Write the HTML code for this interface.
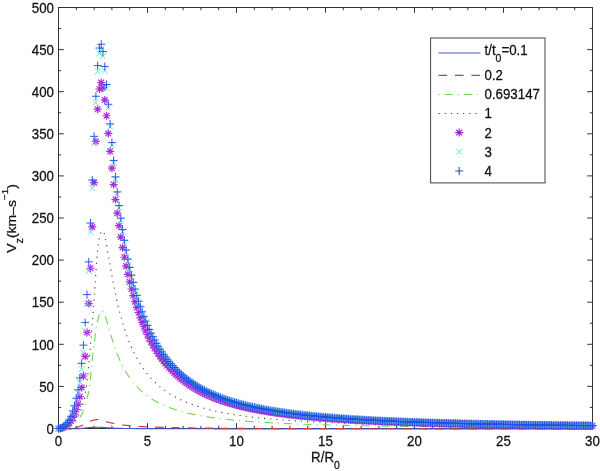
<!DOCTYPE html>
<html><head><meta charset="utf-8"><style>
html,body{margin:0;padding:0;background:#fff;width:600px;height:471px;overflow:hidden}
svg{display:block;will-change:transform;font-family:"Liberation Sans",sans-serif;font-size:13.3px;fill:#111}
text{stroke:#111;stroke-width:0.25px}
</style></head><body>
<svg width="600" height="471" viewBox="0 0 600 471">
<rect width="600" height="471" fill="#fff"/>
<rect x="58.50" y="7.50" width="534.00" height="421.00" fill="none" stroke="#333" stroke-width="1"/>
<path d="M58.50 428.50v-5.3M58.50 7.50v5.3M76.30 428.50v-2.7M76.30 7.50v2.7M94.10 428.50v-2.7M94.10 7.50v2.7M111.90 428.50v-2.7M111.90 7.50v2.7M129.70 428.50v-2.7M129.70 7.50v2.7M147.50 428.50v-5.3M147.50 7.50v5.3M165.30 428.50v-2.7M165.30 7.50v2.7M183.10 428.50v-2.7M183.10 7.50v2.7M200.90 428.50v-2.7M200.90 7.50v2.7M218.70 428.50v-2.7M218.70 7.50v2.7M236.50 428.50v-5.3M236.50 7.50v5.3M254.30 428.50v-2.7M254.30 7.50v2.7M272.10 428.50v-2.7M272.10 7.50v2.7M289.90 428.50v-2.7M289.90 7.50v2.7M307.70 428.50v-2.7M307.70 7.50v2.7M325.50 428.50v-5.3M325.50 7.50v5.3M343.30 428.50v-2.7M343.30 7.50v2.7M361.10 428.50v-2.7M361.10 7.50v2.7M378.90 428.50v-2.7M378.90 7.50v2.7M396.70 428.50v-2.7M396.70 7.50v2.7M414.50 428.50v-5.3M414.50 7.50v5.3M432.30 428.50v-2.7M432.30 7.50v2.7M450.10 428.50v-2.7M450.10 7.50v2.7M467.90 428.50v-2.7M467.90 7.50v2.7M485.70 428.50v-2.7M485.70 7.50v2.7M503.50 428.50v-5.3M503.50 7.50v5.3M521.30 428.50v-2.7M521.30 7.50v2.7M539.10 428.50v-2.7M539.10 7.50v2.7M556.90 428.50v-2.7M556.90 7.50v2.7M574.70 428.50v-2.7M574.70 7.50v2.7M592.50 428.50v-5.3M592.50 7.50v5.3M58.50 428.50h5.3M592.50 428.50h-5.3M58.50 407.45h2.7M592.50 407.45h-2.7M58.50 386.40h5.3M592.50 386.40h-5.3M58.50 365.35h2.7M592.50 365.35h-2.7M58.50 344.30h5.3M592.50 344.30h-5.3M58.50 323.25h2.7M592.50 323.25h-2.7M58.50 302.20h5.3M592.50 302.20h-5.3M58.50 281.15h2.7M592.50 281.15h-2.7M58.50 260.10h5.3M592.50 260.10h-5.3M58.50 239.05h2.7M592.50 239.05h-2.7M58.50 218.00h5.3M592.50 218.00h-5.3M58.50 196.95h2.7M592.50 196.95h-2.7M58.50 175.90h5.3M592.50 175.90h-5.3M58.50 154.85h2.7M592.50 154.85h-2.7M58.50 133.80h5.3M592.50 133.80h-5.3M58.50 112.75h2.7M592.50 112.75h-2.7M58.50 91.70h5.3M592.50 91.70h-5.3M58.50 70.65h2.7M592.50 70.65h-2.7M58.50 49.60h5.3M592.50 49.60h-5.3M58.50 28.55h2.7M592.50 28.55h-2.7M58.50 7.50h5.3M592.50 7.50h-5.3" stroke="#333" stroke-width="1" fill="none"/>
<path d="M58.50,428.90 L58.68,428.90 L58.86,428.90 L59.03,428.90 L59.21,428.90 L59.39,428.90 L59.57,428.90 L59.75,428.90 L59.92,428.90 L60.10,428.90 L60.28,428.90 L60.46,428.90 L60.64,428.90 L60.81,428.90 L60.99,428.90 L61.17,428.90 L61.35,428.90 L61.53,428.90 L61.70,428.90 L61.88,428.89 L62.06,428.89 L62.24,428.89 L62.42,428.89 L62.59,428.89 L62.77,428.89 L62.95,428.89 L63.13,428.89 L63.31,428.89 L63.48,428.89 L63.66,428.89 L63.84,428.89 L64.02,428.89 L64.20,428.89 L64.37,428.88 L64.55,428.88 L64.73,428.88 L64.91,428.88 L65.09,428.88 L65.26,428.88 L65.44,428.88 L65.62,428.88 L65.80,428.88 L65.98,428.88 L66.15,428.87 L66.33,428.87 L66.51,428.87 L66.69,428.87 L66.87,428.87 L67.04,428.87 L67.22,428.87 L67.40,428.87 L67.58,428.86 L67.76,428.86 L67.93,428.86 L68.11,428.86 L68.29,428.86 L68.47,428.86 L68.65,428.86 L68.82,428.85 L69.00,428.85 L69.18,428.85 L69.36,428.85 L69.54,428.85 L69.71,428.85 L69.89,428.84 L70.07,428.84 L70.25,428.84 L70.43,428.84 L70.60,428.84 L70.78,428.84 L70.96,428.83 L71.14,428.83 L71.32,428.83 L71.49,428.83 L71.67,428.83 L71.85,428.83 L72.03,428.82 L72.21,428.82 L72.38,428.82 L72.56,428.82 L72.74,428.82 L72.92,428.81 L73.10,428.81 L73.27,428.81 L73.45,428.81 L73.63,428.80 L73.81,428.80 L73.99,428.80 L74.16,428.79 L74.34,428.79 L74.52,428.78 L74.70,428.78 L74.88,428.77 L75.05,428.77 L75.23,428.76 L75.41,428.76 L75.59,428.75 L75.77,428.75 L75.94,428.74 L76.12,428.73 L76.30,428.73 L76.48,428.72 L76.66,428.71 L76.83,428.71 L77.01,428.70 L77.19,428.69 L77.37,428.68 L77.55,428.68 L77.72,428.67 L77.90,428.66 L78.08,428.65 L78.26,428.64 L78.44,428.64 L78.61,428.63 L78.79,428.62 L78.97,428.61 L79.15,428.60 L79.33,428.59 L79.50,428.58 L79.68,428.57 L79.86,428.56 L80.04,428.55 L80.22,428.54 L80.39,428.53 L80.57,428.52 L80.75,428.50 L80.93,428.49 L81.11,428.47 L81.28,428.46 L81.46,428.44 L81.64,428.42 L81.82,428.40 L82.00,428.38 L82.17,428.36 L82.35,428.34 L82.53,428.32 L82.71,428.30 L82.89,428.28 L83.06,428.26 L83.24,428.23 L83.42,428.21 L83.60,428.19 L83.78,428.17 L83.95,428.15 L84.13,428.12 L84.31,428.10 L84.49,428.08 L84.67,428.06 L84.84,428.03 L85.02,428.01 L85.20,427.99 L85.38,427.97 L85.56,427.95 L85.73,427.93 L85.91,427.91 L86.09,427.89 L86.27,427.87 L86.45,427.85 L86.62,427.84 L86.80,427.82 L86.98,427.81 L87.16,427.79 L87.34,427.77 L87.51,427.76 L87.69,427.74 L87.87,427.73 L88.05,427.71 L88.23,427.69 L88.40,427.68 L88.58,427.66 L88.76,427.64 L88.94,427.62 L89.12,427.61 L89.29,427.59 L89.47,427.57 L89.65,427.56 L89.83,427.54 L90.01,427.52 L90.18,427.51 L90.36,427.49 L90.54,427.48 L90.72,427.46 L90.90,427.45 L91.07,427.43 L91.25,427.42 L91.43,427.41 L91.61,427.39 L91.79,427.38 L91.96,427.37 L92.14,427.36 L92.32,427.35 L92.50,427.34 L92.68,427.33 L92.85,427.33 L93.03,427.32 L93.21,427.31 L93.39,427.31 L93.57,427.31 L93.74,427.30 L93.92,427.30 L94.10,427.30 L94.28,427.30 L94.46,427.30 L94.63,427.30 L94.81,427.30 L94.99,427.30 L95.17,427.30 L95.35,427.30 L95.52,427.30 L95.70,427.30 L95.88,427.30 L96.06,427.30 L96.24,427.30 L96.41,427.30 L96.59,427.30 L96.77,427.30 L96.95,427.30 L97.13,427.30 L97.30,427.30 L97.48,427.30 L97.66,427.30 L97.84,427.30 L98.02,427.30 L98.19,427.30 L98.37,427.30 L98.55,427.30 L98.73,427.30 L98.91,427.30 L99.08,427.30 L99.26,427.30 L99.44,427.30 L99.62,427.30 L99.80,427.30 L99.97,427.30 L100.15,427.31 L100.33,427.31 L100.51,427.32 L100.69,427.32 L100.86,427.33 L101.04,427.34 L101.22,427.35 L101.40,427.36 L101.58,427.37 L101.75,427.38 L101.93,427.39 L102.11,427.40 L102.29,427.41 L102.47,427.42 L102.64,427.43 L102.82,427.45 L103.00,427.46 L103.18,427.47 L103.36,427.49 L103.53,427.50 L103.71,427.51 L103.89,427.53 L104.07,427.54 L104.25,427.56 L104.42,427.57 L104.60,427.58 L104.78,427.60 L104.96,427.61 L105.14,427.62 L105.31,427.64 L105.49,427.65 L105.67,427.66 L105.85,427.68 L106.03,427.69 L106.20,427.70 L106.38,427.71 L106.56,427.72 L106.74,427.73 L106.92,427.74 L107.09,427.75 L107.27,427.76 L107.45,427.77 L107.63,427.79 L107.81,427.80 L107.98,427.81 L108.16,427.82 L108.34,427.83 L108.52,427.84 L108.70,427.85 L108.87,427.87 L109.05,427.88 L109.23,427.89 L109.41,427.90 L109.59,427.91 L109.76,427.92 L109.94,427.93 L110.12,427.95 L110.30,427.96 L110.48,427.97 L110.65,427.98 L110.83,427.99 L111.01,428.00 L111.19,428.01 L111.37,428.03 L111.54,428.04 L111.72,428.05 L111.90,428.06 L112.08,428.07 L112.26,428.08 L112.43,428.09 L112.61,428.10 L112.79,428.11 L112.97,428.12 L113.15,428.13 L113.32,428.14 L113.50,428.15 L113.68,428.15 L113.86,428.16 L114.04,428.17 L114.21,428.18 L114.39,428.19 L114.57,428.19 L114.75,428.20 L114.93,428.21 L115.10,428.21 L115.28,428.22 L115.46,428.23 L115.64,428.23 L115.82,428.24 L115.99,428.24 L116.17,428.25 L116.35,428.25 L116.53,428.26 L116.71,428.26 L116.88,428.27 L117.06,428.27 L117.24,428.28 L117.42,428.29 L117.60,428.29 L117.77,428.30 L117.95,428.30 L118.13,428.30 L118.31,428.31 L118.49,428.31 L118.66,428.32 L118.84,428.32 L119.02,428.33 L119.20,428.33 L119.38,428.34 L119.55,428.34 L119.73,428.35 L119.91,428.35 L120.09,428.36 L120.27,428.36 L120.44,428.36 L120.62,428.37 L120.80,428.37 L120.98,428.38 L121.16,428.38 L121.33,428.39 L121.51,428.39 L121.69,428.39 L121.87,428.40 L122.05,428.40 L122.22,428.40 L122.40,428.41 L122.58,428.41 L122.76,428.42 L122.94,428.42 L123.11,428.42 L123.29,428.43 L123.47,428.43 L123.65,428.43 L123.83,428.44 L124.00,428.44 L124.18,428.44 L124.36,428.45 L124.54,428.45 L124.72,428.45 L124.89,428.46 L125.07,428.46 L125.25,428.46 L125.43,428.46 L125.61,428.47 L125.78,428.47 L125.96,428.47 L126.14,428.48 L126.32,428.48 L126.50,428.48 L126.67,428.48 L126.85,428.49 L127.03,428.49 L127.21,428.49 L127.39,428.49 L127.56,428.50 L127.74,428.50 L127.92,428.50 L128.10,428.50 L128.28,428.51 L128.45,428.51 L128.63,428.51 L128.81,428.51 L128.99,428.51 L129.17,428.52 L129.34,428.52 L129.52,428.52 L129.70,428.52 L129.88,428.52 L130.06,428.52 L130.23,428.53 L130.41,428.53 L130.59,428.53 L130.77,428.53 L130.95,428.53 L131.12,428.54 L131.30,428.54 L131.48,428.54 L131.66,428.54 L131.84,428.54 L132.01,428.54 L132.19,428.55 L132.37,428.55 L132.55,428.55 L132.73,428.55 L132.90,428.55 L133.08,428.55 L133.26,428.55 L133.44,428.56 L133.62,428.56 L133.79,428.56 L133.97,428.56 L134.15,428.56 L134.33,428.56 L134.51,428.57 L134.68,428.57 L134.86,428.57 L135.04,428.57 L135.22,428.57 L135.40,428.57 L135.57,428.58 L135.75,428.58 L135.93,428.58 L136.11,428.58 L136.29,428.58 L136.46,428.58 L136.64,428.58 L136.82,428.59 L137.00,428.59 L137.18,428.59 L137.35,428.59 L137.53,428.59 L137.71,428.59 L137.89,428.59 L138.07,428.60 L138.24,428.60 L138.42,428.60 L138.60,428.60 L138.78,428.60 L138.96,428.60 L139.13,428.60 L139.31,428.61 L139.49,428.61 L139.67,428.61 L139.85,428.61 L140.02,428.61 L140.20,428.61 L140.38,428.61 L140.56,428.61 L140.74,428.62 L140.91,428.62 L141.09,428.62 L141.27,428.62 L141.45,428.62 L141.63,428.62 L141.80,428.62 L141.98,428.62 L142.16,428.63 L142.34,428.63 L142.52,428.63 L142.69,428.63 L142.87,428.63 L143.05,428.63 L143.23,428.63 L143.41,428.63 L143.58,428.64 L143.76,428.64 L143.94,428.64 L144.12,428.64 L144.30,428.64 L144.47,428.64 L144.65,428.64 L144.83,428.64 L145.01,428.64 L145.19,428.65 L145.36,428.65 L145.54,428.65 L145.72,428.65 L145.90,428.65 L146.08,428.65 L146.25,428.65 L146.43,428.65 L146.61,428.65 L146.79,428.66 L146.97,428.66 L147.14,428.66 L147.32,428.66 L147.50,428.66 L147.86,428.66 L148.21,428.66 L148.57,428.67 L148.92,428.67 L149.28,428.67 L149.64,428.67 L149.99,428.67 L150.35,428.67 L150.70,428.68 L151.06,428.68 L151.42,428.68 L151.77,428.68 L152.13,428.68 L152.48,428.69 L152.84,428.69 L153.20,428.69 L153.55,428.69 L153.91,428.69 L154.26,428.69 L154.62,428.69 L154.98,428.70 L155.33,428.70 L155.69,428.70 L156.04,428.70 L156.40,428.70 L156.76,428.70 L157.11,428.71 L157.47,428.71 L157.82,428.71 L158.18,428.71 L158.54,428.71 L158.89,428.71 L159.25,428.71 L159.60,428.71 L159.96,428.72 L160.32,428.72 L160.67,428.72 L161.03,428.72 L161.38,428.72 L161.74,428.72 L162.10,428.72 L162.45,428.72 L162.81,428.72 L163.16,428.73 L163.52,428.73 L163.88,428.73 L164.23,428.73 L164.59,428.73 L164.94,428.73 L165.30,428.73 L165.66,428.73 L166.01,428.73 L166.37,428.73 L166.72,428.74 L167.08,428.74 L167.44,428.74 L167.79,428.74 L168.15,428.74 L168.50,428.74 L168.86,428.74 L169.22,428.74 L169.57,428.74 L169.93,428.74 L170.28,428.74 L170.64,428.75 L171.00,428.75 L171.35,428.75 L171.71,428.75 L172.06,428.75 L172.42,428.75 L172.78,428.75 L173.13,428.75 L173.49,428.75 L173.84,428.75 L174.20,428.75 L174.56,428.75 L174.91,428.76 L175.27,428.76 L175.62,428.76 L175.98,428.76 L176.34,428.76 L176.69,428.76 L177.05,428.76 L177.40,428.76 L177.76,428.76 L178.12,428.76 L178.47,428.76 L178.83,428.76 L179.18,428.77 L179.54,428.77 L179.90,428.77 L180.25,428.77 L180.61,428.77 L180.96,428.77 L181.32,428.77 L181.68,428.77 L182.03,428.77 L182.39,428.77 L182.74,428.77 L183.10,428.77 L183.46,428.77 L183.81,428.78 L184.17,428.78 L184.52,428.78 L184.88,428.78 L185.24,428.78 L185.59,428.78 L185.95,428.78 L186.30,428.78 L186.66,428.78 L187.02,428.78 L187.37,428.78 L187.73,428.78 L188.08,428.78 L188.44,428.78 L188.80,428.79 L189.15,428.79 L189.51,428.79 L189.86,428.79 L190.22,428.79 L190.58,428.79 L190.93,428.79 L191.29,428.79 L191.64,428.79 L192.00,428.79 L192.36,428.79 L192.71,428.79 L193.07,428.79 L193.42,428.79 L193.78,428.79 L194.14,428.80 L194.49,428.80 L194.85,428.80 L195.20,428.80 L195.56,428.80 L195.92,428.80 L196.27,428.80 L196.63,428.80 L196.98,428.80 L197.34,428.80 L197.70,428.80 L198.05,428.80 L198.41,428.80 L198.76,428.80 L199.12,428.80 L199.48,428.80 L199.83,428.81 L200.19,428.81 L200.54,428.81 L200.90,428.81 L201.26,428.81 L201.61,428.81 L201.97,428.81 L202.32,428.81 L202.68,428.81 L203.04,428.81 L203.39,428.81 L203.75,428.81 L204.10,428.81 L204.46,428.81 L204.82,428.81 L205.17,428.81 L205.53,428.81 L205.88,428.81 L206.24,428.81 L206.60,428.82 L206.95,428.82 L207.31,428.82 L207.66,428.82 L208.02,428.82 L208.38,428.82 L208.73,428.82 L209.09,428.82 L209.44,428.82 L209.80,428.82 L210.16,428.82 L210.51,428.82 L210.87,428.82 L211.22,428.82 L211.58,428.82 L211.94,428.82 L212.29,428.82 L212.65,428.82 L213.00,428.82 L213.36,428.82 L213.72,428.82 L214.07,428.82 L214.43,428.83 L214.78,428.83 L215.14,428.83 L215.50,428.83 L215.85,428.83 L216.21,428.83 L216.56,428.83 L216.92,428.83 L217.28,428.83 L217.63,428.83 L217.99,428.83 L218.34,428.83 L218.70,428.83 L219.06,428.83 L219.41,428.83 L219.77,428.83 L220.12,428.83 L220.48,428.83 L220.84,428.83 L221.19,428.83 L221.55,428.83 L221.90,428.83 L222.26,428.83 L222.62,428.83 L222.97,428.83 L223.33,428.83 L223.68,428.83 L224.04,428.83 L224.40,428.83 L224.75,428.83 L225.11,428.83 L225.46,428.84 L225.82,428.84 L226.18,428.84 L226.53,428.84 L226.89,428.84 L227.24,428.84 L227.60,428.84 L227.96,428.84 L228.31,428.84 L228.67,428.84 L229.02,428.84 L229.38,428.84 L229.74,428.84 L230.09,428.84 L230.45,428.84 L230.80,428.84 L231.16,428.84 L231.52,428.84 L231.87,428.84 L232.23,428.84 L232.58,428.84 L232.94,428.84 L233.30,428.84 L233.65,428.84 L234.01,428.84 L234.36,428.84 L234.72,428.84 L235.08,428.84 L235.43,428.84 L235.79,428.84 L236.14,428.84 L236.50,428.84 L236.86,428.84 L237.21,428.84 L237.57,428.84 L237.92,428.84 L238.28,428.84 L238.64,428.84 L238.99,428.84 L239.35,428.84 L239.70,428.84 L240.06,428.84 L240.42,428.84 L240.77,428.84 L241.13,428.84 L241.48,428.84 L241.84,428.84 L242.20,428.84 L242.55,428.84 L242.91,428.84 L243.26,428.84 L243.62,428.84 L243.98,428.84 L244.33,428.84 L244.69,428.84 L245.04,428.84 L245.40,428.84 L245.76,428.84 L246.11,428.84 L246.47,428.84 L246.82,428.84 L247.18,428.84 L247.54,428.84 L247.89,428.84 L248.25,428.84 L248.60,428.84 L248.96,428.84 L249.32,428.85 L249.67,428.85 L250.03,428.85 L250.38,428.85 L250.74,428.85 L251.10,428.85 L251.45,428.85 L251.81,428.85 L252.16,428.85 L252.52,428.85 L252.88,428.85 L253.23,428.85 L253.59,428.85 L253.94,428.85 L254.30,428.85 L254.66,428.85 L255.01,428.85 L255.37,428.85 L255.72,428.85 L256.08,428.85 L256.44,428.85 L256.79,428.85 L257.15,428.85 L257.50,428.85 L257.86,428.85 L258.22,428.85 L258.57,428.85 L258.93,428.85 L259.28,428.85 L259.64,428.85 L260.00,428.85 L260.35,428.85 L260.71,428.85 L261.06,428.85 L261.42,428.85 L261.78,428.85 L262.13,428.85 L262.49,428.85 L262.84,428.85 L263.20,428.85 L263.56,428.85 L263.91,428.85 L264.27,428.85 L264.62,428.85 L264.98,428.85 L265.34,428.85 L265.69,428.85 L266.05,428.85 L266.40,428.85 L266.76,428.85 L267.12,428.85 L267.47,428.85 L267.83,428.85 L268.18,428.85 L268.54,428.85 L268.90,428.85 L269.25,428.85 L269.61,428.85 L269.96,428.85 L270.32,428.85 L270.68,428.85 L271.03,428.85 L271.39,428.85 L271.74,428.85 L272.10,428.85 L272.46,428.85 L272.81,428.85 L273.17,428.85 L273.52,428.85 L273.88,428.85 L274.24,428.85 L274.59,428.85 L274.95,428.85 L275.30,428.85 L275.66,428.85 L276.02,428.85 L276.37,428.85 L276.73,428.85 L277.08,428.85 L277.44,428.85 L277.80,428.85 L278.15,428.85 L278.51,428.85 L278.86,428.85 L279.22,428.85 L279.58,428.85 L279.93,428.85 L280.29,428.85 L280.64,428.85 L281.00,428.85 L281.36,428.85 L281.71,428.85 L282.07,428.85 L282.42,428.85 L282.78,428.85 L283.14,428.85 L283.49,428.85 L283.85,428.85 L284.20,428.85 L284.56,428.86 L284.92,428.86 L285.27,428.86 L285.63,428.86 L285.98,428.86 L286.34,428.86 L286.70,428.86 L287.05,428.86 L287.41,428.86 L287.76,428.86 L288.12,428.86 L288.48,428.86 L288.83,428.86 L289.19,428.86 L289.54,428.86 L289.90,428.86 L290.26,428.86 L290.61,428.86 L290.97,428.86 L291.32,428.86 L291.68,428.86 L292.04,428.86 L292.39,428.86 L292.75,428.86 L293.10,428.86 L293.46,428.86 L293.82,428.86 L294.17,428.86 L294.53,428.86 L294.88,428.86 L295.24,428.86 L295.60,428.86 L295.95,428.86 L296.31,428.86 L296.66,428.86 L297.02,428.86 L297.38,428.86 L297.73,428.86 L298.09,428.86 L298.44,428.86 L298.80,428.86 L299.16,428.86 L299.51,428.86 L299.87,428.86 L300.22,428.86 L300.58,428.86 L300.94,428.86 L301.29,428.86 L301.65,428.86 L302.00,428.86 L302.36,428.86 L302.72,428.86 L303.07,428.86 L303.43,428.86 L303.78,428.86 L304.14,428.86 L304.50,428.86 L304.85,428.86 L305.21,428.86 L305.56,428.86 L305.92,428.86 L306.28,428.86 L306.63,428.86 L306.99,428.86 L307.34,428.86 L307.70,428.86 L308.06,428.86 L308.41,428.86 L308.77,428.86 L309.12,428.86 L309.48,428.86 L309.84,428.86 L310.19,428.86 L310.55,428.86 L310.90,428.86 L311.26,428.86 L311.62,428.86 L311.97,428.86 L312.33,428.86 L312.68,428.86 L313.04,428.86 L313.40,428.86 L313.75,428.86 L314.11,428.86 L314.46,428.86 L314.82,428.86 L315.18,428.86 L315.53,428.86 L315.89,428.86 L316.24,428.86 L316.60,428.86 L316.96,428.86 L317.31,428.86 L317.67,428.86 L318.02,428.86 L318.38,428.86 L318.74,428.86 L319.09,428.86 L319.45,428.86 L319.80,428.86 L320.16,428.86 L320.52,428.86 L320.87,428.86 L321.23,428.86 L321.58,428.86 L321.94,428.86 L322.30,428.86 L322.65,428.86 L323.01,428.86 L323.36,428.86 L323.72,428.86 L324.08,428.86 L324.43,428.86 L324.79,428.86 L325.14,428.86 L325.50,428.86 L325.86,428.86 L326.21,428.87 L326.57,428.87 L326.92,428.87 L327.28,428.87 L327.64,428.87 L327.99,428.87 L328.35,428.87 L328.70,428.87 L329.06,428.87 L329.42,428.87 L329.77,428.87 L330.13,428.87 L330.48,428.87 L330.84,428.87 L331.20,428.87 L331.55,428.87 L331.91,428.87 L332.26,428.87 L332.62,428.87 L332.98,428.87 L333.33,428.87 L333.69,428.87 L334.04,428.87 L334.40,428.87 L334.76,428.87 L335.11,428.87 L335.47,428.87 L335.82,428.87 L336.18,428.87 L336.54,428.87 L336.89,428.87 L337.25,428.87 L337.60,428.87 L337.96,428.87 L338.32,428.87 L338.67,428.87 L339.03,428.87 L339.38,428.87 L339.74,428.87 L340.10,428.87 L340.45,428.87 L340.81,428.87 L341.16,428.87 L341.52,428.87 L341.88,428.87 L342.23,428.87 L342.59,428.87 L342.94,428.87 L343.30,428.87 L343.66,428.87 L344.01,428.87 L344.37,428.87 L344.72,428.87 L345.08,428.87 L345.44,428.87 L345.79,428.87 L346.15,428.87 L346.50,428.87 L346.86,428.87 L347.22,428.87 L347.57,428.87 L347.93,428.87 L348.28,428.87 L348.64,428.87 L349.00,428.87 L349.35,428.87 L349.71,428.87 L350.06,428.87 L350.42,428.87 L350.78,428.87 L351.13,428.87 L351.49,428.87 L351.84,428.87 L352.20,428.87 L352.56,428.87 L352.91,428.87 L353.27,428.87 L353.62,428.87 L353.98,428.87 L354.34,428.87 L354.69,428.87 L355.05,428.87 L355.40,428.87 L355.76,428.87 L356.12,428.87 L356.47,428.87 L356.83,428.87 L357.18,428.87 L357.54,428.87 L357.90,428.87 L358.25,428.87 L358.61,428.87 L358.96,428.87 L359.32,428.87 L359.68,428.87 L360.03,428.87 L360.39,428.87 L360.74,428.87 L361.10,428.87 L361.46,428.87 L361.81,428.87 L362.17,428.87 L362.52,428.87 L362.88,428.87 L363.24,428.87 L363.59,428.87 L363.95,428.87 L364.30,428.87 L364.66,428.87 L365.02,428.87 L365.37,428.87 L365.73,428.87 L366.08,428.87 L366.44,428.87 L366.80,428.87 L367.15,428.87 L367.51,428.87 L367.86,428.87 L368.22,428.87 L368.58,428.87 L368.93,428.87 L369.29,428.87 L369.64,428.87 L370.00,428.87 L370.36,428.87 L370.71,428.87 L371.07,428.87 L371.42,428.87 L371.78,428.87 L372.14,428.87 L372.49,428.87 L372.85,428.87 L373.20,428.87 L373.56,428.87 L373.92,428.87 L374.27,428.87 L374.63,428.87 L374.98,428.87 L375.34,428.87 L375.70,428.87 L376.05,428.87 L376.41,428.87 L376.76,428.87 L377.12,428.87 L377.48,428.87 L377.83,428.88 L378.19,428.88 L378.54,428.88 L378.90,428.88 L379.26,428.88 L379.61,428.88 L379.97,428.88 L380.32,428.88 L380.68,428.88 L381.04,428.88 L381.39,428.88 L381.75,428.88 L382.10,428.88 L382.46,428.88 L382.82,428.88 L383.17,428.88 L383.53,428.88 L383.88,428.88 L384.24,428.88 L384.60,428.88 L384.95,428.88 L385.31,428.88 L385.66,428.88 L386.02,428.88 L386.38,428.88 L386.73,428.88 L387.09,428.88 L387.44,428.88 L387.80,428.88 L388.16,428.88 L388.51,428.88 L388.87,428.88 L389.22,428.88 L389.58,428.88 L389.94,428.88 L390.29,428.88 L390.65,428.88 L391.00,428.88 L391.36,428.88 L391.72,428.88 L392.07,428.88 L392.43,428.88 L392.78,428.88 L393.14,428.88 L393.50,428.88 L393.85,428.88 L394.21,428.88 L394.56,428.88 L394.92,428.88 L395.28,428.88 L395.63,428.88 L395.99,428.88 L396.34,428.88 L396.70,428.88 L397.06,428.88 L397.41,428.88 L397.77,428.88 L398.12,428.88 L398.48,428.88 L398.84,428.88 L399.19,428.88 L399.55,428.88 L399.90,428.88 L400.26,428.88 L400.62,428.88 L400.97,428.88 L401.33,428.88 L401.68,428.88 L402.04,428.88 L402.40,428.88 L402.75,428.88 L403.11,428.88 L403.46,428.88 L403.82,428.88 L404.18,428.88 L404.53,428.88 L404.89,428.88 L405.24,428.88 L405.60,428.88 L405.96,428.88 L406.31,428.88 L406.67,428.88 L407.02,428.88 L407.38,428.88 L407.74,428.88 L408.09,428.88 L408.45,428.88 L408.80,428.88 L409.16,428.88 L409.52,428.88 L409.87,428.88 L410.23,428.88 L410.58,428.88 L410.94,428.88 L411.30,428.88 L411.65,428.88 L412.01,428.88 L412.36,428.88 L412.72,428.88 L413.08,428.88 L413.43,428.88 L413.79,428.88 L414.14,428.88 L414.50,428.88 L414.86,428.88 L415.21,428.88 L415.57,428.88 L415.92,428.88 L416.28,428.88 L416.64,428.88 L416.99,428.88 L417.35,428.88 L417.70,428.88 L418.06,428.88 L418.42,428.88 L418.77,428.88 L419.13,428.88 L419.48,428.88 L419.84,428.88 L420.20,428.88 L420.55,428.88 L420.91,428.88 L421.26,428.88 L421.62,428.88 L421.98,428.88 L422.33,428.88 L422.69,428.88 L423.04,428.88 L423.40,428.88 L423.76,428.88 L424.11,428.88 L424.47,428.88 L424.82,428.88 L425.18,428.88 L425.54,428.88 L425.89,428.88 L426.25,428.88 L426.60,428.88 L426.96,428.88 L427.32,428.88 L427.67,428.88 L428.03,428.88 L428.38,428.88 L428.74,428.88 L429.10,428.88 L429.45,428.88 L429.81,428.88 L430.16,428.88 L430.52,428.88 L430.88,428.88 L431.23,428.88 L431.59,428.88 L431.94,428.88 L432.30,428.88 L432.66,428.88 L433.01,428.88 L433.37,428.88 L433.72,428.88 L434.08,428.88 L434.44,428.88 L434.79,428.88 L435.15,428.88 L435.50,428.88 L435.86,428.88 L436.22,428.88 L436.57,428.88 L436.93,428.88 L437.28,428.88 L437.64,428.88 L438.00,428.88 L438.35,428.88 L438.71,428.88 L439.06,428.88 L439.42,428.88 L439.78,428.88 L440.13,428.88 L440.49,428.88 L440.84,428.88 L441.20,428.88 L441.56,428.88 L441.91,428.88 L442.27,428.88 L442.62,428.88 L442.98,428.88 L443.34,428.88 L443.69,428.88 L444.05,428.88 L444.40,428.88 L444.76,428.88 L445.12,428.88 L445.47,428.88 L445.83,428.88 L446.18,428.88 L446.54,428.88 L446.90,428.88 L447.25,428.88 L447.61,428.88 L447.96,428.88 L448.32,428.88 L448.68,428.88 L449.03,428.88 L449.39,428.88 L449.74,428.88 L450.10,428.88 L450.46,428.88 L450.81,428.88 L451.17,428.88 L451.52,428.88 L451.88,428.88 L452.24,428.88 L452.59,428.88 L452.95,428.88 L453.30,428.89 L453.66,428.89 L454.02,428.89 L454.37,428.89 L454.73,428.89 L455.08,428.89 L455.44,428.89 L455.80,428.89 L456.15,428.89 L456.51,428.89 L456.86,428.89 L457.22,428.89 L457.58,428.89 L457.93,428.89 L458.29,428.89 L458.64,428.89 L459.00,428.89 L459.36,428.89 L459.71,428.89 L460.07,428.89 L460.42,428.89 L460.78,428.89 L461.14,428.89 L461.49,428.89 L461.85,428.89 L462.20,428.89 L462.56,428.89 L462.92,428.89 L463.27,428.89 L463.63,428.89 L463.98,428.89 L464.34,428.89 L464.70,428.89 L465.05,428.89 L465.41,428.89 L465.76,428.89 L466.12,428.89 L466.48,428.89 L466.83,428.89 L467.19,428.89 L467.54,428.89 L467.90,428.89 L468.26,428.89 L468.61,428.89 L468.97,428.89 L469.32,428.89 L469.68,428.89 L470.04,428.89 L470.39,428.89 L470.75,428.89 L471.10,428.89 L471.46,428.89 L471.82,428.89 L472.17,428.89 L472.53,428.89 L472.88,428.89 L473.24,428.89 L473.60,428.89 L473.95,428.89 L474.31,428.89 L474.66,428.89 L475.02,428.89 L475.38,428.89 L475.73,428.89 L476.09,428.89 L476.44,428.89 L476.80,428.89 L477.16,428.89 L477.51,428.89 L477.87,428.89 L478.22,428.89 L478.58,428.89 L478.94,428.89 L479.29,428.89 L479.65,428.89 L480.00,428.89 L480.36,428.89 L480.72,428.89 L481.07,428.89 L481.43,428.89 L481.78,428.89 L482.14,428.89 L482.50,428.89 L482.85,428.89 L483.21,428.89 L483.56,428.89 L483.92,428.89 L484.28,428.89 L484.63,428.89 L484.99,428.89 L485.34,428.89 L485.70,428.89 L486.06,428.89 L486.41,428.89 L486.77,428.89 L487.12,428.89 L487.48,428.89 L487.84,428.89 L488.19,428.89 L488.55,428.89 L488.90,428.89 L489.26,428.89 L489.62,428.89 L489.97,428.89 L490.33,428.89 L490.68,428.89 L491.04,428.89 L491.40,428.89 L491.75,428.89 L492.11,428.89 L492.46,428.89 L492.82,428.89 L493.18,428.89 L493.53,428.89 L493.89,428.89 L494.24,428.89 L494.60,428.89 L494.96,428.89 L495.31,428.89 L495.67,428.89 L496.02,428.89 L496.38,428.89 L496.74,428.89 L497.09,428.89 L497.45,428.89 L497.80,428.89 L498.16,428.89 L498.52,428.89 L498.87,428.89 L499.23,428.89 L499.58,428.89 L499.94,428.89 L500.30,428.89 L500.65,428.89 L501.01,428.89 L501.36,428.89 L501.72,428.89 L502.08,428.89 L502.43,428.89 L502.79,428.89 L503.14,428.89 L503.50,428.89 L503.86,428.89 L504.21,428.89 L504.57,428.89 L504.92,428.89 L505.28,428.89 L505.64,428.89 L505.99,428.89 L506.35,428.89 L506.70,428.89 L507.06,428.89 L507.42,428.89 L507.77,428.89 L508.13,428.89 L508.48,428.89 L508.84,428.89 L509.20,428.89 L509.55,428.89 L509.91,428.89 L510.26,428.89 L510.62,428.89 L510.98,428.89 L511.33,428.89 L511.69,428.89 L512.04,428.89 L512.40,428.89 L512.76,428.89 L513.11,428.89 L513.47,428.89 L513.82,428.89 L514.18,428.89 L514.54,428.89 L514.89,428.89 L515.25,428.89 L515.60,428.89 L515.96,428.89 L516.32,428.89 L516.67,428.89 L517.03,428.89 L517.38,428.89 L517.74,428.89 L518.10,428.89 L518.45,428.89 L518.81,428.89 L519.16,428.89 L519.52,428.89 L519.88,428.89 L520.23,428.89 L520.59,428.89 L520.94,428.89 L521.30,428.89 L521.66,428.89 L522.01,428.89 L522.37,428.89 L522.72,428.89 L523.08,428.89 L523.44,428.89 L523.79,428.89 L524.15,428.89 L524.50,428.89 L524.86,428.89 L525.22,428.89 L525.57,428.89 L525.93,428.89 L526.28,428.89 L526.64,428.89 L527.00,428.89 L527.35,428.89 L527.71,428.89 L528.06,428.89 L528.42,428.89 L528.78,428.89 L529.13,428.89 L529.49,428.89 L529.84,428.89 L530.20,428.89 L530.56,428.89 L530.91,428.89 L531.27,428.89 L531.62,428.89 L531.98,428.89 L532.34,428.89 L532.69,428.89 L533.05,428.89 L533.40,428.89 L533.76,428.89 L534.12,428.89 L534.47,428.89 L534.83,428.89 L535.18,428.89 L535.54,428.89 L535.90,428.89 L536.25,428.89 L536.61,428.89 L536.96,428.89 L537.32,428.89 L537.68,428.89 L538.03,428.89 L538.39,428.89 L538.74,428.89 L539.10,428.89 L539.46,428.89 L539.81,428.89 L540.17,428.89 L540.52,428.89 L540.88,428.89 L541.24,428.89 L541.59,428.89 L541.95,428.89 L542.30,428.89 L542.66,428.89 L543.02,428.89 L543.37,428.89 L543.73,428.89 L544.08,428.89 L544.44,428.89 L544.80,428.89 L545.15,428.89 L545.51,428.89 L545.86,428.89 L546.22,428.89 L546.58,428.89 L546.93,428.89 L547.29,428.89 L547.64,428.89 L548.00,428.89 L548.36,428.89 L548.71,428.89 L549.07,428.89 L549.42,428.89 L549.78,428.89 L550.14,428.89 L550.49,428.89 L550.85,428.89 L551.20,428.89 L551.56,428.89 L551.92,428.89 L552.27,428.89 L552.63,428.89 L552.98,428.89 L553.34,428.89 L553.70,428.89 L554.05,428.89 L554.41,428.89 L554.76,428.89 L555.12,428.89 L555.48,428.89 L555.83,428.89 L556.19,428.89 L556.54,428.89 L556.90,428.89 L557.26,428.89 L557.61,428.89 L557.97,428.89 L558.32,428.89 L558.68,428.89 L559.04,428.89 L559.39,428.89 L559.75,428.89 L560.10,428.89 L560.46,428.89 L560.82,428.89 L561.17,428.89 L561.53,428.89 L561.88,428.89 L562.24,428.89 L562.60,428.89 L562.95,428.89 L563.31,428.89 L563.66,428.89 L564.02,428.89 L564.38,428.89 L564.73,428.89 L565.09,428.89 L565.44,428.89 L565.80,428.89 L566.16,428.89 L566.51,428.89 L566.87,428.89 L567.22,428.89 L567.58,428.89 L567.94,428.89 L568.29,428.89 L568.65,428.89 L569.00,428.89 L569.36,428.89 L569.72,428.89 L570.07,428.89 L570.43,428.89 L570.78,428.89 L571.14,428.89 L571.50,428.89 L571.85,428.89 L572.21,428.89 L572.56,428.89 L572.92,428.89 L573.28,428.89 L573.63,428.89 L573.99,428.89 L574.34,428.89 L574.70,428.89 L575.06,428.89 L575.41,428.89 L575.77,428.89 L576.12,428.89 L576.48,428.89 L576.84,428.89 L577.19,428.89 L577.55,428.89 L577.90,428.89 L578.26,428.89 L578.62,428.89 L578.97,428.89 L579.33,428.89 L579.68,428.89 L580.04,428.89 L580.40,428.89 L580.75,428.89 L581.11,428.89 L581.46,428.89 L581.82,428.89 L582.18,428.89 L582.53,428.89 L582.89,428.89 L583.24,428.89 L583.60,428.89 L583.96,428.89 L584.31,428.89 L584.67,428.89 L585.02,428.89 L585.38,428.89 L585.74,428.89 L586.09,428.89 L586.45,428.89 L586.80,428.89 L587.16,428.89 L587.52,428.89 L587.87,428.89 L588.23,428.89 L588.58,428.89 L588.94,428.89 L589.30,428.89 L589.65,428.89 L590.01,428.89 L590.36,428.89 L590.72,428.89 L591.08,428.89 L591.43,428.89 L591.79,428.89 L592.14,428.89 L592.50,428.89" fill="none" stroke="#4058d8" stroke-width="1.1"/>
<path d="M58.50,428.90 L58.68,428.90 L58.86,428.90 L59.03,428.90 L59.21,428.90 L59.39,428.90 L59.57,428.89 L59.75,428.89 L59.92,428.89 L60.10,428.89 L60.28,428.88 L60.46,428.88 L60.64,428.88 L60.81,428.87 L60.99,428.87 L61.17,428.87 L61.35,428.86 L61.53,428.86 L61.70,428.85 L61.88,428.85 L62.06,428.84 L62.24,428.84 L62.42,428.83 L62.59,428.82 L62.77,428.82 L62.95,428.81 L63.13,428.81 L63.31,428.80 L63.48,428.79 L63.66,428.78 L63.84,428.78 L64.02,428.77 L64.20,428.76 L64.37,428.75 L64.55,428.75 L64.73,428.74 L64.91,428.73 L65.09,428.72 L65.26,428.71 L65.44,428.71 L65.62,428.70 L65.80,428.69 L65.98,428.68 L66.15,428.67 L66.33,428.66 L66.51,428.65 L66.69,428.64 L66.87,428.63 L67.04,428.62 L67.22,428.61 L67.40,428.61 L67.58,428.60 L67.76,428.58 L67.93,428.57 L68.11,428.56 L68.29,428.55 L68.47,428.54 L68.65,428.52 L68.82,428.51 L69.00,428.49 L69.18,428.47 L69.36,428.46 L69.54,428.44 L69.71,428.42 L69.89,428.40 L70.07,428.38 L70.25,428.36 L70.43,428.34 L70.60,428.32 L70.78,428.30 L70.96,428.28 L71.14,428.25 L71.32,428.23 L71.49,428.21 L71.67,428.18 L71.85,428.16 L72.03,428.13 L72.21,428.11 L72.38,428.08 L72.56,428.05 L72.74,428.02 L72.92,428.00 L73.10,427.97 L73.27,427.94 L73.45,427.91 L73.63,427.88 L73.81,427.85 L73.99,427.82 L74.16,427.79 L74.34,427.76 L74.52,427.72 L74.70,427.69 L74.88,427.66 L75.05,427.63 L75.23,427.59 L75.41,427.56 L75.59,427.52 L75.77,427.49 L75.94,427.45 L76.12,427.42 L76.30,427.38 L76.48,427.35 L76.66,427.31 L76.83,427.27 L77.01,427.23 L77.19,427.18 L77.37,427.14 L77.55,427.09 L77.72,427.04 L77.90,426.99 L78.08,426.94 L78.26,426.89 L78.44,426.83 L78.61,426.78 L78.79,426.72 L78.97,426.66 L79.15,426.60 L79.33,426.54 L79.50,426.48 L79.68,426.42 L79.86,426.35 L80.04,426.29 L80.22,426.22 L80.39,426.15 L80.57,426.09 L80.75,426.02 L80.93,425.95 L81.11,425.88 L81.28,425.81 L81.46,425.74 L81.64,425.66 L81.82,425.59 L82.00,425.52 L82.17,425.45 L82.35,425.37 L82.53,425.30 L82.71,425.22 L82.89,425.15 L83.06,425.07 L83.24,425.00 L83.42,424.92 L83.60,424.85 L83.78,424.77 L83.95,424.70 L84.13,424.62 L84.31,424.53 L84.49,424.45 L84.67,424.36 L84.84,424.27 L85.02,424.17 L85.20,424.08 L85.38,423.98 L85.56,423.88 L85.73,423.78 L85.91,423.68 L86.09,423.57 L86.27,423.47 L86.45,423.36 L86.62,423.26 L86.80,423.15 L86.98,423.04 L87.16,422.93 L87.34,422.83 L87.51,422.72 L87.69,422.61 L87.87,422.51 L88.05,422.40 L88.23,422.30 L88.40,422.19 L88.58,422.09 L88.76,421.99 L88.94,421.89 L89.12,421.79 L89.29,421.70 L89.47,421.60 L89.65,421.51 L89.83,421.43 L90.01,421.34 L90.18,421.26 L90.36,421.18 L90.54,421.11 L90.72,421.03 L90.90,420.97 L91.07,420.90 L91.25,420.84 L91.43,420.78 L91.61,420.72 L91.79,420.66 L91.96,420.60 L92.14,420.55 L92.32,420.49 L92.50,420.44 L92.68,420.39 L92.85,420.34 L93.03,420.30 L93.21,420.25 L93.39,420.21 L93.57,420.17 L93.74,420.13 L93.92,420.09 L94.10,420.06 L94.28,420.03 L94.46,419.99 L94.63,419.96 L94.81,419.93 L94.99,419.89 L95.17,419.86 L95.35,419.83 L95.52,419.80 L95.70,419.76 L95.88,419.73 L96.06,419.70 L96.24,419.68 L96.41,419.65 L96.59,419.62 L96.77,419.60 L96.95,419.58 L97.13,419.56 L97.30,419.54 L97.48,419.52 L97.66,419.50 L97.84,419.49 L98.02,419.48 L98.19,419.48 L98.37,419.47 L98.55,419.47 L98.73,419.47 L98.91,419.48 L99.08,419.49 L99.26,419.50 L99.44,419.52 L99.62,419.54 L99.80,419.57 L99.97,419.59 L100.15,419.62 L100.33,419.65 L100.51,419.68 L100.69,419.71 L100.86,419.74 L101.04,419.77 L101.22,419.81 L101.40,419.84 L101.58,419.88 L101.75,419.93 L101.93,419.98 L102.11,420.03 L102.29,420.09 L102.47,420.15 L102.64,420.22 L102.82,420.29 L103.00,420.36 L103.18,420.43 L103.36,420.50 L103.53,420.58 L103.71,420.66 L103.89,420.74 L104.07,420.82 L104.25,420.90 L104.42,420.98 L104.60,421.06 L104.78,421.13 L104.96,421.21 L105.14,421.29 L105.31,421.36 L105.49,421.43 L105.67,421.50 L105.85,421.57 L106.03,421.63 L106.20,421.69 L106.38,421.74 L106.56,421.80 L106.74,421.85 L106.92,421.90 L107.09,421.95 L107.27,422.00 L107.45,422.04 L107.63,422.09 L107.81,422.14 L107.98,422.19 L108.16,422.23 L108.34,422.28 L108.52,422.32 L108.70,422.37 L108.87,422.41 L109.05,422.45 L109.23,422.49 L109.41,422.54 L109.59,422.58 L109.76,422.62 L109.94,422.66 L110.12,422.70 L110.30,422.74 L110.48,422.78 L110.65,422.82 L110.83,422.86 L111.01,422.90 L111.19,422.94 L111.37,422.97 L111.54,423.01 L111.72,423.05 L111.90,423.09 L112.08,423.13 L112.26,423.17 L112.43,423.21 L112.61,423.24 L112.79,423.28 L112.97,423.32 L113.15,423.36 L113.32,423.40 L113.50,423.43 L113.68,423.47 L113.86,423.51 L114.04,423.55 L114.21,423.59 L114.39,423.62 L114.57,423.66 L114.75,423.70 L114.93,423.73 L115.10,423.77 L115.28,423.81 L115.46,423.84 L115.64,423.88 L115.82,423.92 L115.99,423.95 L116.17,423.99 L116.35,424.02 L116.53,424.06 L116.71,424.09 L116.88,424.13 L117.06,424.16 L117.24,424.19 L117.42,424.23 L117.60,424.26 L117.77,424.29 L117.95,424.32 L118.13,424.36 L118.31,424.39 L118.49,424.42 L118.66,424.45 L118.84,424.48 L119.02,424.51 L119.20,424.54 L119.38,424.56 L119.55,424.59 L119.73,424.62 L119.91,424.65 L120.09,424.67 L120.27,424.70 L120.44,424.73 L120.62,424.75 L120.80,424.77 L120.98,424.80 L121.16,424.82 L121.33,424.84 L121.51,424.87 L121.69,424.89 L121.87,424.91 L122.05,424.93 L122.22,424.96 L122.40,424.98 L122.58,425.00 L122.76,425.02 L122.94,425.04 L123.11,425.06 L123.29,425.08 L123.47,425.10 L123.65,425.12 L123.83,425.14 L124.00,425.16 L124.18,425.18 L124.36,425.19 L124.54,425.21 L124.72,425.23 L124.89,425.25 L125.07,425.27 L125.25,425.28 L125.43,425.30 L125.61,425.32 L125.78,425.34 L125.96,425.35 L126.14,425.37 L126.32,425.39 L126.50,425.41 L126.67,425.42 L126.85,425.44 L127.03,425.46 L127.21,425.47 L127.39,425.49 L127.56,425.50 L127.74,425.52 L127.92,425.54 L128.10,425.55 L128.28,425.57 L128.45,425.59 L128.63,425.60 L128.81,425.62 L128.99,425.64 L129.17,425.65 L129.34,425.67 L129.52,425.68 L129.70,425.70 L129.88,425.72 L130.06,425.73 L130.23,425.75 L130.41,425.77 L130.59,425.78 L130.77,425.80 L130.95,425.81 L131.12,425.83 L131.30,425.85 L131.48,425.86 L131.66,425.88 L131.84,425.89 L132.01,425.91 L132.19,425.93 L132.37,425.94 L132.55,425.96 L132.73,425.97 L132.90,425.99 L133.08,426.00 L133.26,426.02 L133.44,426.03 L133.62,426.05 L133.79,426.06 L133.97,426.08 L134.15,426.09 L134.33,426.11 L134.51,426.12 L134.68,426.14 L134.86,426.15 L135.04,426.16 L135.22,426.18 L135.40,426.19 L135.57,426.20 L135.75,426.22 L135.93,426.23 L136.11,426.24 L136.29,426.25 L136.46,426.27 L136.64,426.28 L136.82,426.29 L137.00,426.30 L137.18,426.31 L137.35,426.32 L137.53,426.33 L137.71,426.35 L137.89,426.36 L138.07,426.37 L138.24,426.38 L138.42,426.39 L138.60,426.40 L138.78,426.41 L138.96,426.42 L139.13,426.43 L139.31,426.44 L139.49,426.45 L139.67,426.46 L139.85,426.47 L140.02,426.48 L140.20,426.49 L140.38,426.50 L140.56,426.51 L140.74,426.51 L140.91,426.52 L141.09,426.53 L141.27,426.54 L141.45,426.55 L141.63,426.56 L141.80,426.57 L141.98,426.58 L142.16,426.59 L142.34,426.59 L142.52,426.60 L142.69,426.61 L142.87,426.62 L143.05,426.63 L143.23,426.64 L143.41,426.65 L143.58,426.65 L143.76,426.66 L143.94,426.67 L144.12,426.68 L144.30,426.69 L144.47,426.70 L144.65,426.70 L144.83,426.71 L145.01,426.72 L145.19,426.73 L145.36,426.74 L145.54,426.74 L145.72,426.75 L145.90,426.76 L146.08,426.77 L146.25,426.78 L146.43,426.79 L146.61,426.79 L146.79,426.80 L146.97,426.81 L147.14,426.82 L147.32,426.82 L147.50,426.83 L147.86,426.85 L148.21,426.86 L148.57,426.88 L148.92,426.89 L149.28,426.91 L149.64,426.92 L149.99,426.94 L150.35,426.95 L150.70,426.97 L151.06,426.98 L151.42,426.99 L151.77,427.01 L152.13,427.02 L152.48,427.03 L152.84,427.05 L153.20,427.06 L153.55,427.07 L153.91,427.09 L154.26,427.10 L154.62,427.11 L154.98,427.13 L155.33,427.14 L155.69,427.15 L156.04,427.16 L156.40,427.18 L156.76,427.19 L157.11,427.20 L157.47,427.21 L157.82,427.23 L158.18,427.24 L158.54,427.25 L158.89,427.26 L159.25,427.28 L159.60,427.29 L159.96,427.30 L160.32,427.31 L160.67,427.32 L161.03,427.33 L161.38,427.34 L161.74,427.35 L162.10,427.37 L162.45,427.38 L162.81,427.39 L163.16,427.40 L163.52,427.41 L163.88,427.42 L164.23,427.42 L164.59,427.43 L164.94,427.44 L165.30,427.45 L165.66,427.46 L166.01,427.47 L166.37,427.48 L166.72,427.49 L167.08,427.49 L167.44,427.50 L167.79,427.51 L168.15,427.52 L168.50,427.53 L168.86,427.54 L169.22,427.54 L169.57,427.55 L169.93,427.56 L170.28,427.57 L170.64,427.58 L171.00,427.58 L171.35,427.59 L171.71,427.60 L172.06,427.61 L172.42,427.61 L172.78,427.62 L173.13,427.63 L173.49,427.64 L173.84,427.64 L174.20,427.65 L174.56,427.66 L174.91,427.67 L175.27,427.67 L175.62,427.68 L175.98,427.69 L176.34,427.70 L176.69,427.70 L177.05,427.71 L177.40,427.72 L177.76,427.72 L178.12,427.73 L178.47,427.74 L178.83,427.75 L179.18,427.75 L179.54,427.76 L179.90,427.77 L180.25,427.77 L180.61,427.78 L180.96,427.79 L181.32,427.79 L181.68,427.80 L182.03,427.81 L182.39,427.81 L182.74,427.82 L183.10,427.82 L183.46,427.83 L183.81,427.84 L184.17,427.84 L184.52,427.85 L184.88,427.86 L185.24,427.86 L185.59,427.87 L185.95,427.87 L186.30,427.88 L186.66,427.89 L187.02,427.89 L187.37,427.90 L187.73,427.90 L188.08,427.91 L188.44,427.91 L188.80,427.92 L189.15,427.93 L189.51,427.93 L189.86,427.94 L190.22,427.94 L190.58,427.95 L190.93,427.95 L191.29,427.96 L191.64,427.96 L192.00,427.97 L192.36,427.97 L192.71,427.98 L193.07,427.98 L193.42,427.99 L193.78,427.99 L194.14,428.00 L194.49,428.00 L194.85,428.01 L195.20,428.01 L195.56,428.02 L195.92,428.02 L196.27,428.03 L196.63,428.03 L196.98,428.04 L197.34,428.04 L197.70,428.05 L198.05,428.05 L198.41,428.05 L198.76,428.06 L199.12,428.06 L199.48,428.07 L199.83,428.07 L200.19,428.08 L200.54,428.08 L200.90,428.08 L201.26,428.09 L201.61,428.09 L201.97,428.10 L202.32,428.10 L202.68,428.10 L203.04,428.11 L203.39,428.11 L203.75,428.11 L204.10,428.12 L204.46,428.12 L204.82,428.13 L205.17,428.13 L205.53,428.13 L205.88,428.14 L206.24,428.14 L206.60,428.15 L206.95,428.15 L207.31,428.15 L207.66,428.16 L208.02,428.16 L208.38,428.16 L208.73,428.17 L209.09,428.17 L209.44,428.17 L209.80,428.18 L210.16,428.18 L210.51,428.18 L210.87,428.19 L211.22,428.19 L211.58,428.19 L211.94,428.20 L212.29,428.20 L212.65,428.21 L213.00,428.21 L213.36,428.21 L213.72,428.21 L214.07,428.22 L214.43,428.22 L214.78,428.22 L215.14,428.23 L215.50,428.23 L215.85,428.23 L216.21,428.24 L216.56,428.24 L216.92,428.24 L217.28,428.25 L217.63,428.25 L217.99,428.25 L218.34,428.26 L218.70,428.26 L219.06,428.26 L219.41,428.26 L219.77,428.27 L220.12,428.27 L220.48,428.27 L220.84,428.28 L221.19,428.28 L221.55,428.28 L221.90,428.28 L222.26,428.29 L222.62,428.29 L222.97,428.29 L223.33,428.30 L223.68,428.30 L224.04,428.30 L224.40,428.30 L224.75,428.31 L225.11,428.31 L225.46,428.31 L225.82,428.31 L226.18,428.32 L226.53,428.32 L226.89,428.32 L227.24,428.32 L227.60,428.33 L227.96,428.33 L228.31,428.33 L228.67,428.33 L229.02,428.34 L229.38,428.34 L229.74,428.34 L230.09,428.34 L230.45,428.34 L230.80,428.35 L231.16,428.35 L231.52,428.35 L231.87,428.35 L232.23,428.35 L232.58,428.36 L232.94,428.36 L233.30,428.36 L233.65,428.36 L234.01,428.37 L234.36,428.37 L234.72,428.37 L235.08,428.37 L235.43,428.37 L235.79,428.37 L236.14,428.38 L236.50,428.38 L236.86,428.38 L237.21,428.38 L237.57,428.38 L237.92,428.38 L238.28,428.39 L238.64,428.39 L238.99,428.39 L239.35,428.39 L239.70,428.39 L240.06,428.40 L240.42,428.40 L240.77,428.40 L241.13,428.40 L241.48,428.40 L241.84,428.40 L242.20,428.41 L242.55,428.41 L242.91,428.41 L243.26,428.41 L243.62,428.41 L243.98,428.41 L244.33,428.42 L244.69,428.42 L245.04,428.42 L245.40,428.42 L245.76,428.42 L246.11,428.42 L246.47,428.43 L246.82,428.43 L247.18,428.43 L247.54,428.43 L247.89,428.43 L248.25,428.43 L248.60,428.43 L248.96,428.44 L249.32,428.44 L249.67,428.44 L250.03,428.44 L250.38,428.44 L250.74,428.44 L251.10,428.45 L251.45,428.45 L251.81,428.45 L252.16,428.45 L252.52,428.45 L252.88,428.45 L253.23,428.45 L253.59,428.46 L253.94,428.46 L254.30,428.46 L254.66,428.46 L255.01,428.46 L255.37,428.46 L255.72,428.47 L256.08,428.47 L256.44,428.47 L256.79,428.47 L257.15,428.47 L257.50,428.47 L257.86,428.47 L258.22,428.48 L258.57,428.48 L258.93,428.48 L259.28,428.48 L259.64,428.48 L260.00,428.48 L260.35,428.48 L260.71,428.49 L261.06,428.49 L261.42,428.49 L261.78,428.49 L262.13,428.49 L262.49,428.49 L262.84,428.49 L263.20,428.49 L263.56,428.50 L263.91,428.50 L264.27,428.50 L264.62,428.50 L264.98,428.50 L265.34,428.50 L265.69,428.50 L266.05,428.51 L266.40,428.51 L266.76,428.51 L267.12,428.51 L267.47,428.51 L267.83,428.51 L268.18,428.51 L268.54,428.51 L268.90,428.52 L269.25,428.52 L269.61,428.52 L269.96,428.52 L270.32,428.52 L270.68,428.52 L271.03,428.52 L271.39,428.52 L271.74,428.53 L272.10,428.53 L272.46,428.53 L272.81,428.53 L273.17,428.53 L273.52,428.53 L273.88,428.53 L274.24,428.53 L274.59,428.54 L274.95,428.54 L275.30,428.54 L275.66,428.54 L276.02,428.54 L276.37,428.54 L276.73,428.54 L277.08,428.54 L277.44,428.55 L277.80,428.55 L278.15,428.55 L278.51,428.55 L278.86,428.55 L279.22,428.55 L279.58,428.55 L279.93,428.55 L280.29,428.55 L280.64,428.56 L281.00,428.56 L281.36,428.56 L281.71,428.56 L282.07,428.56 L282.42,428.56 L282.78,428.56 L283.14,428.56 L283.49,428.56 L283.85,428.57 L284.20,428.57 L284.56,428.57 L284.92,428.57 L285.27,428.57 L285.63,428.57 L285.98,428.57 L286.34,428.57 L286.70,428.57 L287.05,428.58 L287.41,428.58 L287.76,428.58 L288.12,428.58 L288.48,428.58 L288.83,428.58 L289.19,428.58 L289.54,428.58 L289.90,428.58 L290.26,428.58 L290.61,428.59 L290.97,428.59 L291.32,428.59 L291.68,428.59 L292.04,428.59 L292.39,428.59 L292.75,428.59 L293.10,428.59 L293.46,428.59 L293.82,428.59 L294.17,428.60 L294.53,428.60 L294.88,428.60 L295.24,428.60 L295.60,428.60 L295.95,428.60 L296.31,428.60 L296.66,428.60 L297.02,428.60 L297.38,428.60 L297.73,428.60 L298.09,428.61 L298.44,428.61 L298.80,428.61 L299.16,428.61 L299.51,428.61 L299.87,428.61 L300.22,428.61 L300.58,428.61 L300.94,428.61 L301.29,428.61 L301.65,428.61 L302.00,428.62 L302.36,428.62 L302.72,428.62 L303.07,428.62 L303.43,428.62 L303.78,428.62 L304.14,428.62 L304.50,428.62 L304.85,428.62 L305.21,428.62 L305.56,428.62 L305.92,428.62 L306.28,428.63 L306.63,428.63 L306.99,428.63 L307.34,428.63 L307.70,428.63 L308.06,428.63 L308.41,428.63 L308.77,428.63 L309.12,428.63 L309.48,428.63 L309.84,428.63 L310.19,428.63 L310.55,428.64 L310.90,428.64 L311.26,428.64 L311.62,428.64 L311.97,428.64 L312.33,428.64 L312.68,428.64 L313.04,428.64 L313.40,428.64 L313.75,428.64 L314.11,428.64 L314.46,428.64 L314.82,428.64 L315.18,428.64 L315.53,428.65 L315.89,428.65 L316.24,428.65 L316.60,428.65 L316.96,428.65 L317.31,428.65 L317.67,428.65 L318.02,428.65 L318.38,428.65 L318.74,428.65 L319.09,428.65 L319.45,428.65 L319.80,428.65 L320.16,428.65 L320.52,428.66 L320.87,428.66 L321.23,428.66 L321.58,428.66 L321.94,428.66 L322.30,428.66 L322.65,428.66 L323.01,428.66 L323.36,428.66 L323.72,428.66 L324.08,428.66 L324.43,428.66 L324.79,428.66 L325.14,428.66 L325.50,428.66 L325.86,428.66 L326.21,428.67 L326.57,428.67 L326.92,428.67 L327.28,428.67 L327.64,428.67 L327.99,428.67 L328.35,428.67 L328.70,428.67 L329.06,428.67 L329.42,428.67 L329.77,428.67 L330.13,428.67 L330.48,428.67 L330.84,428.67 L331.20,428.67 L331.55,428.67 L331.91,428.68 L332.26,428.68 L332.62,428.68 L332.98,428.68 L333.33,428.68 L333.69,428.68 L334.04,428.68 L334.40,428.68 L334.76,428.68 L335.11,428.68 L335.47,428.68 L335.82,428.68 L336.18,428.68 L336.54,428.68 L336.89,428.68 L337.25,428.68 L337.60,428.68 L337.96,428.68 L338.32,428.69 L338.67,428.69 L339.03,428.69 L339.38,428.69 L339.74,428.69 L340.10,428.69 L340.45,428.69 L340.81,428.69 L341.16,428.69 L341.52,428.69 L341.88,428.69 L342.23,428.69 L342.59,428.69 L342.94,428.69 L343.30,428.69 L343.66,428.69 L344.01,428.69 L344.37,428.69 L344.72,428.70 L345.08,428.70 L345.44,428.70 L345.79,428.70 L346.15,428.70 L346.50,428.70 L346.86,428.70 L347.22,428.70 L347.57,428.70 L347.93,428.70 L348.28,428.70 L348.64,428.70 L349.00,428.70 L349.35,428.70 L349.71,428.70 L350.06,428.70 L350.42,428.70 L350.78,428.70 L351.13,428.70 L351.49,428.71 L351.84,428.71 L352.20,428.71 L352.56,428.71 L352.91,428.71 L353.27,428.71 L353.62,428.71 L353.98,428.71 L354.34,428.71 L354.69,428.71 L355.05,428.71 L355.40,428.71 L355.76,428.71 L356.12,428.71 L356.47,428.71 L356.83,428.71 L357.18,428.71 L357.54,428.71 L357.90,428.71 L358.25,428.71 L358.61,428.71 L358.96,428.72 L359.32,428.72 L359.68,428.72 L360.03,428.72 L360.39,428.72 L360.74,428.72 L361.10,428.72 L361.46,428.72 L361.81,428.72 L362.17,428.72 L362.52,428.72 L362.88,428.72 L363.24,428.72 L363.59,428.72 L363.95,428.72 L364.30,428.72 L364.66,428.72 L365.02,428.72 L365.37,428.72 L365.73,428.72 L366.08,428.72 L366.44,428.72 L366.80,428.73 L367.15,428.73 L367.51,428.73 L367.86,428.73 L368.22,428.73 L368.58,428.73 L368.93,428.73 L369.29,428.73 L369.64,428.73 L370.00,428.73 L370.36,428.73 L370.71,428.73 L371.07,428.73 L371.42,428.73 L371.78,428.73 L372.14,428.73 L372.49,428.73 L372.85,428.73 L373.20,428.73 L373.56,428.73 L373.92,428.73 L374.27,428.73 L374.63,428.73 L374.98,428.73 L375.34,428.74 L375.70,428.74 L376.05,428.74 L376.41,428.74 L376.76,428.74 L377.12,428.74 L377.48,428.74 L377.83,428.74 L378.19,428.74 L378.54,428.74 L378.90,428.74 L379.26,428.74 L379.61,428.74 L379.97,428.74 L380.32,428.74 L380.68,428.74 L381.04,428.74 L381.39,428.74 L381.75,428.74 L382.10,428.74 L382.46,428.74 L382.82,428.74 L383.17,428.74 L383.53,428.74 L383.88,428.74 L384.24,428.74 L384.60,428.74 L384.95,428.75 L385.31,428.75 L385.66,428.75 L386.02,428.75 L386.38,428.75 L386.73,428.75 L387.09,428.75 L387.44,428.75 L387.80,428.75 L388.16,428.75 L388.51,428.75 L388.87,428.75 L389.22,428.75 L389.58,428.75 L389.94,428.75 L390.29,428.75 L390.65,428.75 L391.00,428.75 L391.36,428.75 L391.72,428.75 L392.07,428.75 L392.43,428.75 L392.78,428.75 L393.14,428.75 L393.50,428.75 L393.85,428.75 L394.21,428.75 L394.56,428.75 L394.92,428.75 L395.28,428.76 L395.63,428.76 L395.99,428.76 L396.34,428.76 L396.70,428.76 L397.06,428.76 L397.41,428.76 L397.77,428.76 L398.12,428.76 L398.48,428.76 L398.84,428.76 L399.19,428.76 L399.55,428.76 L399.90,428.76 L400.26,428.76 L400.62,428.76 L400.97,428.76 L401.33,428.76 L401.68,428.76 L402.04,428.76 L402.40,428.76 L402.75,428.76 L403.11,428.76 L403.46,428.76 L403.82,428.76 L404.18,428.76 L404.53,428.76 L404.89,428.76 L405.24,428.76 L405.60,428.76 L405.96,428.76 L406.31,428.76 L406.67,428.76 L407.02,428.76 L407.38,428.76 L407.74,428.76 L408.09,428.77 L408.45,428.77 L408.80,428.77 L409.16,428.77 L409.52,428.77 L409.87,428.77 L410.23,428.77 L410.58,428.77 L410.94,428.77 L411.30,428.77 L411.65,428.77 L412.01,428.77 L412.36,428.77 L412.72,428.77 L413.08,428.77 L413.43,428.77 L413.79,428.77 L414.14,428.77 L414.50,428.77 L414.86,428.77 L415.21,428.77 L415.57,428.77 L415.92,428.77 L416.28,428.77 L416.64,428.77 L416.99,428.77 L417.35,428.77 L417.70,428.77 L418.06,428.77 L418.42,428.77 L418.77,428.77 L419.13,428.77 L419.48,428.77 L419.84,428.77 L420.20,428.77 L420.55,428.77 L420.91,428.77 L421.26,428.77 L421.62,428.77 L421.98,428.77 L422.33,428.77 L422.69,428.77 L423.04,428.77 L423.40,428.78 L423.76,428.78 L424.11,428.78 L424.47,428.78 L424.82,428.78 L425.18,428.78 L425.54,428.78 L425.89,428.78 L426.25,428.78 L426.60,428.78 L426.96,428.78 L427.32,428.78 L427.67,428.78 L428.03,428.78 L428.38,428.78 L428.74,428.78 L429.10,428.78 L429.45,428.78 L429.81,428.78 L430.16,428.78 L430.52,428.78 L430.88,428.78 L431.23,428.78 L431.59,428.78 L431.94,428.78 L432.30,428.78 L432.66,428.78 L433.01,428.78 L433.37,428.78 L433.72,428.78 L434.08,428.78 L434.44,428.78 L434.79,428.78 L435.15,428.78 L435.50,428.78 L435.86,428.78 L436.22,428.78 L436.57,428.78 L436.93,428.78 L437.28,428.78 L437.64,428.78 L438.00,428.78 L438.35,428.78 L438.71,428.78 L439.06,428.78 L439.42,428.79 L439.78,428.79 L440.13,428.79 L440.49,428.79 L440.84,428.79 L441.20,428.79 L441.56,428.79 L441.91,428.79 L442.27,428.79 L442.62,428.79 L442.98,428.79 L443.34,428.79 L443.69,428.79 L444.05,428.79 L444.40,428.79 L444.76,428.79 L445.12,428.79 L445.47,428.79 L445.83,428.79 L446.18,428.79 L446.54,428.79 L446.90,428.79 L447.25,428.79 L447.61,428.79 L447.96,428.79 L448.32,428.79 L448.68,428.79 L449.03,428.79 L449.39,428.79 L449.74,428.79 L450.10,428.79 L450.46,428.79 L450.81,428.79 L451.17,428.79 L451.52,428.79 L451.88,428.79 L452.24,428.79 L452.59,428.79 L452.95,428.79 L453.30,428.79 L453.66,428.79 L454.02,428.79 L454.37,428.79 L454.73,428.79 L455.08,428.79 L455.44,428.79 L455.80,428.79 L456.15,428.79 L456.51,428.80 L456.86,428.80 L457.22,428.80 L457.58,428.80 L457.93,428.80 L458.29,428.80 L458.64,428.80 L459.00,428.80 L459.36,428.80 L459.71,428.80 L460.07,428.80 L460.42,428.80 L460.78,428.80 L461.14,428.80 L461.49,428.80 L461.85,428.80 L462.20,428.80 L462.56,428.80 L462.92,428.80 L463.27,428.80 L463.63,428.80 L463.98,428.80 L464.34,428.80 L464.70,428.80 L465.05,428.80 L465.41,428.80 L465.76,428.80 L466.12,428.80 L466.48,428.80 L466.83,428.80 L467.19,428.80 L467.54,428.80 L467.90,428.80 L468.26,428.80 L468.61,428.80 L468.97,428.80 L469.32,428.80 L469.68,428.80 L470.04,428.80 L470.39,428.80 L470.75,428.80 L471.10,428.80 L471.46,428.80 L471.82,428.80 L472.17,428.80 L472.53,428.80 L472.88,428.80 L473.24,428.80 L473.60,428.80 L473.95,428.80 L474.31,428.81 L474.66,428.81 L475.02,428.81 L475.38,428.81 L475.73,428.81 L476.09,428.81 L476.44,428.81 L476.80,428.81 L477.16,428.81 L477.51,428.81 L477.87,428.81 L478.22,428.81 L478.58,428.81 L478.94,428.81 L479.29,428.81 L479.65,428.81 L480.00,428.81 L480.36,428.81 L480.72,428.81 L481.07,428.81 L481.43,428.81 L481.78,428.81 L482.14,428.81 L482.50,428.81 L482.85,428.81 L483.21,428.81 L483.56,428.81 L483.92,428.81 L484.28,428.81 L484.63,428.81 L484.99,428.81 L485.34,428.81 L485.70,428.81 L486.06,428.81 L486.41,428.81 L486.77,428.81 L487.12,428.81 L487.48,428.81 L487.84,428.81 L488.19,428.81 L488.55,428.81 L488.90,428.81 L489.26,428.81 L489.62,428.81 L489.97,428.81 L490.33,428.81 L490.68,428.81 L491.04,428.81 L491.40,428.81 L491.75,428.81 L492.11,428.81 L492.46,428.81 L492.82,428.81 L493.18,428.81 L493.53,428.81 L493.89,428.81 L494.24,428.82 L494.60,428.82 L494.96,428.82 L495.31,428.82 L495.67,428.82 L496.02,428.82 L496.38,428.82 L496.74,428.82 L497.09,428.82 L497.45,428.82 L497.80,428.82 L498.16,428.82 L498.52,428.82 L498.87,428.82 L499.23,428.82 L499.58,428.82 L499.94,428.82 L500.30,428.82 L500.65,428.82 L501.01,428.82 L501.36,428.82 L501.72,428.82 L502.08,428.82 L502.43,428.82 L502.79,428.82 L503.14,428.82 L503.50,428.82 L503.86,428.82 L504.21,428.82 L504.57,428.82 L504.92,428.82 L505.28,428.82 L505.64,428.82 L505.99,428.82 L506.35,428.82 L506.70,428.82 L507.06,428.82 L507.42,428.82 L507.77,428.82 L508.13,428.82 L508.48,428.82 L508.84,428.82 L509.20,428.82 L509.55,428.82 L509.91,428.82 L510.26,428.82 L510.62,428.82 L510.98,428.82 L511.33,428.82 L511.69,428.82 L512.04,428.82 L512.40,428.82 L512.76,428.82 L513.11,428.82 L513.47,428.82 L513.82,428.82 L514.18,428.82 L514.54,428.82 L514.89,428.82 L515.25,428.82 L515.60,428.82 L515.96,428.82 L516.32,428.82 L516.67,428.82 L517.03,428.83 L517.38,428.83 L517.74,428.83 L518.10,428.83 L518.45,428.83 L518.81,428.83 L519.16,428.83 L519.52,428.83 L519.88,428.83 L520.23,428.83 L520.59,428.83 L520.94,428.83 L521.30,428.83 L521.66,428.83 L522.01,428.83 L522.37,428.83 L522.72,428.83 L523.08,428.83 L523.44,428.83 L523.79,428.83 L524.15,428.83 L524.50,428.83 L524.86,428.83 L525.22,428.83 L525.57,428.83 L525.93,428.83 L526.28,428.83 L526.64,428.83 L527.00,428.83 L527.35,428.83 L527.71,428.83 L528.06,428.83 L528.42,428.83 L528.78,428.83 L529.13,428.83 L529.49,428.83 L529.84,428.83 L530.20,428.83 L530.56,428.83 L530.91,428.83 L531.27,428.83 L531.62,428.83 L531.98,428.83 L532.34,428.83 L532.69,428.83 L533.05,428.83 L533.40,428.83 L533.76,428.83 L534.12,428.83 L534.47,428.83 L534.83,428.83 L535.18,428.83 L535.54,428.83 L535.90,428.83 L536.25,428.83 L536.61,428.83 L536.96,428.83 L537.32,428.83 L537.68,428.83 L538.03,428.83 L538.39,428.83 L538.74,428.83 L539.10,428.83 L539.46,428.83 L539.81,428.83 L540.17,428.83 L540.52,428.83 L540.88,428.83 L541.24,428.83 L541.59,428.83 L541.95,428.83 L542.30,428.83 L542.66,428.83 L543.02,428.83 L543.37,428.83 L543.73,428.83 L544.08,428.83 L544.44,428.83 L544.80,428.83 L545.15,428.83 L545.51,428.83 L545.86,428.83 L546.22,428.83 L546.58,428.83 L546.93,428.83 L547.29,428.83 L547.64,428.84 L548.00,428.84 L548.36,428.84 L548.71,428.84 L549.07,428.84 L549.42,428.84 L549.78,428.84 L550.14,428.84 L550.49,428.84 L550.85,428.84 L551.20,428.84 L551.56,428.84 L551.92,428.84 L552.27,428.84 L552.63,428.84 L552.98,428.84 L553.34,428.84 L553.70,428.84 L554.05,428.84 L554.41,428.84 L554.76,428.84 L555.12,428.84 L555.48,428.84 L555.83,428.84 L556.19,428.84 L556.54,428.84 L556.90,428.84 L557.26,428.84 L557.61,428.84 L557.97,428.84 L558.32,428.84 L558.68,428.84 L559.04,428.84 L559.39,428.84 L559.75,428.84 L560.10,428.84 L560.46,428.84 L560.82,428.84 L561.17,428.84 L561.53,428.84 L561.88,428.84 L562.24,428.84 L562.60,428.84 L562.95,428.84 L563.31,428.84 L563.66,428.84 L564.02,428.84 L564.38,428.84 L564.73,428.84 L565.09,428.84 L565.44,428.84 L565.80,428.84 L566.16,428.84 L566.51,428.84 L566.87,428.84 L567.22,428.84 L567.58,428.84 L567.94,428.84 L568.29,428.84 L568.65,428.84 L569.00,428.84 L569.36,428.84 L569.72,428.84 L570.07,428.84 L570.43,428.84 L570.78,428.84 L571.14,428.84 L571.50,428.84 L571.85,428.84 L572.21,428.84 L572.56,428.84 L572.92,428.84 L573.28,428.84 L573.63,428.84 L573.99,428.84 L574.34,428.84 L574.70,428.84 L575.06,428.84 L575.41,428.84 L575.77,428.84 L576.12,428.84 L576.48,428.84 L576.84,428.84 L577.19,428.84 L577.55,428.84 L577.90,428.84 L578.26,428.84 L578.62,428.84 L578.97,428.84 L579.33,428.84 L579.68,428.84 L580.04,428.84 L580.40,428.84 L580.75,428.84 L581.11,428.84 L581.46,428.84 L581.82,428.84 L582.18,428.84 L582.53,428.84 L582.89,428.84 L583.24,428.84 L583.60,428.84 L583.96,428.84 L584.31,428.84 L584.67,428.84 L585.02,428.84 L585.38,428.84 L585.74,428.84 L586.09,428.84 L586.45,428.84 L586.80,428.84 L587.16,428.84 L587.52,428.84 L587.87,428.84 L588.23,428.84 L588.58,428.84 L588.94,428.84 L589.30,428.84 L589.65,428.84 L590.01,428.84 L590.36,428.84 L590.72,428.84 L591.08,428.84 L591.43,428.84 L591.79,428.84 L592.14,428.84 L592.50,428.84" fill="none" stroke="#d23c3c" stroke-width="1.2" stroke-dasharray="8.6 7.9"/>
<path d="M58.50,428.50 L58.68,428.50 L58.86,428.50 L59.03,428.49 L59.21,428.49 L59.39,428.48 L59.57,428.48 L59.75,428.47 L59.92,428.46 L60.10,428.45 L60.28,428.45 L60.46,428.44 L60.64,428.43 L60.81,428.42 L60.99,428.40 L61.17,428.39 L61.35,428.37 L61.53,428.36 L61.70,428.34 L61.88,428.32 L62.06,428.31 L62.24,428.29 L62.42,428.27 L62.59,428.24 L62.77,428.22 L62.95,428.19 L63.13,428.17 L63.31,428.14 L63.48,428.11 L63.66,428.09 L63.84,428.06 L64.02,428.03 L64.20,428.00 L64.37,427.97 L64.55,427.93 L64.73,427.90 L64.91,427.87 L65.09,427.83 L65.26,427.80 L65.44,427.76 L65.62,427.72 L65.80,427.68 L65.98,427.64 L66.15,427.60 L66.33,427.56 L66.51,427.51 L66.69,427.47 L66.87,427.42 L67.04,427.37 L67.22,427.32 L67.40,427.28 L67.58,427.23 L67.76,427.18 L67.93,427.13 L68.11,427.07 L68.29,427.02 L68.47,426.96 L68.65,426.91 L68.82,426.85 L69.00,426.79 L69.18,426.72 L69.36,426.66 L69.54,426.59 L69.71,426.51 L69.89,426.44 L70.07,426.36 L70.25,426.27 L70.43,426.19 L70.60,426.10 L70.78,426.01 L70.96,425.92 L71.14,425.82 L71.32,425.72 L71.49,425.61 L71.67,425.49 L71.85,425.37 L72.03,425.26 L72.21,425.14 L72.38,425.02 L72.56,424.90 L72.74,424.78 L72.92,424.67 L73.10,424.57 L73.27,424.46 L73.45,424.35 L73.63,424.25 L73.81,424.14 L73.99,424.03 L74.16,423.91 L74.34,423.79 L74.52,423.66 L74.70,423.52 L74.88,423.37 L75.05,423.22 L75.23,423.06 L75.41,422.89 L75.59,422.72 L75.77,422.55 L75.94,422.37 L76.12,422.19 L76.30,422.02 L76.48,421.85 L76.66,421.68 L76.83,421.50 L77.01,421.33 L77.19,421.15 L77.37,420.97 L77.55,420.79 L77.72,420.59 L77.90,420.39 L78.08,420.18 L78.26,419.96 L78.44,419.73 L78.61,419.49 L78.79,419.23 L78.97,418.98 L79.15,418.71 L79.33,418.44 L79.50,418.16 L79.68,417.87 L79.86,417.59 L80.04,417.30 L80.22,417.00 L80.39,416.69 L80.57,416.37 L80.75,416.05 L80.93,415.72 L81.11,415.39 L81.28,415.04 L81.46,414.69 L81.64,414.33 L81.82,413.97 L82.00,413.59 L82.17,413.20 L82.35,412.81 L82.53,412.41 L82.71,411.99 L82.89,411.57 L83.06,411.14 L83.24,410.70 L83.42,410.25 L83.60,409.78 L83.78,409.31 L83.95,408.82 L84.13,408.32 L84.31,407.81 L84.49,407.28 L84.67,406.75 L84.84,406.20 L85.02,405.65 L85.20,405.08 L85.38,404.50 L85.56,403.90 L85.73,403.30 L85.91,402.67 L86.09,402.04 L86.27,401.39 L86.45,400.73 L86.62,400.05 L86.80,399.37 L86.98,398.68 L87.16,397.97 L87.34,397.25 L87.51,396.52 L87.69,395.78 L87.87,395.02 L88.05,394.24 L88.23,393.46 L88.40,392.66 L88.58,391.84 L88.76,391.01 L88.94,390.09 L89.12,389.02 L89.29,387.81 L89.47,386.48 L89.65,385.05 L89.83,383.54 L90.01,381.96 L90.18,380.35 L90.36,378.74 L90.54,377.14 L90.72,375.49 L90.90,373.73 L91.07,371.87 L91.25,369.95 L91.43,368.00 L91.61,366.05 L91.79,364.13 L91.96,362.28 L92.14,360.54 L92.32,358.95 L92.50,357.46 L92.68,355.99 L92.85,354.54 L93.03,353.10 L93.21,351.67 L93.39,350.26 L93.57,348.85 L93.74,347.45 L93.92,346.05 L94.10,344.65 L94.28,343.23 L94.46,341.78 L94.63,340.33 L94.81,338.87 L94.99,337.43 L95.17,336.00 L95.35,334.62 L95.52,333.29 L95.70,332.01 L95.88,330.82 L96.06,329.67 L96.24,328.54 L96.41,327.44 L96.59,326.36 L96.77,325.32 L96.95,324.32 L97.13,323.37 L97.30,322.47 L97.48,321.63 L97.66,320.85 L97.84,320.10 L98.02,319.35 L98.19,318.60 L98.37,317.86 L98.55,317.15 L98.73,316.47 L98.91,315.82 L99.08,315.23 L99.26,314.71 L99.44,314.27 L99.62,313.87 L99.80,313.48 L99.97,313.09 L100.15,312.71 L100.33,312.35 L100.51,312.01 L100.69,311.70 L100.86,311.42 L101.04,311.18 L101.22,310.98 L101.40,310.84 L101.58,310.80 L101.75,310.82 L101.93,310.91 L102.11,311.04 L102.29,311.20 L102.47,311.38 L102.64,311.57 L102.82,311.77 L103.00,311.97 L103.18,312.18 L103.36,312.44 L103.53,312.75 L103.71,313.08 L103.89,313.45 L104.07,313.84 L104.25,314.25 L104.42,314.67 L104.60,315.09 L104.78,315.51 L104.96,315.93 L105.14,316.38 L105.31,316.84 L105.49,317.32 L105.67,317.81 L105.85,318.32 L106.03,318.84 L106.20,319.36 L106.38,319.90 L106.56,320.43 L106.74,320.98 L106.92,321.54 L107.09,322.12 L107.27,322.70 L107.45,323.30 L107.63,323.90 L107.81,324.51 L107.98,325.12 L108.16,325.74 L108.34,326.36 L108.52,326.98 L108.70,327.60 L108.87,328.23 L109.05,328.85 L109.23,329.47 L109.41,330.09 L109.59,330.71 L109.76,331.33 L109.94,331.94 L110.12,332.54 L110.30,333.14 L110.48,333.74 L110.65,334.33 L110.83,334.92 L111.01,335.50 L111.19,336.09 L111.37,336.67 L111.54,337.25 L111.72,337.83 L111.90,338.40 L112.08,338.98 L112.26,339.55 L112.43,340.13 L112.61,340.70 L112.79,341.27 L112.97,341.84 L113.15,342.40 L113.32,342.95 L113.50,343.51 L113.68,344.05 L113.86,344.59 L114.04,345.13 L114.21,345.66 L114.39,346.19 L114.57,346.71 L114.75,347.23 L114.93,347.75 L115.10,348.25 L115.28,348.75 L115.46,349.24 L115.64,349.73 L115.82,350.22 L115.99,350.71 L116.17,351.19 L116.35,351.66 L116.53,352.13 L116.71,352.60 L116.88,353.06 L117.06,353.52 L117.24,353.97 L117.42,354.42 L117.60,354.87 L117.77,355.31 L117.95,355.75 L118.13,356.18 L118.31,356.61 L118.49,357.04 L118.66,357.46 L118.84,357.88 L119.02,358.29 L119.20,358.70 L119.38,359.11 L119.55,359.51 L119.73,359.92 L119.91,360.31 L120.09,360.71 L120.27,361.10 L120.44,361.48 L120.62,361.87 L120.80,362.25 L120.98,362.62 L121.16,363.00 L121.33,363.37 L121.51,363.74 L121.69,364.10 L121.87,364.46 L122.05,364.82 L122.22,365.17 L122.40,365.53 L122.58,365.88 L122.76,366.22 L122.94,366.57 L123.11,366.91 L123.29,367.25 L123.47,367.58 L123.65,367.91 L123.83,368.24 L124.00,368.57 L124.18,368.89 L124.36,369.22 L124.54,369.53 L124.72,369.85 L124.89,370.17 L125.07,370.48 L125.25,370.79 L125.43,371.09 L125.61,371.40 L125.78,371.70 L125.96,372.00 L126.14,372.29 L126.32,372.59 L126.50,372.88 L126.67,373.17 L126.85,373.46 L127.03,373.75 L127.21,374.03 L127.39,374.31 L127.56,374.59 L127.74,374.87 L127.92,375.14 L128.10,375.41 L128.28,375.68 L128.45,375.95 L128.63,376.22 L128.81,376.48 L128.99,376.74 L129.17,377.01 L129.34,377.26 L129.52,377.52 L129.70,377.77 L129.88,378.03 L130.06,378.28 L130.23,378.53 L130.41,378.77 L130.59,379.02 L130.77,379.26 L130.95,379.50 L131.12,379.74 L131.30,379.98 L131.48,380.22 L131.66,380.45 L131.84,380.69 L132.01,380.92 L132.19,381.15 L132.37,381.38 L132.55,381.60 L132.73,381.83 L132.90,382.05 L133.08,382.27 L133.26,382.49 L133.44,382.71 L133.62,382.93 L133.79,383.14 L133.97,383.35 L134.15,383.57 L134.33,383.78 L134.51,383.99 L134.68,384.19 L134.86,384.40 L135.04,384.61 L135.22,384.81 L135.40,385.01 L135.57,385.21 L135.75,385.41 L135.93,385.61 L136.11,385.81 L136.29,386.00 L136.46,386.19 L136.64,386.39 L136.82,386.58 L137.00,386.77 L137.18,386.96 L137.35,387.14 L137.53,387.33 L137.71,387.52 L137.89,387.70 L138.07,387.88 L138.24,388.06 L138.42,388.24 L138.60,388.42 L138.78,388.60 L138.96,388.77 L139.13,388.95 L139.31,389.12 L139.49,389.30 L139.67,389.47 L139.85,389.64 L140.02,389.81 L140.20,389.98 L140.38,390.14 L140.56,390.31 L140.74,390.48 L140.91,390.64 L141.09,390.80 L141.27,390.96 L141.45,391.13 L141.63,391.29 L141.80,391.44 L141.98,391.60 L142.16,391.76 L142.34,391.92 L142.52,392.07 L142.69,392.22 L142.87,392.38 L143.05,392.53 L143.23,392.68 L143.41,392.83 L143.58,392.98 L143.76,393.13 L143.94,393.27 L144.12,393.42 L144.30,393.57 L144.47,393.71 L144.65,393.85 L144.83,394.00 L145.01,394.14 L145.19,394.28 L145.36,394.42 L145.54,394.56 L145.72,394.70 L145.90,394.83 L146.08,394.97 L146.25,395.11 L146.43,395.24 L146.61,395.38 L146.79,395.51 L146.97,395.64 L147.14,395.77 L147.32,395.91 L147.50,396.04 L147.86,396.29 L148.21,396.55 L148.57,396.80 L148.92,397.05 L149.28,397.30 L149.64,397.54 L149.99,397.78 L150.35,398.02 L150.70,398.25 L151.06,398.49 L151.42,398.71 L151.77,398.94 L152.13,399.17 L152.48,399.39 L152.84,399.61 L153.20,399.82 L153.55,400.04 L153.91,400.25 L154.26,400.46 L154.62,400.67 L154.98,400.87 L155.33,401.08 L155.69,401.28 L156.04,401.47 L156.40,401.67 L156.76,401.86 L157.11,402.06 L157.47,402.25 L157.82,402.43 L158.18,402.62 L158.54,402.80 L158.89,402.99 L159.25,403.17 L159.60,403.34 L159.96,403.52 L160.32,403.69 L160.67,403.87 L161.03,404.04 L161.38,404.21 L161.74,404.37 L162.10,404.54 L162.45,404.70 L162.81,404.87 L163.16,405.03 L163.52,405.18 L163.88,405.34 L164.23,405.50 L164.59,405.65 L164.94,405.80 L165.30,405.96 L165.66,406.10 L166.01,406.25 L166.37,406.40 L166.72,406.54 L167.08,406.69 L167.44,406.83 L167.79,406.97 L168.15,407.11 L168.50,407.25 L168.86,407.39 L169.22,407.52 L169.57,407.66 L169.93,407.79 L170.28,407.92 L170.64,408.05 L171.00,408.18 L171.35,408.31 L171.71,408.44 L172.06,408.56 L172.42,408.69 L172.78,408.81 L173.13,408.93 L173.49,409.05 L173.84,409.17 L174.20,409.29 L174.56,409.41 L174.91,409.52 L175.27,409.64 L175.62,409.75 L175.98,409.87 L176.34,409.98 L176.69,410.09 L177.05,410.20 L177.40,410.31 L177.76,410.42 L178.12,410.53 L178.47,410.63 L178.83,410.74 L179.18,410.84 L179.54,410.95 L179.90,411.05 L180.25,411.15 L180.61,411.25 L180.96,411.35 L181.32,411.45 L181.68,411.55 L182.03,411.65 L182.39,411.75 L182.74,411.84 L183.10,411.94 L183.46,412.03 L183.81,412.12 L184.17,412.22 L184.52,412.31 L184.88,412.40 L185.24,412.49 L185.59,412.58 L185.95,412.67 L186.30,412.76 L186.66,412.84 L187.02,412.93 L187.37,413.02 L187.73,413.10 L188.08,413.19 L188.44,413.27 L188.80,413.35 L189.15,413.44 L189.51,413.52 L189.86,413.60 L190.22,413.68 L190.58,413.76 L190.93,413.84 L191.29,413.92 L191.64,413.99 L192.00,414.07 L192.36,414.15 L192.71,414.22 L193.07,414.30 L193.42,414.37 L193.78,414.45 L194.14,414.52 L194.49,414.60 L194.85,414.67 L195.20,414.74 L195.56,414.81 L195.92,414.88 L196.27,414.95 L196.63,415.02 L196.98,415.09 L197.34,415.16 L197.70,415.23 L198.05,415.30 L198.41,415.36 L198.76,415.43 L199.12,415.50 L199.48,415.56 L199.83,415.63 L200.19,415.69 L200.54,415.76 L200.90,415.82 L201.26,415.88 L201.61,415.94 L201.97,416.01 L202.32,416.07 L202.68,416.13 L203.04,416.19 L203.39,416.25 L203.75,416.31 L204.10,416.37 L204.46,416.43 L204.82,416.49 L205.17,416.55 L205.53,416.60 L205.88,416.66 L206.24,416.72 L206.60,416.78 L206.95,416.83 L207.31,416.89 L207.66,416.94 L208.02,417.00 L208.38,417.05 L208.73,417.11 L209.09,417.16 L209.44,417.21 L209.80,417.27 L210.16,417.32 L210.51,417.37 L210.87,417.42 L211.22,417.48 L211.58,417.53 L211.94,417.58 L212.29,417.63 L212.65,417.68 L213.00,417.73 L213.36,417.78 L213.72,417.83 L214.07,417.88 L214.43,417.92 L214.78,417.97 L215.14,418.02 L215.50,418.07 L215.85,418.11 L216.21,418.16 L216.56,418.21 L216.92,418.25 L217.28,418.30 L217.63,418.35 L217.99,418.39 L218.34,418.44 L218.70,418.48 L219.06,418.52 L219.41,418.57 L219.77,418.61 L220.12,418.66 L220.48,418.70 L220.84,418.74 L221.19,418.78 L221.55,418.83 L221.90,418.87 L222.26,418.91 L222.62,418.95 L222.97,418.99 L223.33,419.03 L223.68,419.08 L224.04,419.12 L224.40,419.16 L224.75,419.20 L225.11,419.24 L225.46,419.28 L225.82,419.31 L226.18,419.35 L226.53,419.39 L226.89,419.43 L227.24,419.47 L227.60,419.51 L227.96,419.54 L228.31,419.58 L228.67,419.62 L229.02,419.66 L229.38,419.69 L229.74,419.73 L230.09,419.77 L230.45,419.80 L230.80,419.84 L231.16,419.87 L231.52,419.91 L231.87,419.94 L232.23,419.98 L232.58,420.01 L232.94,420.05 L233.30,420.08 L233.65,420.12 L234.01,420.15 L234.36,420.19 L234.72,420.22 L235.08,420.25 L235.43,420.29 L235.79,420.32 L236.14,420.35 L236.50,420.38 L236.86,420.42 L237.21,420.45 L237.57,420.48 L237.92,420.51 L238.28,420.54 L238.64,420.58 L238.99,420.61 L239.35,420.64 L239.70,420.67 L240.06,420.70 L240.42,420.73 L240.77,420.76 L241.13,420.79 L241.48,420.82 L241.84,420.85 L242.20,420.88 L242.55,420.91 L242.91,420.94 L243.26,420.97 L243.62,421.00 L243.98,421.03 L244.33,421.05 L244.69,421.08 L245.04,421.11 L245.40,421.14 L245.76,421.17 L246.11,421.19 L246.47,421.22 L246.82,421.25 L247.18,421.28 L247.54,421.30 L247.89,421.33 L248.25,421.36 L248.60,421.38 L248.96,421.41 L249.32,421.44 L249.67,421.46 L250.03,421.49 L250.38,421.52 L250.74,421.54 L251.10,421.57 L251.45,421.59 L251.81,421.62 L252.16,421.64 L252.52,421.67 L252.88,421.69 L253.23,421.72 L253.59,421.74 L253.94,421.77 L254.30,421.79 L254.66,421.82 L255.01,421.84 L255.37,421.87 L255.72,421.89 L256.08,421.91 L256.44,421.94 L256.79,421.96 L257.15,421.98 L257.50,422.01 L257.86,422.03 L258.22,422.05 L258.57,422.08 L258.93,422.10 L259.28,422.12 L259.64,422.14 L260.00,422.17 L260.35,422.19 L260.71,422.21 L261.06,422.23 L261.42,422.25 L261.78,422.28 L262.13,422.30 L262.49,422.32 L262.84,422.34 L263.20,422.36 L263.56,422.38 L263.91,422.41 L264.27,422.43 L264.62,422.45 L264.98,422.47 L265.34,422.49 L265.69,422.51 L266.05,422.53 L266.40,422.55 L266.76,422.57 L267.12,422.59 L267.47,422.61 L267.83,422.63 L268.18,422.65 L268.54,422.67 L268.90,422.69 L269.25,422.71 L269.61,422.73 L269.96,422.75 L270.32,422.77 L270.68,422.79 L271.03,422.81 L271.39,422.83 L271.74,422.85 L272.10,422.86 L272.46,422.88 L272.81,422.90 L273.17,422.92 L273.52,422.94 L273.88,422.96 L274.24,422.97 L274.59,422.99 L274.95,423.01 L275.30,423.03 L275.66,423.05 L276.02,423.06 L276.37,423.08 L276.73,423.10 L277.08,423.12 L277.44,423.14 L277.80,423.15 L278.15,423.17 L278.51,423.19 L278.86,423.20 L279.22,423.22 L279.58,423.24 L279.93,423.26 L280.29,423.27 L280.64,423.29 L281.00,423.31 L281.36,423.32 L281.71,423.34 L282.07,423.36 L282.42,423.37 L282.78,423.39 L283.14,423.40 L283.49,423.42 L283.85,423.44 L284.20,423.45 L284.56,423.47 L284.92,423.48 L285.27,423.50 L285.63,423.52 L285.98,423.53 L286.34,423.55 L286.70,423.56 L287.05,423.58 L287.41,423.59 L287.76,423.61 L288.12,423.62 L288.48,423.64 L288.83,423.65 L289.19,423.67 L289.54,423.68 L289.90,423.70 L290.26,423.71 L290.61,423.73 L290.97,423.74 L291.32,423.76 L291.68,423.77 L292.04,423.79 L292.39,423.80 L292.75,423.81 L293.10,423.83 L293.46,423.84 L293.82,423.86 L294.17,423.87 L294.53,423.88 L294.88,423.90 L295.24,423.91 L295.60,423.93 L295.95,423.94 L296.31,423.95 L296.66,423.97 L297.02,423.98 L297.38,423.99 L297.73,424.01 L298.09,424.02 L298.44,424.03 L298.80,424.05 L299.16,424.06 L299.51,424.07 L299.87,424.09 L300.22,424.10 L300.58,424.11 L300.94,424.12 L301.29,424.14 L301.65,424.15 L302.00,424.16 L302.36,424.18 L302.72,424.19 L303.07,424.20 L303.43,424.21 L303.78,424.23 L304.14,424.24 L304.50,424.25 L304.85,424.26 L305.21,424.28 L305.56,424.29 L305.92,424.30 L306.28,424.31 L306.63,424.32 L306.99,424.34 L307.34,424.35 L307.70,424.36 L308.06,424.37 L308.41,424.38 L308.77,424.39 L309.12,424.41 L309.48,424.42 L309.84,424.43 L310.19,424.44 L310.55,424.45 L310.90,424.46 L311.26,424.47 L311.62,424.49 L311.97,424.50 L312.33,424.51 L312.68,424.52 L313.04,424.53 L313.40,424.54 L313.75,424.55 L314.11,424.56 L314.46,424.58 L314.82,424.59 L315.18,424.60 L315.53,424.61 L315.89,424.62 L316.24,424.63 L316.60,424.64 L316.96,424.65 L317.31,424.66 L317.67,424.67 L318.02,424.68 L318.38,424.69 L318.74,424.70 L319.09,424.71 L319.45,424.72 L319.80,424.73 L320.16,424.74 L320.52,424.75 L320.87,424.76 L321.23,424.77 L321.58,424.78 L321.94,424.79 L322.30,424.80 L322.65,424.81 L323.01,424.82 L323.36,424.83 L323.72,424.84 L324.08,424.85 L324.43,424.86 L324.79,424.87 L325.14,424.88 L325.50,424.89 L325.86,424.90 L326.21,424.91 L326.57,424.92 L326.92,424.93 L327.28,424.94 L327.64,424.95 L327.99,424.96 L328.35,424.97 L328.70,424.98 L329.06,424.99 L329.42,425.00 L329.77,425.01 L330.13,425.01 L330.48,425.02 L330.84,425.03 L331.20,425.04 L331.55,425.05 L331.91,425.06 L332.26,425.07 L332.62,425.08 L332.98,425.09 L333.33,425.10 L333.69,425.10 L334.04,425.11 L334.40,425.12 L334.76,425.13 L335.11,425.14 L335.47,425.15 L335.82,425.16 L336.18,425.17 L336.54,425.17 L336.89,425.18 L337.25,425.19 L337.60,425.20 L337.96,425.21 L338.32,425.22 L338.67,425.22 L339.03,425.23 L339.38,425.24 L339.74,425.25 L340.10,425.26 L340.45,425.27 L340.81,425.27 L341.16,425.28 L341.52,425.29 L341.88,425.30 L342.23,425.31 L342.59,425.31 L342.94,425.32 L343.30,425.33 L343.66,425.34 L344.01,425.35 L344.37,425.35 L344.72,425.36 L345.08,425.37 L345.44,425.38 L345.79,425.38 L346.15,425.39 L346.50,425.40 L346.86,425.41 L347.22,425.42 L347.57,425.42 L347.93,425.43 L348.28,425.44 L348.64,425.45 L349.00,425.45 L349.35,425.46 L349.71,425.47 L350.06,425.48 L350.42,425.48 L350.78,425.49 L351.13,425.50 L351.49,425.50 L351.84,425.51 L352.20,425.52 L352.56,425.53 L352.91,425.53 L353.27,425.54 L353.62,425.55 L353.98,425.55 L354.34,425.56 L354.69,425.57 L355.05,425.58 L355.40,425.58 L355.76,425.59 L356.12,425.60 L356.47,425.60 L356.83,425.61 L357.18,425.62 L357.54,425.62 L357.90,425.63 L358.25,425.64 L358.61,425.64 L358.96,425.65 L359.32,425.66 L359.68,425.67 L360.03,425.67 L360.39,425.68 L360.74,425.69 L361.10,425.69 L361.46,425.70 L361.81,425.70 L362.17,425.71 L362.52,425.72 L362.88,425.72 L363.24,425.73 L363.59,425.74 L363.95,425.74 L364.30,425.75 L364.66,425.76 L365.02,425.76 L365.37,425.77 L365.73,425.78 L366.08,425.78 L366.44,425.79 L366.80,425.79 L367.15,425.80 L367.51,425.81 L367.86,425.81 L368.22,425.82 L368.58,425.83 L368.93,425.83 L369.29,425.84 L369.64,425.84 L370.00,425.85 L370.36,425.86 L370.71,425.86 L371.07,425.87 L371.42,425.87 L371.78,425.88 L372.14,425.89 L372.49,425.89 L372.85,425.90 L373.20,425.90 L373.56,425.91 L373.92,425.92 L374.27,425.92 L374.63,425.93 L374.98,425.93 L375.34,425.94 L375.70,425.94 L376.05,425.95 L376.41,425.96 L376.76,425.96 L377.12,425.97 L377.48,425.97 L377.83,425.98 L378.19,425.98 L378.54,425.99 L378.90,426.00 L379.26,426.00 L379.61,426.01 L379.97,426.01 L380.32,426.02 L380.68,426.02 L381.04,426.03 L381.39,426.03 L381.75,426.04 L382.10,426.04 L382.46,426.05 L382.82,426.06 L383.17,426.06 L383.53,426.07 L383.88,426.07 L384.24,426.08 L384.60,426.08 L384.95,426.09 L385.31,426.09 L385.66,426.10 L386.02,426.10 L386.38,426.11 L386.73,426.11 L387.09,426.12 L387.44,426.12 L387.80,426.13 L388.16,426.13 L388.51,426.14 L388.87,426.14 L389.22,426.15 L389.58,426.15 L389.94,426.16 L390.29,426.16 L390.65,426.17 L391.00,426.17 L391.36,426.18 L391.72,426.18 L392.07,426.19 L392.43,426.19 L392.78,426.20 L393.14,426.20 L393.50,426.21 L393.85,426.21 L394.21,426.22 L394.56,426.22 L394.92,426.23 L395.28,426.23 L395.63,426.24 L395.99,426.24 L396.34,426.25 L396.70,426.25 L397.06,426.26 L397.41,426.26 L397.77,426.27 L398.12,426.27 L398.48,426.28 L398.84,426.28 L399.19,426.28 L399.55,426.29 L399.90,426.29 L400.26,426.30 L400.62,426.30 L400.97,426.31 L401.33,426.31 L401.68,426.32 L402.04,426.32 L402.40,426.33 L402.75,426.33 L403.11,426.33 L403.46,426.34 L403.82,426.34 L404.18,426.35 L404.53,426.35 L404.89,426.36 L405.24,426.36 L405.60,426.37 L405.96,426.37 L406.31,426.37 L406.67,426.38 L407.02,426.38 L407.38,426.39 L407.74,426.39 L408.09,426.40 L408.45,426.40 L408.80,426.40 L409.16,426.41 L409.52,426.41 L409.87,426.42 L410.23,426.42 L410.58,426.43 L410.94,426.43 L411.30,426.43 L411.65,426.44 L412.01,426.44 L412.36,426.45 L412.72,426.45 L413.08,426.45 L413.43,426.46 L413.79,426.46 L414.14,426.47 L414.50,426.47 L414.86,426.48 L415.21,426.48 L415.57,426.48 L415.92,426.49 L416.28,426.49 L416.64,426.50 L416.99,426.50 L417.35,426.50 L417.70,426.51 L418.06,426.51 L418.42,426.51 L418.77,426.52 L419.13,426.52 L419.48,426.53 L419.84,426.53 L420.20,426.53 L420.55,426.54 L420.91,426.54 L421.26,426.55 L421.62,426.55 L421.98,426.55 L422.33,426.56 L422.69,426.56 L423.04,426.56 L423.40,426.57 L423.76,426.57 L424.11,426.58 L424.47,426.58 L424.82,426.58 L425.18,426.59 L425.54,426.59 L425.89,426.59 L426.25,426.60 L426.60,426.60 L426.96,426.61 L427.32,426.61 L427.67,426.61 L428.03,426.62 L428.38,426.62 L428.74,426.62 L429.10,426.63 L429.45,426.63 L429.81,426.63 L430.16,426.64 L430.52,426.64 L430.88,426.65 L431.23,426.65 L431.59,426.65 L431.94,426.66 L432.30,426.66 L432.66,426.66 L433.01,426.67 L433.37,426.67 L433.72,426.67 L434.08,426.68 L434.44,426.68 L434.79,426.68 L435.15,426.69 L435.50,426.69 L435.86,426.69 L436.22,426.70 L436.57,426.70 L436.93,426.70 L437.28,426.71 L437.64,426.71 L438.00,426.71 L438.35,426.72 L438.71,426.72 L439.06,426.72 L439.42,426.73 L439.78,426.73 L440.13,426.73 L440.49,426.74 L440.84,426.74 L441.20,426.74 L441.56,426.75 L441.91,426.75 L442.27,426.75 L442.62,426.76 L442.98,426.76 L443.34,426.76 L443.69,426.77 L444.05,426.77 L444.40,426.77 L444.76,426.78 L445.12,426.78 L445.47,426.78 L445.83,426.79 L446.18,426.79 L446.54,426.79 L446.90,426.80 L447.25,426.80 L447.61,426.80 L447.96,426.80 L448.32,426.81 L448.68,426.81 L449.03,426.81 L449.39,426.82 L449.74,426.82 L450.10,426.82 L450.46,426.83 L450.81,426.83 L451.17,426.83 L451.52,426.84 L451.88,426.84 L452.24,426.84 L452.59,426.84 L452.95,426.85 L453.30,426.85 L453.66,426.85 L454.02,426.86 L454.37,426.86 L454.73,426.86 L455.08,426.87 L455.44,426.87 L455.80,426.87 L456.15,426.87 L456.51,426.88 L456.86,426.88 L457.22,426.88 L457.58,426.89 L457.93,426.89 L458.29,426.89 L458.64,426.89 L459.00,426.90 L459.36,426.90 L459.71,426.90 L460.07,426.91 L460.42,426.91 L460.78,426.91 L461.14,426.91 L461.49,426.92 L461.85,426.92 L462.20,426.92 L462.56,426.92 L462.92,426.93 L463.27,426.93 L463.63,426.93 L463.98,426.94 L464.34,426.94 L464.70,426.94 L465.05,426.94 L465.41,426.95 L465.76,426.95 L466.12,426.95 L466.48,426.96 L466.83,426.96 L467.19,426.96 L467.54,426.96 L467.90,426.97 L468.26,426.97 L468.61,426.97 L468.97,426.97 L469.32,426.98 L469.68,426.98 L470.04,426.98 L470.39,426.98 L470.75,426.99 L471.10,426.99 L471.46,426.99 L471.82,426.99 L472.17,427.00 L472.53,427.00 L472.88,427.00 L473.24,427.01 L473.60,427.01 L473.95,427.01 L474.31,427.01 L474.66,427.02 L475.02,427.02 L475.38,427.02 L475.73,427.02 L476.09,427.03 L476.44,427.03 L476.80,427.03 L477.16,427.03 L477.51,427.04 L477.87,427.04 L478.22,427.04 L478.58,427.04 L478.94,427.05 L479.29,427.05 L479.65,427.05 L480.00,427.05 L480.36,427.06 L480.72,427.06 L481.07,427.06 L481.43,427.06 L481.78,427.06 L482.14,427.07 L482.50,427.07 L482.85,427.07 L483.21,427.07 L483.56,427.08 L483.92,427.08 L484.28,427.08 L484.63,427.08 L484.99,427.09 L485.34,427.09 L485.70,427.09 L486.06,427.09 L486.41,427.10 L486.77,427.10 L487.12,427.10 L487.48,427.10 L487.84,427.10 L488.19,427.11 L488.55,427.11 L488.90,427.11 L489.26,427.11 L489.62,427.12 L489.97,427.12 L490.33,427.12 L490.68,427.12 L491.04,427.13 L491.40,427.13 L491.75,427.13 L492.11,427.13 L492.46,427.13 L492.82,427.14 L493.18,427.14 L493.53,427.14 L493.89,427.14 L494.24,427.15 L494.60,427.15 L494.96,427.15 L495.31,427.15 L495.67,427.15 L496.02,427.16 L496.38,427.16 L496.74,427.16 L497.09,427.16 L497.45,427.17 L497.80,427.17 L498.16,427.17 L498.52,427.17 L498.87,427.17 L499.23,427.18 L499.58,427.18 L499.94,427.18 L500.30,427.18 L500.65,427.18 L501.01,427.19 L501.36,427.19 L501.72,427.19 L502.08,427.19 L502.43,427.20 L502.79,427.20 L503.14,427.20 L503.50,427.20 L503.86,427.20 L504.21,427.21 L504.57,427.21 L504.92,427.21 L505.28,427.21 L505.64,427.21 L505.99,427.22 L506.35,427.22 L506.70,427.22 L507.06,427.22 L507.42,427.22 L507.77,427.23 L508.13,427.23 L508.48,427.23 L508.84,427.23 L509.20,427.23 L509.55,427.24 L509.91,427.24 L510.26,427.24 L510.62,427.24 L510.98,427.24 L511.33,427.25 L511.69,427.25 L512.04,427.25 L512.40,427.25 L512.76,427.25 L513.11,427.26 L513.47,427.26 L513.82,427.26 L514.18,427.26 L514.54,427.26 L514.89,427.27 L515.25,427.27 L515.60,427.27 L515.96,427.27 L516.32,427.27 L516.67,427.28 L517.03,427.28 L517.38,427.28 L517.74,427.28 L518.10,427.28 L518.45,427.28 L518.81,427.29 L519.16,427.29 L519.52,427.29 L519.88,427.29 L520.23,427.29 L520.59,427.30 L520.94,427.30 L521.30,427.30 L521.66,427.30 L522.01,427.30 L522.37,427.30 L522.72,427.31 L523.08,427.31 L523.44,427.31 L523.79,427.31 L524.15,427.31 L524.50,427.32 L524.86,427.32 L525.22,427.32 L525.57,427.32 L525.93,427.32 L526.28,427.32 L526.64,427.33 L527.00,427.33 L527.35,427.33 L527.71,427.33 L528.06,427.33 L528.42,427.34 L528.78,427.34 L529.13,427.34 L529.49,427.34 L529.84,427.34 L530.20,427.34 L530.56,427.35 L530.91,427.35 L531.27,427.35 L531.62,427.35 L531.98,427.35 L532.34,427.35 L532.69,427.36 L533.05,427.36 L533.40,427.36 L533.76,427.36 L534.12,427.36 L534.47,427.36 L534.83,427.37 L535.18,427.37 L535.54,427.37 L535.90,427.37 L536.25,427.37 L536.61,427.38 L536.96,427.38 L537.32,427.38 L537.68,427.38 L538.03,427.38 L538.39,427.38 L538.74,427.39 L539.10,427.39 L539.46,427.39 L539.81,427.39 L540.17,427.39 L540.52,427.39 L540.88,427.39 L541.24,427.40 L541.59,427.40 L541.95,427.40 L542.30,427.40 L542.66,427.40 L543.02,427.40 L543.37,427.41 L543.73,427.41 L544.08,427.41 L544.44,427.41 L544.80,427.41 L545.15,427.41 L545.51,427.42 L545.86,427.42 L546.22,427.42 L546.58,427.42 L546.93,427.42 L547.29,427.42 L547.64,427.43 L548.00,427.43 L548.36,427.43 L548.71,427.43 L549.07,427.43 L549.42,427.43 L549.78,427.43 L550.14,427.44 L550.49,427.44 L550.85,427.44 L551.20,427.44 L551.56,427.44 L551.92,427.44 L552.27,427.45 L552.63,427.45 L552.98,427.45 L553.34,427.45 L553.70,427.45 L554.05,427.45 L554.41,427.45 L554.76,427.46 L555.12,427.46 L555.48,427.46 L555.83,427.46 L556.19,427.46 L556.54,427.46 L556.90,427.46 L557.26,427.47 L557.61,427.47 L557.97,427.47 L558.32,427.47 L558.68,427.47 L559.04,427.47 L559.39,427.48 L559.75,427.48 L560.10,427.48 L560.46,427.48 L560.82,427.48 L561.17,427.48 L561.53,427.48 L561.88,427.49 L562.24,427.49 L562.60,427.49 L562.95,427.49 L563.31,427.49 L563.66,427.49 L564.02,427.49 L564.38,427.50 L564.73,427.50 L565.09,427.50 L565.44,427.50 L565.80,427.50 L566.16,427.50 L566.51,427.50 L566.87,427.50 L567.22,427.51 L567.58,427.51 L567.94,427.51 L568.29,427.51 L568.65,427.51 L569.00,427.51 L569.36,427.51 L569.72,427.52 L570.07,427.52 L570.43,427.52 L570.78,427.52 L571.14,427.52 L571.50,427.52 L571.85,427.52 L572.21,427.53 L572.56,427.53 L572.92,427.53 L573.28,427.53 L573.63,427.53 L573.99,427.53 L574.34,427.53 L574.70,427.53 L575.06,427.54 L575.41,427.54 L575.77,427.54 L576.12,427.54 L576.48,427.54 L576.84,427.54 L577.19,427.54 L577.55,427.55 L577.90,427.55 L578.26,427.55 L578.62,427.55 L578.97,427.55 L579.33,427.55 L579.68,427.55 L580.04,427.55 L580.40,427.56 L580.75,427.56 L581.11,427.56 L581.46,427.56 L581.82,427.56 L582.18,427.56 L582.53,427.56 L582.89,427.56 L583.24,427.57 L583.60,427.57 L583.96,427.57 L584.31,427.57 L584.67,427.57 L585.02,427.57 L585.38,427.57 L585.74,427.57 L586.09,427.58 L586.45,427.58 L586.80,427.58 L587.16,427.58 L587.52,427.58 L587.87,427.58 L588.23,427.58 L588.58,427.58 L588.94,427.59 L589.30,427.59 L589.65,427.59 L590.01,427.59 L590.36,427.59 L590.72,427.59 L591.08,427.59 L591.43,427.59 L591.79,427.60 L592.14,427.60 L592.50,427.60" fill="none" stroke="#74d856" stroke-width="1.15" stroke-dasharray="1.1 5.0 8.3 5.0"/>
<path d="M58.50,428.50 L58.68,428.50 L58.86,428.49 L59.03,428.49 L59.21,428.48 L59.39,428.47 L59.57,428.47 L59.75,428.46 L59.92,428.45 L60.10,428.44 L60.28,428.42 L60.46,428.41 L60.64,428.40 L60.81,428.38 L60.99,428.36 L61.17,428.34 L61.35,428.32 L61.53,428.30 L61.70,428.27 L61.88,428.25 L62.06,428.22 L62.24,428.19 L62.42,428.17 L62.59,428.13 L62.77,428.10 L62.95,428.06 L63.13,428.03 L63.31,427.99 L63.48,427.95 L63.66,427.91 L63.84,427.87 L64.02,427.83 L64.20,427.78 L64.37,427.74 L64.55,427.69 L64.73,427.64 L64.91,427.60 L65.09,427.55 L65.26,427.49 L65.44,427.44 L65.62,427.39 L65.80,427.33 L65.98,427.27 L66.15,427.21 L66.33,427.15 L66.51,427.09 L66.69,427.02 L66.87,426.96 L67.04,426.89 L67.22,426.82 L67.40,426.75 L67.58,426.68 L67.76,426.61 L67.93,426.54 L68.11,426.46 L68.29,426.39 L68.47,426.31 L68.65,426.23 L68.82,426.14 L69.00,426.05 L69.18,425.96 L69.36,425.87 L69.54,425.77 L69.71,425.66 L69.89,425.55 L70.07,425.44 L70.25,425.32 L70.43,425.20 L70.60,425.08 L70.78,424.95 L70.96,424.81 L71.14,424.67 L71.32,424.53 L71.49,424.37 L71.67,424.21 L71.85,424.04 L72.03,423.87 L72.21,423.70 L72.38,423.53 L72.56,423.36 L72.74,423.20 L72.92,423.04 L73.10,422.89 L73.27,422.74 L73.45,422.59 L73.63,422.44 L73.81,422.28 L73.99,422.12 L74.16,421.96 L74.34,421.79 L74.52,421.60 L74.70,421.41 L74.88,421.20 L75.05,420.98 L75.23,420.75 L75.41,420.51 L75.59,420.27 L75.77,420.02 L75.94,419.77 L76.12,419.52 L76.30,419.27 L76.48,419.03 L76.66,418.78 L76.83,418.54 L77.01,418.29 L77.19,418.04 L77.37,417.79 L77.55,417.52 L77.72,417.25 L77.90,416.96 L78.08,416.67 L78.26,416.35 L78.44,416.02 L78.61,415.68 L78.79,415.33 L78.97,414.96 L79.15,414.58 L79.33,414.20 L79.50,413.80 L79.68,413.40 L79.86,413.00 L80.04,412.59 L80.22,412.16 L80.39,411.73 L80.57,411.28 L80.75,410.83 L80.93,410.37 L81.11,409.89 L81.28,409.41 L81.46,408.91 L81.64,408.41 L81.82,407.89 L82.00,407.36 L82.17,406.82 L82.35,406.26 L82.53,405.70 L82.71,405.12 L82.89,404.52 L83.06,403.91 L83.24,403.29 L83.42,402.66 L83.60,402.00 L83.78,401.30 L83.95,400.57 L84.13,399.80 L84.31,398.99 L84.49,398.15 L84.67,397.27 L84.84,396.35 L85.02,395.40 L85.20,394.41 L85.38,393.38 L85.56,392.31 L85.73,391.20 L85.91,390.05 L86.09,388.86 L86.27,387.62 L86.45,386.36 L86.62,385.05 L86.80,383.71 L86.98,382.34 L87.16,380.94 L87.34,379.50 L87.51,377.97 L87.69,376.31 L87.87,374.53 L88.05,372.66 L88.23,370.70 L88.40,368.70 L88.58,366.67 L88.76,364.64 L88.94,362.63 L89.12,360.67 L89.29,358.76 L89.47,356.83 L89.65,354.89 L89.83,352.95 L90.01,350.99 L90.18,349.01 L90.36,347.02 L90.54,345.01 L90.72,342.97 L90.90,340.86 L91.07,338.72 L91.25,336.56 L91.43,334.37 L91.61,332.17 L91.79,329.95 L91.96,327.72 L92.14,325.48 L92.32,323.23 L92.50,320.96 L92.68,318.66 L92.85,316.32 L93.03,313.96 L93.21,311.57 L93.39,309.15 L93.57,306.72 L93.74,304.27 L93.92,301.80 L94.10,299.32 L94.28,296.77 L94.46,294.16 L94.63,291.49 L94.81,288.78 L94.99,286.05 L95.17,283.30 L95.35,280.57 L95.52,277.86 L95.70,275.19 L95.88,272.58 L96.06,270.02 L96.24,267.46 L96.41,264.95 L96.59,262.49 L96.77,260.11 L96.95,257.83 L97.13,255.68 L97.30,253.67 L97.48,251.83 L97.66,250.15 L97.84,248.54 L98.02,246.96 L98.19,245.41 L98.37,243.92 L98.55,242.50 L98.73,241.18 L98.91,239.96 L99.08,238.88 L99.26,237.94 L99.44,237.16 L99.62,236.49 L99.80,235.84 L99.97,235.21 L100.15,234.61 L100.33,234.04 L100.51,233.50 L100.69,232.99 L100.86,232.53 L101.04,232.10 L101.22,231.72 L101.40,231.41 L101.58,231.21 L101.75,231.09 L101.93,231.04 L102.11,231.02 L102.29,231.03 L102.47,231.07 L102.64,231.12 L102.82,231.17 L103.00,231.21 L103.18,231.30 L103.36,231.49 L103.53,231.77 L103.71,232.13 L103.89,232.58 L104.07,233.11 L104.25,233.71 L104.42,234.37 L104.60,235.10 L104.78,235.88 L104.96,236.71 L105.14,237.56 L105.31,238.44 L105.49,239.35 L105.67,240.27 L105.85,241.21 L106.03,242.16 L106.20,243.12 L106.38,244.08 L106.56,245.05 L106.74,246.03 L106.92,247.02 L107.09,248.03 L107.27,249.05 L107.45,250.08 L107.63,251.11 L107.81,252.15 L107.98,253.19 L108.16,254.22 L108.34,255.25 L108.52,256.28 L108.70,257.32 L108.87,258.36 L109.05,259.39 L109.23,260.43 L109.41,261.47 L109.59,262.50 L109.76,263.53 L109.94,264.56 L110.12,265.57 L110.30,266.58 L110.48,267.58 L110.65,268.58 L110.83,269.58 L111.01,270.57 L111.19,271.55 L111.37,272.54 L111.54,273.52 L111.72,274.50 L111.90,275.48 L112.08,276.45 L112.26,277.43 L112.43,278.41 L112.61,279.38 L112.79,280.35 L112.97,281.32 L113.15,282.28 L113.32,283.23 L113.50,284.17 L113.68,285.10 L113.86,286.02 L114.04,286.94 L114.21,287.85 L114.39,288.76 L114.57,289.65 L114.75,290.54 L114.93,291.42 L115.10,292.29 L115.28,293.15 L115.46,293.99 L115.64,294.84 L115.82,295.68 L115.99,296.51 L116.17,297.33 L116.35,298.15 L116.53,298.96 L116.71,299.76 L116.88,300.56 L117.06,301.34 L117.24,302.13 L117.42,302.90 L117.60,303.67 L117.77,304.43 L117.95,305.18 L118.13,305.93 L118.31,306.67 L118.49,307.41 L118.66,308.14 L118.84,308.86 L119.02,309.58 L119.20,310.29 L119.38,310.99 L119.55,311.69 L119.73,312.38 L119.91,313.07 L120.09,313.75 L120.27,314.42 L120.44,315.09 L120.62,315.75 L120.80,316.41 L120.98,317.06 L121.16,317.71 L121.33,318.35 L121.51,318.98 L121.69,319.61 L121.87,320.24 L122.05,320.86 L122.22,321.47 L122.40,322.08 L122.58,322.68 L122.76,323.28 L122.94,323.88 L123.11,324.47 L123.29,325.05 L123.47,325.63 L123.65,326.20 L123.83,326.77 L124.00,327.34 L124.18,327.90 L124.36,328.45 L124.54,329.00 L124.72,329.55 L124.89,330.09 L125.07,330.63 L125.25,331.16 L125.43,331.69 L125.61,332.21 L125.78,332.73 L125.96,333.25 L126.14,333.76 L126.32,334.27 L126.50,334.77 L126.67,335.27 L126.85,335.76 L127.03,336.25 L127.21,336.74 L127.39,337.22 L127.56,337.70 L127.74,338.18 L127.92,338.65 L128.10,339.12 L128.28,339.58 L128.45,340.04 L128.63,340.49 L128.81,340.95 L128.99,341.40 L129.17,341.84 L129.34,342.28 L129.52,342.72 L129.70,343.15 L129.88,343.58 L130.06,344.01 L130.23,344.44 L130.41,344.86 L130.59,345.27 L130.77,345.69 L130.95,346.10 L131.12,346.51 L131.30,346.92 L131.48,347.32 L131.66,347.72 L131.84,348.12 L132.01,348.51 L132.19,348.90 L132.37,349.29 L132.55,349.68 L132.73,350.06 L132.90,350.44 L133.08,350.82 L133.26,351.19 L133.44,351.56 L133.62,351.93 L133.79,352.30 L133.97,352.66 L134.15,353.02 L134.33,353.38 L134.51,353.74 L134.68,354.09 L134.86,354.44 L135.04,354.79 L135.22,355.14 L135.40,355.48 L135.57,355.83 L135.75,356.16 L135.93,356.50 L136.11,356.84 L136.29,357.17 L136.46,357.50 L136.64,357.83 L136.82,358.15 L137.00,358.48 L137.18,358.80 L137.35,359.12 L137.53,359.43 L137.71,359.75 L137.89,360.06 L138.07,360.37 L138.24,360.68 L138.42,360.98 L138.60,361.29 L138.78,361.59 L138.96,361.89 L139.13,362.19 L139.31,362.48 L139.49,362.78 L139.67,363.07 L139.85,363.36 L140.02,363.65 L140.20,363.94 L140.38,364.22 L140.56,364.50 L140.74,364.78 L140.91,365.06 L141.09,365.34 L141.27,365.62 L141.45,365.89 L141.63,366.16 L141.80,366.43 L141.98,366.70 L142.16,366.97 L142.34,367.23 L142.52,367.49 L142.69,367.76 L142.87,368.02 L143.05,368.27 L143.23,368.53 L143.41,368.78 L143.58,369.04 L143.76,369.29 L143.94,369.54 L144.12,369.79 L144.30,370.03 L144.47,370.28 L144.65,370.52 L144.83,370.77 L145.01,371.01 L145.19,371.25 L145.36,371.48 L145.54,371.72 L145.72,371.95 L145.90,372.19 L146.08,372.42 L146.25,372.65 L146.43,372.88 L146.61,373.11 L146.79,373.33 L146.97,373.56 L147.14,373.78 L147.32,374.00 L147.50,374.22 L147.86,374.66 L148.21,375.09 L148.57,375.52 L148.92,375.94 L149.28,376.36 L149.64,376.77 L149.99,377.18 L150.35,377.58 L150.70,377.98 L151.06,378.37 L151.42,378.76 L151.77,379.14 L152.13,379.52 L152.48,379.90 L152.84,380.27 L153.20,380.63 L153.55,380.99 L153.91,381.35 L154.26,381.71 L154.62,382.06 L154.98,382.40 L155.33,382.74 L155.69,383.08 L156.04,383.41 L156.40,383.74 L156.76,384.07 L157.11,384.39 L157.47,384.71 L157.82,385.03 L158.18,385.34 L158.54,385.65 L158.89,385.96 L159.25,386.26 L159.60,386.56 L159.96,386.85 L160.32,387.15 L160.67,387.43 L161.03,387.72 L161.38,388.00 L161.74,388.28 L162.10,388.56 L162.45,388.83 L162.81,389.11 L163.16,389.37 L163.52,389.64 L163.88,389.90 L164.23,390.16 L164.59,390.42 L164.94,390.67 L165.30,390.93 L165.66,391.17 L166.01,391.42 L166.37,391.67 L166.72,391.91 L167.08,392.15 L167.44,392.38 L167.79,392.62 L168.15,392.85 L168.50,393.08 L168.86,393.31 L169.22,393.54 L169.57,393.76 L169.93,393.98 L170.28,394.20 L170.64,394.42 L171.00,394.63 L171.35,394.85 L171.71,395.06 L172.06,395.27 L172.42,395.48 L172.78,395.68 L173.13,395.88 L173.49,396.09 L173.84,396.29 L174.20,396.48 L174.56,396.68 L174.91,396.87 L175.27,397.07 L175.62,397.26 L175.98,397.45 L176.34,397.63 L176.69,397.82 L177.05,398.00 L177.40,398.19 L177.76,398.37 L178.12,398.55 L178.47,398.72 L178.83,398.90 L179.18,399.07 L179.54,399.25 L179.90,399.42 L180.25,399.59 L180.61,399.76 L180.96,399.92 L181.32,400.09 L181.68,400.25 L182.03,400.42 L182.39,400.58 L182.74,400.74 L183.10,400.89 L183.46,401.05 L183.81,401.21 L184.17,401.36 L184.52,401.51 L184.88,401.67 L185.24,401.82 L185.59,401.97 L185.95,402.11 L186.30,402.26 L186.66,402.41 L187.02,402.55 L187.37,402.69 L187.73,402.84 L188.08,402.98 L188.44,403.12 L188.80,403.26 L189.15,403.39 L189.51,403.53 L189.86,403.66 L190.22,403.80 L190.58,403.93 L190.93,404.06 L191.29,404.19 L191.64,404.32 L192.00,404.45 L192.36,404.58 L192.71,404.71 L193.07,404.83 L193.42,404.96 L193.78,405.08 L194.14,405.20 L194.49,405.33 L194.85,405.45 L195.20,405.57 L195.56,405.69 L195.92,405.80 L196.27,405.92 L196.63,406.04 L196.98,406.15 L197.34,406.27 L197.70,406.38 L198.05,406.49 L198.41,406.60 L198.76,406.72 L199.12,406.83 L199.48,406.94 L199.83,407.04 L200.19,407.15 L200.54,407.26 L200.90,407.36 L201.26,407.47 L201.61,407.57 L201.97,407.68 L202.32,407.78 L202.68,407.88 L203.04,407.98 L203.39,408.09 L203.75,408.19 L204.10,408.28 L204.46,408.38 L204.82,408.48 L205.17,408.58 L205.53,408.67 L205.88,408.77 L206.24,408.86 L206.60,408.96 L206.95,409.05 L207.31,409.15 L207.66,409.24 L208.02,409.33 L208.38,409.42 L208.73,409.51 L209.09,409.60 L209.44,409.69 L209.80,409.78 L210.16,409.87 L210.51,409.95 L210.87,410.04 L211.22,410.13 L211.58,410.21 L211.94,410.30 L212.29,410.38 L212.65,410.46 L213.00,410.55 L213.36,410.63 L213.72,410.71 L214.07,410.79 L214.43,410.87 L214.78,410.95 L215.14,411.03 L215.50,411.11 L215.85,411.19 L216.21,411.27 L216.56,411.35 L216.92,411.42 L217.28,411.50 L217.63,411.58 L217.99,411.65 L218.34,411.73 L218.70,411.80 L219.06,411.87 L219.41,411.95 L219.77,412.02 L220.12,412.09 L220.48,412.17 L220.84,412.24 L221.19,412.31 L221.55,412.38 L221.90,412.45 L222.26,412.52 L222.62,412.59 L222.97,412.66 L223.33,412.72 L223.68,412.79 L224.04,412.86 L224.40,412.93 L224.75,412.99 L225.11,413.06 L225.46,413.13 L225.82,413.19 L226.18,413.26 L226.53,413.32 L226.89,413.38 L227.24,413.45 L227.60,413.51 L227.96,413.57 L228.31,413.64 L228.67,413.70 L229.02,413.76 L229.38,413.82 L229.74,413.88 L230.09,413.94 L230.45,414.00 L230.80,414.06 L231.16,414.12 L231.52,414.18 L231.87,414.24 L232.23,414.30 L232.58,414.36 L232.94,414.42 L233.30,414.47 L233.65,414.53 L234.01,414.59 L234.36,414.64 L234.72,414.70 L235.08,414.75 L235.43,414.81 L235.79,414.86 L236.14,414.92 L236.50,414.97 L236.86,415.03 L237.21,415.08 L237.57,415.13 L237.92,415.19 L238.28,415.24 L238.64,415.29 L238.99,415.34 L239.35,415.40 L239.70,415.45 L240.06,415.50 L240.42,415.55 L240.77,415.60 L241.13,415.65 L241.48,415.70 L241.84,415.75 L242.20,415.80 L242.55,415.85 L242.91,415.90 L243.26,415.95 L243.62,415.99 L243.98,416.04 L244.33,416.09 L244.69,416.14 L245.04,416.18 L245.40,416.23 L245.76,416.28 L246.11,416.32 L246.47,416.37 L246.82,416.42 L247.18,416.46 L247.54,416.51 L247.89,416.55 L248.25,416.60 L248.60,416.64 L248.96,416.69 L249.32,416.73 L249.67,416.77 L250.03,416.82 L250.38,416.86 L250.74,416.90 L251.10,416.95 L251.45,416.99 L251.81,417.03 L252.16,417.07 L252.52,417.11 L252.88,417.16 L253.23,417.20 L253.59,417.24 L253.94,417.28 L254.30,417.32 L254.66,417.36 L255.01,417.40 L255.37,417.44 L255.72,417.48 L256.08,417.52 L256.44,417.56 L256.79,417.60 L257.15,417.64 L257.50,417.68 L257.86,417.72 L258.22,417.75 L258.57,417.79 L258.93,417.83 L259.28,417.87 L259.64,417.91 L260.00,417.94 L260.35,417.98 L260.71,418.02 L261.06,418.06 L261.42,418.09 L261.78,418.13 L262.13,418.16 L262.49,418.20 L262.84,418.24 L263.20,418.27 L263.56,418.31 L263.91,418.34 L264.27,418.38 L264.62,418.41 L264.98,418.45 L265.34,418.48 L265.69,418.52 L266.05,418.55 L266.40,418.58 L266.76,418.62 L267.12,418.65 L267.47,418.69 L267.83,418.72 L268.18,418.75 L268.54,418.79 L268.90,418.82 L269.25,418.85 L269.61,418.88 L269.96,418.92 L270.32,418.95 L270.68,418.98 L271.03,419.01 L271.39,419.04 L271.74,419.08 L272.10,419.11 L272.46,419.14 L272.81,419.17 L273.17,419.20 L273.52,419.23 L273.88,419.26 L274.24,419.29 L274.59,419.32 L274.95,419.35 L275.30,419.38 L275.66,419.41 L276.02,419.44 L276.37,419.47 L276.73,419.50 L277.08,419.53 L277.44,419.56 L277.80,419.59 L278.15,419.62 L278.51,419.65 L278.86,419.67 L279.22,419.70 L279.58,419.73 L279.93,419.76 L280.29,419.79 L280.64,419.82 L281.00,419.84 L281.36,419.87 L281.71,419.90 L282.07,419.93 L282.42,419.95 L282.78,419.98 L283.14,420.01 L283.49,420.03 L283.85,420.06 L284.20,420.09 L284.56,420.11 L284.92,420.14 L285.27,420.17 L285.63,420.19 L285.98,420.22 L286.34,420.24 L286.70,420.27 L287.05,420.30 L287.41,420.32 L287.76,420.35 L288.12,420.37 L288.48,420.40 L288.83,420.42 L289.19,420.45 L289.54,420.47 L289.90,420.50 L290.26,420.52 L290.61,420.55 L290.97,420.57 L291.32,420.59 L291.68,420.62 L292.04,420.64 L292.39,420.67 L292.75,420.69 L293.10,420.71 L293.46,420.74 L293.82,420.76 L294.17,420.78 L294.53,420.81 L294.88,420.83 L295.24,420.85 L295.60,420.88 L295.95,420.90 L296.31,420.92 L296.66,420.94 L297.02,420.97 L297.38,420.99 L297.73,421.01 L298.09,421.03 L298.44,421.06 L298.80,421.08 L299.16,421.10 L299.51,421.12 L299.87,421.14 L300.22,421.17 L300.58,421.19 L300.94,421.21 L301.29,421.23 L301.65,421.25 L302.00,421.27 L302.36,421.29 L302.72,421.31 L303.07,421.33 L303.43,421.36 L303.78,421.38 L304.14,421.40 L304.50,421.42 L304.85,421.44 L305.21,421.46 L305.56,421.48 L305.92,421.50 L306.28,421.52 L306.63,421.54 L306.99,421.56 L307.34,421.58 L307.70,421.60 L308.06,421.62 L308.41,421.64 L308.77,421.66 L309.12,421.68 L309.48,421.70 L309.84,421.72 L310.19,421.73 L310.55,421.75 L310.90,421.77 L311.26,421.79 L311.62,421.81 L311.97,421.83 L312.33,421.85 L312.68,421.87 L313.04,421.89 L313.40,421.90 L313.75,421.92 L314.11,421.94 L314.46,421.96 L314.82,421.98 L315.18,421.99 L315.53,422.01 L315.89,422.03 L316.24,422.05 L316.60,422.07 L316.96,422.08 L317.31,422.10 L317.67,422.12 L318.02,422.14 L318.38,422.15 L318.74,422.17 L319.09,422.19 L319.45,422.21 L319.80,422.22 L320.16,422.24 L320.52,422.26 L320.87,422.27 L321.23,422.29 L321.58,422.31 L321.94,422.32 L322.30,422.34 L322.65,422.36 L323.01,422.37 L323.36,422.39 L323.72,422.41 L324.08,422.42 L324.43,422.44 L324.79,422.46 L325.14,422.47 L325.50,422.49 L325.86,422.50 L326.21,422.52 L326.57,422.54 L326.92,422.55 L327.28,422.57 L327.64,422.58 L327.99,422.60 L328.35,422.61 L328.70,422.63 L329.06,422.65 L329.42,422.66 L329.77,422.68 L330.13,422.69 L330.48,422.71 L330.84,422.72 L331.20,422.74 L331.55,422.75 L331.91,422.77 L332.26,422.78 L332.62,422.80 L332.98,422.81 L333.33,422.83 L333.69,422.84 L334.04,422.86 L334.40,422.87 L334.76,422.88 L335.11,422.90 L335.47,422.91 L335.82,422.93 L336.18,422.94 L336.54,422.96 L336.89,422.97 L337.25,422.98 L337.60,423.00 L337.96,423.01 L338.32,423.03 L338.67,423.04 L339.03,423.05 L339.38,423.07 L339.74,423.08 L340.10,423.10 L340.45,423.11 L340.81,423.12 L341.16,423.14 L341.52,423.15 L341.88,423.16 L342.23,423.18 L342.59,423.19 L342.94,423.20 L343.30,423.22 L343.66,423.23 L344.01,423.24 L344.37,423.26 L344.72,423.27 L345.08,423.28 L345.44,423.29 L345.79,423.31 L346.15,423.32 L346.50,423.33 L346.86,423.35 L347.22,423.36 L347.57,423.37 L347.93,423.38 L348.28,423.40 L348.64,423.41 L349.00,423.42 L349.35,423.43 L349.71,423.45 L350.06,423.46 L350.42,423.47 L350.78,423.48 L351.13,423.50 L351.49,423.51 L351.84,423.52 L352.20,423.53 L352.56,423.54 L352.91,423.56 L353.27,423.57 L353.62,423.58 L353.98,423.59 L354.34,423.60 L354.69,423.61 L355.05,423.63 L355.40,423.64 L355.76,423.65 L356.12,423.66 L356.47,423.67 L356.83,423.68 L357.18,423.70 L357.54,423.71 L357.90,423.72 L358.25,423.73 L358.61,423.74 L358.96,423.75 L359.32,423.76 L359.68,423.78 L360.03,423.79 L360.39,423.80 L360.74,423.81 L361.10,423.82 L361.46,423.83 L361.81,423.84 L362.17,423.85 L362.52,423.86 L362.88,423.87 L363.24,423.88 L363.59,423.90 L363.95,423.91 L364.30,423.92 L364.66,423.93 L365.02,423.94 L365.37,423.95 L365.73,423.96 L366.08,423.97 L366.44,423.98 L366.80,423.99 L367.15,424.00 L367.51,424.01 L367.86,424.02 L368.22,424.03 L368.58,424.04 L368.93,424.05 L369.29,424.06 L369.64,424.07 L370.00,424.08 L370.36,424.09 L370.71,424.10 L371.07,424.11 L371.42,424.12 L371.78,424.13 L372.14,424.14 L372.49,424.15 L372.85,424.16 L373.20,424.17 L373.56,424.18 L373.92,424.19 L374.27,424.20 L374.63,424.21 L374.98,424.22 L375.34,424.23 L375.70,424.24 L376.05,424.25 L376.41,424.26 L376.76,424.27 L377.12,424.28 L377.48,424.29 L377.83,424.30 L378.19,424.31 L378.54,424.32 L378.90,424.33 L379.26,424.33 L379.61,424.34 L379.97,424.35 L380.32,424.36 L380.68,424.37 L381.04,424.38 L381.39,424.39 L381.75,424.40 L382.10,424.41 L382.46,424.42 L382.82,424.43 L383.17,424.43 L383.53,424.44 L383.88,424.45 L384.24,424.46 L384.60,424.47 L384.95,424.48 L385.31,424.49 L385.66,424.50 L386.02,424.50 L386.38,424.51 L386.73,424.52 L387.09,424.53 L387.44,424.54 L387.80,424.55 L388.16,424.56 L388.51,424.56 L388.87,424.57 L389.22,424.58 L389.58,424.59 L389.94,424.60 L390.29,424.61 L390.65,424.62 L391.00,424.62 L391.36,424.63 L391.72,424.64 L392.07,424.65 L392.43,424.66 L392.78,424.66 L393.14,424.67 L393.50,424.68 L393.85,424.69 L394.21,424.70 L394.56,424.71 L394.92,424.71 L395.28,424.72 L395.63,424.73 L395.99,424.74 L396.34,424.75 L396.70,424.75 L397.06,424.76 L397.41,424.77 L397.77,424.78 L398.12,424.78 L398.48,424.79 L398.84,424.80 L399.19,424.81 L399.55,424.82 L399.90,424.82 L400.26,424.83 L400.62,424.84 L400.97,424.85 L401.33,424.85 L401.68,424.86 L402.04,424.87 L402.40,424.88 L402.75,424.88 L403.11,424.89 L403.46,424.90 L403.82,424.91 L404.18,424.91 L404.53,424.92 L404.89,424.93 L405.24,424.94 L405.60,424.94 L405.96,424.95 L406.31,424.96 L406.67,424.96 L407.02,424.97 L407.38,424.98 L407.74,424.99 L408.09,424.99 L408.45,425.00 L408.80,425.01 L409.16,425.01 L409.52,425.02 L409.87,425.03 L410.23,425.04 L410.58,425.04 L410.94,425.05 L411.30,425.06 L411.65,425.06 L412.01,425.07 L412.36,425.08 L412.72,425.08 L413.08,425.09 L413.43,425.10 L413.79,425.10 L414.14,425.11 L414.50,425.12 L414.86,425.13 L415.21,425.13 L415.57,425.14 L415.92,425.15 L416.28,425.15 L416.64,425.16 L416.99,425.17 L417.35,425.17 L417.70,425.18 L418.06,425.18 L418.42,425.19 L418.77,425.20 L419.13,425.20 L419.48,425.21 L419.84,425.22 L420.20,425.22 L420.55,425.23 L420.91,425.24 L421.26,425.24 L421.62,425.25 L421.98,425.26 L422.33,425.26 L422.69,425.27 L423.04,425.27 L423.40,425.28 L423.76,425.29 L424.11,425.29 L424.47,425.30 L424.82,425.31 L425.18,425.31 L425.54,425.32 L425.89,425.32 L426.25,425.33 L426.60,425.34 L426.96,425.34 L427.32,425.35 L427.67,425.36 L428.03,425.36 L428.38,425.37 L428.74,425.37 L429.10,425.38 L429.45,425.39 L429.81,425.39 L430.16,425.40 L430.52,425.40 L430.88,425.41 L431.23,425.42 L431.59,425.42 L431.94,425.43 L432.30,425.43 L432.66,425.44 L433.01,425.44 L433.37,425.45 L433.72,425.46 L434.08,425.46 L434.44,425.47 L434.79,425.47 L435.15,425.48 L435.50,425.48 L435.86,425.49 L436.22,425.50 L436.57,425.50 L436.93,425.51 L437.28,425.51 L437.64,425.52 L438.00,425.52 L438.35,425.53 L438.71,425.54 L439.06,425.54 L439.42,425.55 L439.78,425.55 L440.13,425.56 L440.49,425.56 L440.84,425.57 L441.20,425.57 L441.56,425.58 L441.91,425.58 L442.27,425.59 L442.62,425.60 L442.98,425.60 L443.34,425.61 L443.69,425.61 L444.05,425.62 L444.40,425.62 L444.76,425.63 L445.12,425.63 L445.47,425.64 L445.83,425.64 L446.18,425.65 L446.54,425.65 L446.90,425.66 L447.25,425.66 L447.61,425.67 L447.96,425.67 L448.32,425.68 L448.68,425.68 L449.03,425.69 L449.39,425.70 L449.74,425.70 L450.10,425.71 L450.46,425.71 L450.81,425.72 L451.17,425.72 L451.52,425.73 L451.88,425.73 L452.24,425.74 L452.59,425.74 L452.95,425.75 L453.30,425.75 L453.66,425.76 L454.02,425.76 L454.37,425.77 L454.73,425.77 L455.08,425.78 L455.44,425.78 L455.80,425.78 L456.15,425.79 L456.51,425.79 L456.86,425.80 L457.22,425.80 L457.58,425.81 L457.93,425.81 L458.29,425.82 L458.64,425.82 L459.00,425.83 L459.36,425.83 L459.71,425.84 L460.07,425.84 L460.42,425.85 L460.78,425.85 L461.14,425.86 L461.49,425.86 L461.85,425.87 L462.20,425.87 L462.56,425.87 L462.92,425.88 L463.27,425.88 L463.63,425.89 L463.98,425.89 L464.34,425.90 L464.70,425.90 L465.05,425.91 L465.41,425.91 L465.76,425.92 L466.12,425.92 L466.48,425.93 L466.83,425.93 L467.19,425.93 L467.54,425.94 L467.90,425.94 L468.26,425.95 L468.61,425.95 L468.97,425.96 L469.32,425.96 L469.68,425.97 L470.04,425.97 L470.39,425.97 L470.75,425.98 L471.10,425.98 L471.46,425.99 L471.82,425.99 L472.17,426.00 L472.53,426.00 L472.88,426.00 L473.24,426.01 L473.60,426.01 L473.95,426.02 L474.31,426.02 L474.66,426.03 L475.02,426.03 L475.38,426.03 L475.73,426.04 L476.09,426.04 L476.44,426.05 L476.80,426.05 L477.16,426.05 L477.51,426.06 L477.87,426.06 L478.22,426.07 L478.58,426.07 L478.94,426.08 L479.29,426.08 L479.65,426.08 L480.00,426.09 L480.36,426.09 L480.72,426.10 L481.07,426.10 L481.43,426.10 L481.78,426.11 L482.14,426.11 L482.50,426.12 L482.85,426.12 L483.21,426.12 L483.56,426.13 L483.92,426.13 L484.28,426.14 L484.63,426.14 L484.99,426.14 L485.34,426.15 L485.70,426.15 L486.06,426.16 L486.41,426.16 L486.77,426.16 L487.12,426.17 L487.48,426.17 L487.84,426.17 L488.19,426.18 L488.55,426.18 L488.90,426.19 L489.26,426.19 L489.62,426.19 L489.97,426.20 L490.33,426.20 L490.68,426.21 L491.04,426.21 L491.40,426.21 L491.75,426.22 L492.11,426.22 L492.46,426.22 L492.82,426.23 L493.18,426.23 L493.53,426.24 L493.89,426.24 L494.24,426.24 L494.60,426.25 L494.96,426.25 L495.31,426.25 L495.67,426.26 L496.02,426.26 L496.38,426.26 L496.74,426.27 L497.09,426.27 L497.45,426.28 L497.80,426.28 L498.16,426.28 L498.52,426.29 L498.87,426.29 L499.23,426.29 L499.58,426.30 L499.94,426.30 L500.30,426.30 L500.65,426.31 L501.01,426.31 L501.36,426.31 L501.72,426.32 L502.08,426.32 L502.43,426.33 L502.79,426.33 L503.14,426.33 L503.50,426.34 L503.86,426.34 L504.21,426.34 L504.57,426.35 L504.92,426.35 L505.28,426.35 L505.64,426.36 L505.99,426.36 L506.35,426.36 L506.70,426.37 L507.06,426.37 L507.42,426.37 L507.77,426.38 L508.13,426.38 L508.48,426.38 L508.84,426.39 L509.20,426.39 L509.55,426.39 L509.91,426.40 L510.26,426.40 L510.62,426.40 L510.98,426.41 L511.33,426.41 L511.69,426.41 L512.04,426.42 L512.40,426.42 L512.76,426.42 L513.11,426.43 L513.47,426.43 L513.82,426.43 L514.18,426.44 L514.54,426.44 L514.89,426.44 L515.25,426.45 L515.60,426.45 L515.96,426.45 L516.32,426.46 L516.67,426.46 L517.03,426.46 L517.38,426.46 L517.74,426.47 L518.10,426.47 L518.45,426.47 L518.81,426.48 L519.16,426.48 L519.52,426.48 L519.88,426.49 L520.23,426.49 L520.59,426.49 L520.94,426.50 L521.30,426.50 L521.66,426.50 L522.01,426.51 L522.37,426.51 L522.72,426.51 L523.08,426.51 L523.44,426.52 L523.79,426.52 L524.15,426.52 L524.50,426.53 L524.86,426.53 L525.22,426.53 L525.57,426.54 L525.93,426.54 L526.28,426.54 L526.64,426.54 L527.00,426.55 L527.35,426.55 L527.71,426.55 L528.06,426.56 L528.42,426.56 L528.78,426.56 L529.13,426.57 L529.49,426.57 L529.84,426.57 L530.20,426.57 L530.56,426.58 L530.91,426.58 L531.27,426.58 L531.62,426.59 L531.98,426.59 L532.34,426.59 L532.69,426.59 L533.05,426.60 L533.40,426.60 L533.76,426.60 L534.12,426.61 L534.47,426.61 L534.83,426.61 L535.18,426.61 L535.54,426.62 L535.90,426.62 L536.25,426.62 L536.61,426.63 L536.96,426.63 L537.32,426.63 L537.68,426.63 L538.03,426.64 L538.39,426.64 L538.74,426.64 L539.10,426.64 L539.46,426.65 L539.81,426.65 L540.17,426.65 L540.52,426.66 L540.88,426.66 L541.24,426.66 L541.59,426.66 L541.95,426.67 L542.30,426.67 L542.66,426.67 L543.02,426.67 L543.37,426.68 L543.73,426.68 L544.08,426.68 L544.44,426.69 L544.80,426.69 L545.15,426.69 L545.51,426.69 L545.86,426.70 L546.22,426.70 L546.58,426.70 L546.93,426.70 L547.29,426.71 L547.64,426.71 L548.00,426.71 L548.36,426.71 L548.71,426.72 L549.07,426.72 L549.42,426.72 L549.78,426.72 L550.14,426.73 L550.49,426.73 L550.85,426.73 L551.20,426.73 L551.56,426.74 L551.92,426.74 L552.27,426.74 L552.63,426.74 L552.98,426.75 L553.34,426.75 L553.70,426.75 L554.05,426.75 L554.41,426.76 L554.76,426.76 L555.12,426.76 L555.48,426.76 L555.83,426.77 L556.19,426.77 L556.54,426.77 L556.90,426.77 L557.26,426.78 L557.61,426.78 L557.97,426.78 L558.32,426.78 L558.68,426.79 L559.04,426.79 L559.39,426.79 L559.75,426.79 L560.10,426.80 L560.46,426.80 L560.82,426.80 L561.17,426.80 L561.53,426.81 L561.88,426.81 L562.24,426.81 L562.60,426.81 L562.95,426.82 L563.31,426.82 L563.66,426.82 L564.02,426.82 L564.38,426.83 L564.73,426.83 L565.09,426.83 L565.44,426.83 L565.80,426.83 L566.16,426.84 L566.51,426.84 L566.87,426.84 L567.22,426.84 L567.58,426.85 L567.94,426.85 L568.29,426.85 L568.65,426.85 L569.00,426.86 L569.36,426.86 L569.72,426.86 L570.07,426.86 L570.43,426.86 L570.78,426.87 L571.14,426.87 L571.50,426.87 L571.85,426.87 L572.21,426.88 L572.56,426.88 L572.92,426.88 L573.28,426.88 L573.63,426.88 L573.99,426.89 L574.34,426.89 L574.70,426.89 L575.06,426.89 L575.41,426.90 L575.77,426.90 L576.12,426.90 L576.48,426.90 L576.84,426.90 L577.19,426.91 L577.55,426.91 L577.90,426.91 L578.26,426.91 L578.62,426.92 L578.97,426.92 L579.33,426.92 L579.68,426.92 L580.04,426.92 L580.40,426.93 L580.75,426.93 L581.11,426.93 L581.46,426.93 L581.82,426.94 L582.18,426.94 L582.53,426.94 L582.89,426.94 L583.24,426.94 L583.60,426.95 L583.96,426.95 L584.31,426.95 L584.67,426.95 L585.02,426.95 L585.38,426.96 L585.74,426.96 L586.09,426.96 L586.45,426.96 L586.80,426.96 L587.16,426.97 L587.52,426.97 L587.87,426.97 L588.23,426.97 L588.58,426.97 L588.94,426.98 L589.30,426.98 L589.65,426.98 L590.01,426.98 L590.36,426.98 L590.72,426.99 L591.08,426.99 L591.43,426.99 L591.79,426.99 L592.14,427.00 L592.50,427.00" fill="none" stroke="#333" stroke-width="1.1" stroke-dasharray="1.1 5.06"/>
<path d="M54.50 428.50h8.0M58.50 424.50v8.0M55.65 425.65l5.70 5.70M55.65 431.35l5.70 -5.70M56.28 428.34h8.0M60.28 424.34v8.0M57.43 425.49l5.70 5.70M57.43 431.19l5.70 -5.70M58.06 427.92h8.0M62.06 423.92v8.0M59.21 425.07l5.70 5.70M59.21 430.77l5.70 -5.70M59.84 427.17h8.0M63.84 423.17v8.0M60.99 424.32l5.70 5.70M60.99 430.02l5.70 -5.70M61.62 426.17h8.0M65.62 422.17v8.0M62.77 423.32l5.70 5.70M62.77 429.02l5.70 -5.70M63.40 424.84h8.0M67.40 420.84v8.0M64.55 421.99l5.70 5.70M64.55 427.69l5.70 -5.70M65.18 423.20h8.0M69.18 419.20v8.0M66.33 420.35l5.70 5.70M66.33 426.05l5.70 -5.70M66.96 420.81h8.0M70.96 416.81v8.0M68.11 417.96l5.70 5.70M68.11 423.66l5.70 -5.70M68.74 417.47h8.0M72.74 413.47v8.0M69.89 414.62l5.70 5.70M69.89 420.32l5.70 -5.70M70.52 414.18h8.0M74.52 410.18v8.0M71.67 411.33l5.70 5.70M71.67 417.03l5.70 -5.70M72.30 409.40h8.0M76.30 405.40v8.0M73.45 406.55l5.70 5.70M73.45 412.25l5.70 -5.70M74.08 404.10h8.0M78.08 400.10v8.0M75.23 401.25l5.70 5.70M75.23 406.95l5.70 -5.70M75.86 396.67h8.0M79.86 392.67v8.0M77.01 393.82l5.70 5.70M77.01 399.52l5.70 -5.70M77.64 387.44h8.0M81.64 383.44v8.0M78.79 384.59l5.70 5.70M78.79 390.29l5.70 -5.70M79.42 375.98h8.0M83.42 371.98v8.0M80.57 373.13l5.70 5.70M80.57 378.83l5.70 -5.70M81.20 356.36h8.0M85.20 352.36v8.0M82.35 353.51l5.70 5.70M82.35 359.21l5.70 -5.70M82.98 332.44h8.0M86.98 328.44v8.0M84.13 329.59l5.70 5.70M84.13 335.29l5.70 -5.70M84.76 303.57h8.0M88.76 299.57v8.0M85.91 300.72l5.70 5.70M85.91 306.42l5.70 -5.70M86.54 268.25h8.0M90.54 264.25v8.0M87.69 265.40l5.70 5.70M87.69 271.10l5.70 -5.70M88.32 226.91h8.0M92.32 222.91v8.0M89.47 224.06l5.70 5.70M89.47 229.76l5.70 -5.70M90.10 182.63h8.0M94.10 178.63v8.0M91.25 179.78l5.70 5.70M91.25 185.48l5.70 -5.70M91.88 141.43h8.0M95.88 137.43v8.0M93.03 138.58l5.70 5.70M93.03 144.28l5.70 -5.70M93.66 109.20h8.0M97.66 105.20v8.0M94.81 106.35l5.70 5.70M94.81 112.05l5.70 -5.70M95.44 88.98h8.0M99.44 84.98v8.0M96.59 86.13l5.70 5.70M96.59 91.83l5.70 -5.70M97.22 82.64h8.0M101.22 78.64v8.0M98.37 79.79l5.70 5.70M98.37 85.49l5.70 -5.70M99.00 87.81h8.0M103.00 83.81v8.0M100.15 84.96l5.70 5.70M100.15 90.66l5.70 -5.70M100.78 100.06h8.0M104.78 96.06v8.0M101.93 97.21l5.70 5.70M101.93 102.91l5.70 -5.70M102.56 115.76h8.0M106.56 111.76v8.0M103.71 112.91l5.70 5.70M103.71 118.61l5.70 -5.70M104.34 133.43h8.0M108.34 129.43v8.0M105.49 130.58l5.70 5.70M105.49 136.28l5.70 -5.70M106.12 151.28h8.0M110.12 147.28v8.0M107.27 148.43l5.70 5.70M107.27 154.13l5.70 -5.70M107.90 168.22h8.0M111.90 164.22v8.0M109.05 165.37l5.70 5.70M109.05 171.07l5.70 -5.70M109.68 184.54h8.0M113.68 180.54v8.0M110.83 181.69l5.70 5.70M110.83 187.39l5.70 -5.70M111.46 199.53h8.0M115.46 195.53v8.0M112.61 196.68l5.70 5.70M112.61 202.38l5.70 -5.70M113.24 213.20h8.0M117.24 209.20v8.0M114.39 210.35l5.70 5.70M114.39 216.05l5.70 -5.70M115.02 225.68h8.0M119.02 221.68v8.0M116.17 222.83l5.70 5.70M116.17 228.53l5.70 -5.70M116.80 237.10h8.0M120.80 233.10v8.0M117.95 234.25l5.70 5.70M117.95 239.95l5.70 -5.70M118.58 247.59h8.0M122.58 243.59v8.0M119.73 244.74l5.70 5.70M119.73 250.44l5.70 -5.70M120.36 257.23h8.0M124.36 253.23v8.0M121.51 254.38l5.70 5.70M121.51 260.08l5.70 -5.70M122.14 266.13h8.0M126.14 262.13v8.0M123.29 263.28l5.70 5.70M123.29 268.98l5.70 -5.70M123.92 274.35h8.0M127.92 270.35v8.0M125.07 271.50l5.70 5.70M125.07 277.20l5.70 -5.70M125.70 281.96h8.0M129.70 277.96v8.0M126.85 279.11l5.70 5.70M126.85 284.81l5.70 -5.70M127.48 289.02h8.0M131.48 285.02v8.0M128.63 286.17l5.70 5.70M128.63 291.87l5.70 -5.70M129.26 295.58h8.0M133.26 291.58v8.0M130.41 292.73l5.70 5.70M130.41 298.43l5.70 -5.70M131.04 301.69h8.0M135.04 297.69v8.0M132.19 298.84l5.70 5.70M132.19 304.54l5.70 -5.70M132.82 307.39h8.0M136.82 303.39v8.0M133.97 304.54l5.70 5.70M133.97 310.24l5.70 -5.70M134.60 312.72h8.0M138.60 308.72v8.0M135.75 309.87l5.70 5.70M135.75 315.57l5.70 -5.70M136.38 317.70h8.0M140.38 313.70v8.0M137.53 314.85l5.70 5.70M137.53 320.55l5.70 -5.70M138.16 322.36h8.0M142.16 318.36v8.0M139.31 319.51l5.70 5.70M139.31 325.21l5.70 -5.70M139.94 326.74h8.0M143.94 322.74v8.0M141.09 323.89l5.70 5.70M141.09 329.59l5.70 -5.70M141.72 330.85h8.0M145.72 326.85v8.0M142.87 328.00l5.70 5.70M142.87 333.70l5.70 -5.70M143.50 334.71h8.0M147.50 330.71v8.0M144.65 331.86l5.70 5.70M144.65 337.56l5.70 -5.70M145.28 338.36h8.0M149.28 334.36v8.0M146.43 335.51l5.70 5.70M146.43 341.21l5.70 -5.70M147.06 341.79h8.0M151.06 337.79v8.0M148.21 338.94l5.70 5.70M148.21 344.64l5.70 -5.70M148.84 345.03h8.0M152.84 341.03v8.0M149.99 342.18l5.70 5.70M149.99 347.88l5.70 -5.70M150.62 348.09h8.0M154.62 344.09v8.0M151.77 345.24l5.70 5.70M151.77 350.94l5.70 -5.70M152.40 350.99h8.0M156.40 346.99v8.0M153.55 348.14l5.70 5.70M153.55 353.84l5.70 -5.70M154.18 353.73h8.0M158.18 349.73v8.0M155.33 350.88l5.70 5.70M155.33 356.58l5.70 -5.70M155.96 356.34h8.0M159.96 352.34v8.0M157.11 353.49l5.70 5.70M157.11 359.19l5.70 -5.70M157.74 358.80h8.0M161.74 354.80v8.0M158.89 355.95l5.70 5.70M158.89 361.65l5.70 -5.70M159.52 361.14h8.0M163.52 357.14v8.0M160.67 358.29l5.70 5.70M160.67 363.99l5.70 -5.70M161.30 363.37h8.0M165.30 359.37v8.0M162.45 360.52l5.70 5.70M162.45 366.22l5.70 -5.70M163.08 365.49h8.0M167.08 361.49v8.0M164.23 362.64l5.70 5.70M164.23 368.34l5.70 -5.70M164.86 367.51h8.0M168.86 363.51v8.0M166.01 364.66l5.70 5.70M166.01 370.36l5.70 -5.70M166.64 369.43h8.0M170.64 365.43v8.0M167.79 366.58l5.70 5.70M167.79 372.28l5.70 -5.70M168.42 371.26h8.0M172.42 367.26v8.0M169.57 368.41l5.70 5.70M169.57 374.11l5.70 -5.70M170.20 373.01h8.0M174.20 369.01v8.0M171.35 370.16l5.70 5.70M171.35 375.86l5.70 -5.70M171.98 374.67h8.0M175.98 370.67v8.0M173.13 371.82l5.70 5.70M173.13 377.52l5.70 -5.70M173.76 376.27h8.0M177.76 372.27v8.0M174.91 373.42l5.70 5.70M174.91 379.12l5.70 -5.70M175.54 377.79h8.0M179.54 373.79v8.0M176.69 374.94l5.70 5.70M176.69 380.64l5.70 -5.70M177.32 379.25h8.0M181.32 375.25v8.0M178.47 376.40l5.70 5.70M178.47 382.10l5.70 -5.70M179.10 380.65h8.0M183.10 376.65v8.0M180.25 377.80l5.70 5.70M180.25 383.50l5.70 -5.70M180.88 381.99h8.0M184.88 377.99v8.0M182.03 379.14l5.70 5.70M182.03 384.84l5.70 -5.70M182.66 383.27h8.0M186.66 379.27v8.0M183.81 380.42l5.70 5.70M183.81 386.12l5.70 -5.70M184.44 384.50h8.0M188.44 380.50v8.0M185.59 381.65l5.70 5.70M185.59 387.35l5.70 -5.70M186.22 385.68h8.0M190.22 381.68v8.0M187.37 382.83l5.70 5.70M187.37 388.53l5.70 -5.70M188.00 386.82h8.0M192.00 382.82v8.0M189.15 383.97l5.70 5.70M189.15 389.67l5.70 -5.70M189.78 387.91h8.0M193.78 383.91v8.0M190.93 385.06l5.70 5.70M190.93 390.76l5.70 -5.70M191.56 388.95h8.0M195.56 384.95v8.0M192.71 386.10l5.70 5.70M192.71 391.80l5.70 -5.70M193.34 389.96h8.0M197.34 385.96v8.0M194.49 387.11l5.70 5.70M194.49 392.81l5.70 -5.70M195.12 390.93h8.0M199.12 386.93v8.0M196.27 388.08l5.70 5.70M196.27 393.78l5.70 -5.70M196.90 391.87h8.0M200.90 387.87v8.0M198.05 389.02l5.70 5.70M198.05 394.72l5.70 -5.70M198.68 392.76h8.0M202.68 388.76v8.0M199.83 389.91l5.70 5.70M199.83 395.61l5.70 -5.70M200.46 393.63h8.0M204.46 389.63v8.0M201.61 390.78l5.70 5.70M201.61 396.48l5.70 -5.70M202.24 394.47h8.0M206.24 390.47v8.0M203.39 391.62l5.70 5.70M203.39 397.32l5.70 -5.70M204.02 395.27h8.0M208.02 391.27v8.0M205.17 392.42l5.70 5.70M205.17 398.12l5.70 -5.70M205.80 396.05h8.0M209.80 392.05v8.0M206.95 393.20l5.70 5.70M206.95 398.90l5.70 -5.70M207.58 396.80h8.0M211.58 392.80v8.0M208.73 393.95l5.70 5.70M208.73 399.65l5.70 -5.70M209.36 397.52h8.0M213.36 393.52v8.0M210.51 394.67l5.70 5.70M210.51 400.37l5.70 -5.70M211.14 398.22h8.0M215.14 394.22v8.0M212.29 395.37l5.70 5.70M212.29 401.07l5.70 -5.70M212.92 398.90h8.0M216.92 394.90v8.0M214.07 396.05l5.70 5.70M214.07 401.75l5.70 -5.70M214.70 399.55h8.0M218.70 395.55v8.0M215.85 396.70l5.70 5.70M215.85 402.40l5.70 -5.70M216.48 400.19h8.0M220.48 396.19v8.0M217.63 397.34l5.70 5.70M217.63 403.04l5.70 -5.70M218.26 400.80h8.0M222.26 396.80v8.0M219.41 397.95l5.70 5.70M219.41 403.65l5.70 -5.70M220.04 401.39h8.0M224.04 397.39v8.0M221.19 398.54l5.70 5.70M221.19 404.24l5.70 -5.70M221.82 401.96h8.0M225.82 397.96v8.0M222.97 399.11l5.70 5.70M222.97 404.81l5.70 -5.70M223.60 402.52h8.0M227.60 398.52v8.0M224.75 399.67l5.70 5.70M224.75 405.37l5.70 -5.70M225.38 403.06h8.0M229.38 399.06v8.0M226.53 400.21l5.70 5.70M226.53 405.91l5.70 -5.70M227.16 403.58h8.0M231.16 399.58v8.0M228.31 400.73l5.70 5.70M228.31 406.43l5.70 -5.70M228.94 404.09h8.0M232.94 400.09v8.0M230.09 401.24l5.70 5.70M230.09 406.94l5.70 -5.70M230.72 404.58h8.0M234.72 400.58v8.0M231.87 401.73l5.70 5.70M231.87 407.43l5.70 -5.70M232.50 405.05h8.0M236.50 401.05v8.0M233.65 402.20l5.70 5.70M233.65 407.90l5.70 -5.70M234.28 405.52h8.0M238.28 401.52v8.0M235.43 402.67l5.70 5.70M235.43 408.37l5.70 -5.70M236.06 405.96h8.0M240.06 401.96v8.0M237.21 403.11l5.70 5.70M237.21 408.81l5.70 -5.70M237.84 406.40h8.0M241.84 402.40v8.0M238.99 403.55l5.70 5.70M238.99 409.25l5.70 -5.70M239.62 406.82h8.0M243.62 402.82v8.0M240.77 403.97l5.70 5.70M240.77 409.67l5.70 -5.70M241.40 407.23h8.0M245.40 403.23v8.0M242.55 404.38l5.70 5.70M242.55 410.08l5.70 -5.70M243.18 407.63h8.0M247.18 403.63v8.0M244.33 404.78l5.70 5.70M244.33 410.48l5.70 -5.70M244.96 408.02h8.0M248.96 404.02v8.0M246.11 405.17l5.70 5.70M246.11 410.87l5.70 -5.70M246.74 408.40h8.0M250.74 404.40v8.0M247.89 405.55l5.70 5.70M247.89 411.25l5.70 -5.70M248.52 408.77h8.0M252.52 404.77v8.0M249.67 405.92l5.70 5.70M249.67 411.62l5.70 -5.70M250.30 409.12h8.0M254.30 405.12v8.0M251.45 406.27l5.70 5.70M251.45 411.97l5.70 -5.70M252.08 409.47h8.0M256.08 405.47v8.0M253.23 406.62l5.70 5.70M253.23 412.32l5.70 -5.70M253.86 409.81h8.0M257.86 405.81v8.0M255.01 406.96l5.70 5.70M255.01 412.66l5.70 -5.70M255.64 410.14h8.0M259.64 406.14v8.0M256.79 407.29l5.70 5.70M256.79 412.99l5.70 -5.70M257.42 410.46h8.0M261.42 406.46v8.0M258.57 407.61l5.70 5.70M258.57 413.31l5.70 -5.70M259.20 410.77h8.0M263.20 406.77v8.0M260.35 407.92l5.70 5.70M260.35 413.62l5.70 -5.70M260.98 411.08h8.0M264.98 407.08v8.0M262.13 408.23l5.70 5.70M262.13 413.93l5.70 -5.70M262.76 411.37h8.0M266.76 407.37v8.0M263.91 408.52l5.70 5.70M263.91 414.22l5.70 -5.70M264.54 411.66h8.0M268.54 407.66v8.0M265.69 408.81l5.70 5.70M265.69 414.51l5.70 -5.70M266.32 411.94h8.0M270.32 407.94v8.0M267.47 409.09l5.70 5.70M267.47 414.79l5.70 -5.70M268.10 412.22h8.0M272.10 408.22v8.0M269.25 409.37l5.70 5.70M269.25 415.07l5.70 -5.70M269.88 412.49h8.0M273.88 408.49v8.0M271.03 409.64l5.70 5.70M271.03 415.34l5.70 -5.70M271.66 412.75h8.0M275.66 408.75v8.0M272.81 409.90l5.70 5.70M272.81 415.60l5.70 -5.70M273.44 413.00h8.0M277.44 409.00v8.0M274.59 410.15l5.70 5.70M274.59 415.85l5.70 -5.70M275.22 413.25h8.0M279.22 409.25v8.0M276.37 410.40l5.70 5.70M276.37 416.10l5.70 -5.70M277.00 413.49h8.0M281.00 409.49v8.0M278.15 410.64l5.70 5.70M278.15 416.34l5.70 -5.70M278.78 413.73h8.0M282.78 409.73v8.0M279.93 410.88l5.70 5.70M279.93 416.58l5.70 -5.70M280.56 413.96h8.0M284.56 409.96v8.0M281.71 411.11l5.70 5.70M281.71 416.81l5.70 -5.70M282.34 414.19h8.0M286.34 410.19v8.0M283.49 411.34l5.70 5.70M283.49 417.04l5.70 -5.70M284.12 414.41h8.0M288.12 410.41v8.0M285.27 411.56l5.70 5.70M285.27 417.26l5.70 -5.70M285.90 414.63h8.0M289.90 410.63v8.0M287.05 411.78l5.70 5.70M287.05 417.48l5.70 -5.70M287.68 414.84h8.0M291.68 410.84v8.0M288.83 411.99l5.70 5.70M288.83 417.69l5.70 -5.70M289.46 415.04h8.0M293.46 411.04v8.0M290.61 412.19l5.70 5.70M290.61 417.89l5.70 -5.70M291.24 415.25h8.0M295.24 411.25v8.0M292.39 412.40l5.70 5.70M292.39 418.10l5.70 -5.70M293.02 415.44h8.0M297.02 411.44v8.0M294.17 412.59l5.70 5.70M294.17 418.29l5.70 -5.70M294.80 415.64h8.0M298.80 411.64v8.0M295.95 412.79l5.70 5.70M295.95 418.49l5.70 -5.70M296.58 415.82h8.0M300.58 411.82v8.0M297.73 412.97l5.70 5.70M297.73 418.67l5.70 -5.70M298.36 416.01h8.0M302.36 412.01v8.0M299.51 413.16l5.70 5.70M299.51 418.86l5.70 -5.70M300.14 416.19h8.0M304.14 412.19v8.0M301.29 413.34l5.70 5.70M301.29 419.04l5.70 -5.70M301.92 416.36h8.0M305.92 412.36v8.0M303.07 413.51l5.70 5.70M303.07 419.21l5.70 -5.70M303.70 416.54h8.0M307.70 412.54v8.0M304.85 413.69l5.70 5.70M304.85 419.39l5.70 -5.70M305.48 416.71h8.0M309.48 412.71v8.0M306.63 413.86l5.70 5.70M306.63 419.56l5.70 -5.70M307.26 416.87h8.0M311.26 412.87v8.0M308.41 414.02l5.70 5.70M308.41 419.72l5.70 -5.70M309.04 417.03h8.0M313.04 413.03v8.0M310.19 414.18l5.70 5.70M310.19 419.88l5.70 -5.70M310.82 417.19h8.0M314.82 413.19v8.0M311.97 414.34l5.70 5.70M311.97 420.04l5.70 -5.70M312.60 417.35h8.0M316.60 413.35v8.0M313.75 414.50l5.70 5.70M313.75 420.20l5.70 -5.70M314.38 417.50h8.0M318.38 413.50v8.0M315.53 414.65l5.70 5.70M315.53 420.35l5.70 -5.70M316.16 417.65h8.0M320.16 413.65v8.0M317.31 414.80l5.70 5.70M317.31 420.50l5.70 -5.70M317.94 417.80h8.0M321.94 413.80v8.0M319.09 414.95l5.70 5.70M319.09 420.65l5.70 -5.70M319.72 417.94h8.0M323.72 413.94v8.0M320.87 415.09l5.70 5.70M320.87 420.79l5.70 -5.70M321.50 418.08h8.0M325.50 414.08v8.0M322.65 415.23l5.70 5.70M322.65 420.93l5.70 -5.70M323.28 418.22h8.0M327.28 414.22v8.0M324.43 415.37l5.70 5.70M324.43 421.07l5.70 -5.70M325.06 418.35h8.0M329.06 414.35v8.0M326.21 415.50l5.70 5.70M326.21 421.20l5.70 -5.70M326.84 418.48h8.0M330.84 414.48v8.0M327.99 415.63l5.70 5.70M327.99 421.33l5.70 -5.70M328.62 418.61h8.0M332.62 414.61v8.0M329.77 415.76l5.70 5.70M329.77 421.46l5.70 -5.70M330.40 418.74h8.0M334.40 414.74v8.0M331.55 415.89l5.70 5.70M331.55 421.59l5.70 -5.70M332.18 418.87h8.0M336.18 414.87v8.0M333.33 416.02l5.70 5.70M333.33 421.72l5.70 -5.70M333.96 418.99h8.0M337.96 414.99v8.0M335.11 416.14l5.70 5.70M335.11 421.84l5.70 -5.70M335.74 419.11h8.0M339.74 415.11v8.0M336.89 416.26l5.70 5.70M336.89 421.96l5.70 -5.70M337.52 419.23h8.0M341.52 415.23v8.0M338.67 416.38l5.70 5.70M338.67 422.08l5.70 -5.70M339.30 419.34h8.0M343.30 415.34v8.0M340.45 416.49l5.70 5.70M340.45 422.19l5.70 -5.70M341.08 419.45h8.0M345.08 415.45v8.0M342.23 416.60l5.70 5.70M342.23 422.30l5.70 -5.70M342.86 419.57h8.0M346.86 415.57v8.0M344.01 416.72l5.70 5.70M344.01 422.42l5.70 -5.70M344.64 419.68h8.0M348.64 415.68v8.0M345.79 416.83l5.70 5.70M345.79 422.53l5.70 -5.70M346.42 419.78h8.0M350.42 415.78v8.0M347.57 416.93l5.70 5.70M347.57 422.63l5.70 -5.70M348.20 419.89h8.0M352.20 415.89v8.0M349.35 417.04l5.70 5.70M349.35 422.74l5.70 -5.70M349.98 419.99h8.0M353.98 415.99v8.0M351.13 417.14l5.70 5.70M351.13 422.84l5.70 -5.70M351.76 420.09h8.0M355.76 416.09v8.0M352.91 417.24l5.70 5.70M352.91 422.94l5.70 -5.70M353.54 420.19h8.0M357.54 416.19v8.0M354.69 417.34l5.70 5.70M354.69 423.04l5.70 -5.70M355.32 420.29h8.0M359.32 416.29v8.0M356.47 417.44l5.70 5.70M356.47 423.14l5.70 -5.70M357.10 420.39h8.0M361.10 416.39v8.0M358.25 417.54l5.70 5.70M358.25 423.24l5.70 -5.70M358.88 420.48h8.0M362.88 416.48v8.0M360.03 417.63l5.70 5.70M360.03 423.33l5.70 -5.70M360.66 420.57h8.0M364.66 416.57v8.0M361.81 417.72l5.70 5.70M361.81 423.42l5.70 -5.70M362.44 420.67h8.0M366.44 416.67v8.0M363.59 417.82l5.70 5.70M363.59 423.52l5.70 -5.70M364.22 420.76h8.0M368.22 416.76v8.0M365.37 417.91l5.70 5.70M365.37 423.61l5.70 -5.70M366.00 420.84h8.0M370.00 416.84v8.0M367.15 417.99l5.70 5.70M367.15 423.69l5.70 -5.70M367.78 420.93h8.0M371.78 416.93v8.0M368.93 418.08l5.70 5.70M368.93 423.78l5.70 -5.70M369.56 421.02h8.0M373.56 417.02v8.0M370.71 418.17l5.70 5.70M370.71 423.87l5.70 -5.70M371.34 421.10h8.0M375.34 417.10v8.0M372.49 418.25l5.70 5.70M372.49 423.95l5.70 -5.70M373.12 421.18h8.0M377.12 417.18v8.0M374.27 418.33l5.70 5.70M374.27 424.03l5.70 -5.70M374.90 421.26h8.0M378.90 417.26v8.0M376.05 418.41l5.70 5.70M376.05 424.11l5.70 -5.70M376.68 421.34h8.0M380.68 417.34v8.0M377.83 418.49l5.70 5.70M377.83 424.19l5.70 -5.70M378.46 421.42h8.0M382.46 417.42v8.0M379.61 418.57l5.70 5.70M379.61 424.27l5.70 -5.70M380.24 421.50h8.0M384.24 417.50v8.0M381.39 418.65l5.70 5.70M381.39 424.35l5.70 -5.70M382.02 421.57h8.0M386.02 417.57v8.0M383.17 418.72l5.70 5.70M383.17 424.42l5.70 -5.70M383.80 421.65h8.0M387.80 417.65v8.0M384.95 418.80l5.70 5.70M384.95 424.50l5.70 -5.70M385.58 421.72h8.0M389.58 417.72v8.0M386.73 418.87l5.70 5.70M386.73 424.57l5.70 -5.70M387.36 421.80h8.0M391.36 417.80v8.0M388.51 418.95l5.70 5.70M388.51 424.65l5.70 -5.70M389.14 421.87h8.0M393.14 417.87v8.0M390.29 419.02l5.70 5.70M390.29 424.72l5.70 -5.70M390.92 421.94h8.0M394.92 417.94v8.0M392.07 419.09l5.70 5.70M392.07 424.79l5.70 -5.70M392.70 422.01h8.0M396.70 418.01v8.0M393.85 419.16l5.70 5.70M393.85 424.86l5.70 -5.70M394.48 422.07h8.0M398.48 418.07v8.0M395.63 419.22l5.70 5.70M395.63 424.92l5.70 -5.70M396.26 422.14h8.0M400.26 418.14v8.0M397.41 419.29l5.70 5.70M397.41 424.99l5.70 -5.70M398.04 422.21h8.0M402.04 418.21v8.0M399.19 419.36l5.70 5.70M399.19 425.06l5.70 -5.70M399.82 422.27h8.0M403.82 418.27v8.0M400.97 419.42l5.70 5.70M400.97 425.12l5.70 -5.70M401.60 422.33h8.0M405.60 418.33v8.0M402.75 419.48l5.70 5.70M402.75 425.18l5.70 -5.70M403.38 422.40h8.0M407.38 418.40v8.0M404.53 419.55l5.70 5.70M404.53 425.25l5.70 -5.70M405.16 422.46h8.0M409.16 418.46v8.0M406.31 419.61l5.70 5.70M406.31 425.31l5.70 -5.70M406.94 422.52h8.0M410.94 418.52v8.0M408.09 419.67l5.70 5.70M408.09 425.37l5.70 -5.70M408.72 422.58h8.0M412.72 418.58v8.0M409.87 419.73l5.70 5.70M409.87 425.43l5.70 -5.70M410.50 422.64h8.0M414.50 418.64v8.0M411.65 419.79l5.70 5.70M411.65 425.49l5.70 -5.70M412.28 422.70h8.0M416.28 418.70v8.0M413.43 419.85l5.70 5.70M413.43 425.55l5.70 -5.70M414.06 422.75h8.0M418.06 418.75v8.0M415.21 419.90l5.70 5.70M415.21 425.60l5.70 -5.70M415.84 422.81h8.0M419.84 418.81v8.0M416.99 419.96l5.70 5.70M416.99 425.66l5.70 -5.70M417.62 422.87h8.0M421.62 418.87v8.0M418.77 420.02l5.70 5.70M418.77 425.72l5.70 -5.70M419.40 422.92h8.0M423.40 418.92v8.0M420.55 420.07l5.70 5.70M420.55 425.77l5.70 -5.70M421.18 422.97h8.0M425.18 418.97v8.0M422.33 420.12l5.70 5.70M422.33 425.82l5.70 -5.70M422.96 423.03h8.0M426.96 419.03v8.0M424.11 420.18l5.70 5.70M424.11 425.88l5.70 -5.70M424.74 423.08h8.0M428.74 419.08v8.0M425.89 420.23l5.70 5.70M425.89 425.93l5.70 -5.70M426.52 423.13h8.0M430.52 419.13v8.0M427.67 420.28l5.70 5.70M427.67 425.98l5.70 -5.70M428.30 423.18h8.0M432.30 419.18v8.0M429.45 420.33l5.70 5.70M429.45 426.03l5.70 -5.70M430.08 423.23h8.0M434.08 419.23v8.0M431.23 420.38l5.70 5.70M431.23 426.08l5.70 -5.70M431.86 423.28h8.0M435.86 419.28v8.0M433.01 420.43l5.70 5.70M433.01 426.13l5.70 -5.70M433.64 423.33h8.0M437.64 419.33v8.0M434.79 420.48l5.70 5.70M434.79 426.18l5.70 -5.70M435.42 423.38h8.0M439.42 419.38v8.0M436.57 420.53l5.70 5.70M436.57 426.23l5.70 -5.70M437.20 423.43h8.0M441.20 419.43v8.0M438.35 420.58l5.70 5.70M438.35 426.28l5.70 -5.70M438.98 423.47h8.0M442.98 419.47v8.0M440.13 420.62l5.70 5.70M440.13 426.32l5.70 -5.70M440.76 423.52h8.0M444.76 419.52v8.0M441.91 420.67l5.70 5.70M441.91 426.37l5.70 -5.70M442.54 423.57h8.0M446.54 419.57v8.0M443.69 420.72l5.70 5.70M443.69 426.42l5.70 -5.70M444.32 423.61h8.0M448.32 419.61v8.0M445.47 420.76l5.70 5.70M445.47 426.46l5.70 -5.70M446.10 423.66h8.0M450.10 419.66v8.0M447.25 420.81l5.70 5.70M447.25 426.51l5.70 -5.70M447.88 423.70h8.0M451.88 419.70v8.0M449.03 420.85l5.70 5.70M449.03 426.55l5.70 -5.70M449.66 423.74h8.0M453.66 419.74v8.0M450.81 420.89l5.70 5.70M450.81 426.59l5.70 -5.70M451.44 423.79h8.0M455.44 419.79v8.0M452.59 420.94l5.70 5.70M452.59 426.64l5.70 -5.70M453.22 423.83h8.0M457.22 419.83v8.0M454.37 420.98l5.70 5.70M454.37 426.68l5.70 -5.70M455.00 423.87h8.0M459.00 419.87v8.0M456.15 421.02l5.70 5.70M456.15 426.72l5.70 -5.70M456.78 423.91h8.0M460.78 419.91v8.0M457.93 421.06l5.70 5.70M457.93 426.76l5.70 -5.70M458.56 423.95h8.0M462.56 419.95v8.0M459.71 421.10l5.70 5.70M459.71 426.80l5.70 -5.70M460.34 423.99h8.0M464.34 419.99v8.0M461.49 421.14l5.70 5.70M461.49 426.84l5.70 -5.70M462.12 424.03h8.0M466.12 420.03v8.0M463.27 421.18l5.70 5.70M463.27 426.88l5.70 -5.70M463.90 424.07h8.0M467.90 420.07v8.0M465.05 421.22l5.70 5.70M465.05 426.92l5.70 -5.70M465.68 424.11h8.0M469.68 420.11v8.0M466.83 421.26l5.70 5.70M466.83 426.96l5.70 -5.70M467.46 424.14h8.0M471.46 420.14v8.0M468.61 421.29l5.70 5.70M468.61 426.99l5.70 -5.70M469.24 424.18h8.0M473.24 420.18v8.0M470.39 421.33l5.70 5.70M470.39 427.03l5.70 -5.70M471.02 424.22h8.0M475.02 420.22v8.0M472.17 421.37l5.70 5.70M472.17 427.07l5.70 -5.70M472.80 424.25h8.0M476.80 420.25v8.0M473.95 421.40l5.70 5.70M473.95 427.10l5.70 -5.70M474.58 424.29h8.0M478.58 420.29v8.0M475.73 421.44l5.70 5.70M475.73 427.14l5.70 -5.70M476.36 424.33h8.0M480.36 420.33v8.0M477.51 421.48l5.70 5.70M477.51 427.18l5.70 -5.70M478.14 424.36h8.0M482.14 420.36v8.0M479.29 421.51l5.70 5.70M479.29 427.21l5.70 -5.70M479.92 424.40h8.0M483.92 420.40v8.0M481.07 421.55l5.70 5.70M481.07 427.25l5.70 -5.70M481.70 424.43h8.0M485.70 420.43v8.0M482.85 421.58l5.70 5.70M482.85 427.28l5.70 -5.70M483.48 424.46h8.0M487.48 420.46v8.0M484.63 421.61l5.70 5.70M484.63 427.31l5.70 -5.70M485.26 424.50h8.0M489.26 420.50v8.0M486.41 421.65l5.70 5.70M486.41 427.35l5.70 -5.70M487.04 424.53h8.0M491.04 420.53v8.0M488.19 421.68l5.70 5.70M488.19 427.38l5.70 -5.70M488.82 424.56h8.0M492.82 420.56v8.0M489.97 421.71l5.70 5.70M489.97 427.41l5.70 -5.70M490.60 424.59h8.0M494.60 420.59v8.0M491.75 421.74l5.70 5.70M491.75 427.44l5.70 -5.70M492.38 424.63h8.0M496.38 420.63v8.0M493.53 421.78l5.70 5.70M493.53 427.48l5.70 -5.70M494.16 424.66h8.0M498.16 420.66v8.0M495.31 421.81l5.70 5.70M495.31 427.51l5.70 -5.70M495.94 424.69h8.0M499.94 420.69v8.0M497.09 421.84l5.70 5.70M497.09 427.54l5.70 -5.70M497.72 424.72h8.0M501.72 420.72v8.0M498.87 421.87l5.70 5.70M498.87 427.57l5.70 -5.70M499.50 424.75h8.0M503.50 420.75v8.0M500.65 421.90l5.70 5.70M500.65 427.60l5.70 -5.70M501.28 424.78h8.0M505.28 420.78v8.0M502.43 421.93l5.70 5.70M502.43 427.63l5.70 -5.70M503.06 424.81h8.0M507.06 420.81v8.0M504.21 421.96l5.70 5.70M504.21 427.66l5.70 -5.70M504.84 424.84h8.0M508.84 420.84v8.0M505.99 421.99l5.70 5.70M505.99 427.69l5.70 -5.70M506.62 424.87h8.0M510.62 420.87v8.0M507.77 422.02l5.70 5.70M507.77 427.72l5.70 -5.70M508.40 424.89h8.0M512.40 420.89v8.0M509.55 422.04l5.70 5.70M509.55 427.74l5.70 -5.70M510.18 424.92h8.0M514.18 420.92v8.0M511.33 422.07l5.70 5.70M511.33 427.77l5.70 -5.70M511.96 424.95h8.0M515.96 420.95v8.0M513.11 422.10l5.70 5.70M513.11 427.80l5.70 -5.70M513.74 424.98h8.0M517.74 420.98v8.0M514.89 422.13l5.70 5.70M514.89 427.83l5.70 -5.70M515.52 425.00h8.0M519.52 421.00v8.0M516.67 422.15l5.70 5.70M516.67 427.85l5.70 -5.70M517.30 425.03h8.0M521.30 421.03v8.0M518.45 422.18l5.70 5.70M518.45 427.88l5.70 -5.70M519.08 425.06h8.0M523.08 421.06v8.0M520.23 422.21l5.70 5.70M520.23 427.91l5.70 -5.70M520.86 425.08h8.0M524.86 421.08v8.0M522.01 422.23l5.70 5.70M522.01 427.93l5.70 -5.70M522.64 425.11h8.0M526.64 421.11v8.0M523.79 422.26l5.70 5.70M523.79 427.96l5.70 -5.70M524.42 425.14h8.0M528.42 421.14v8.0M525.57 422.29l5.70 5.70M525.57 427.99l5.70 -5.70M526.20 425.16h8.0M530.20 421.16v8.0M527.35 422.31l5.70 5.70M527.35 428.01l5.70 -5.70M527.98 425.19h8.0M531.98 421.19v8.0M529.13 422.34l5.70 5.70M529.13 428.04l5.70 -5.70M529.76 425.21h8.0M533.76 421.21v8.0M530.91 422.36l5.70 5.70M530.91 428.06l5.70 -5.70M531.54 425.24h8.0M535.54 421.24v8.0M532.69 422.39l5.70 5.70M532.69 428.09l5.70 -5.70M533.32 425.26h8.0M537.32 421.26v8.0M534.47 422.41l5.70 5.70M534.47 428.11l5.70 -5.70M535.10 425.28h8.0M539.10 421.28v8.0M536.25 422.43l5.70 5.70M536.25 428.13l5.70 -5.70M536.88 425.31h8.0M540.88 421.31v8.0M538.03 422.46l5.70 5.70M538.03 428.16l5.70 -5.70M538.66 425.33h8.0M542.66 421.33v8.0M539.81 422.48l5.70 5.70M539.81 428.18l5.70 -5.70M540.44 425.35h8.0M544.44 421.35v8.0M541.59 422.50l5.70 5.70M541.59 428.20l5.70 -5.70M542.22 425.38h8.0M546.22 421.38v8.0M543.37 422.53l5.70 5.70M543.37 428.23l5.70 -5.70M544.00 425.40h8.0M548.00 421.40v8.0M545.15 422.55l5.70 5.70M545.15 428.25l5.70 -5.70M545.78 425.42h8.0M549.78 421.42v8.0M546.93 422.57l5.70 5.70M546.93 428.27l5.70 -5.70M547.56 425.44h8.0M551.56 421.44v8.0M548.71 422.59l5.70 5.70M548.71 428.29l5.70 -5.70M549.34 425.47h8.0M553.34 421.47v8.0M550.49 422.62l5.70 5.70M550.49 428.32l5.70 -5.70M551.12 425.49h8.0M555.12 421.49v8.0M552.27 422.64l5.70 5.70M552.27 428.34l5.70 -5.70M552.90 425.51h8.0M556.90 421.51v8.0M554.05 422.66l5.70 5.70M554.05 428.36l5.70 -5.70M554.68 425.53h8.0M558.68 421.53v8.0M555.83 422.68l5.70 5.70M555.83 428.38l5.70 -5.70M556.46 425.55h8.0M560.46 421.55v8.0M557.61 422.70l5.70 5.70M557.61 428.40l5.70 -5.70M558.24 425.57h8.0M562.24 421.57v8.0M559.39 422.72l5.70 5.70M559.39 428.42l5.70 -5.70M560.02 425.59h8.0M564.02 421.59v8.0M561.17 422.74l5.70 5.70M561.17 428.44l5.70 -5.70M561.80 425.61h8.0M565.80 421.61v8.0M562.95 422.76l5.70 5.70M562.95 428.46l5.70 -5.70M563.58 425.63h8.0M567.58 421.63v8.0M564.73 422.78l5.70 5.70M564.73 428.48l5.70 -5.70M565.36 425.65h8.0M569.36 421.65v8.0M566.51 422.80l5.70 5.70M566.51 428.50l5.70 -5.70M567.14 425.67h8.0M571.14 421.67v8.0M568.29 422.82l5.70 5.70M568.29 428.52l5.70 -5.70M568.92 425.69h8.0M572.92 421.69v8.0M570.07 422.84l5.70 5.70M570.07 428.54l5.70 -5.70M570.70 425.71h8.0M574.70 421.71v8.0M571.85 422.86l5.70 5.70M571.85 428.56l5.70 -5.70M572.48 425.73h8.0M576.48 421.73v8.0M573.63 422.88l5.70 5.70M573.63 428.58l5.70 -5.70M574.26 425.75h8.0M578.26 421.75v8.0M575.41 422.90l5.70 5.70M575.41 428.60l5.70 -5.70M576.04 425.77h8.0M580.04 421.77v8.0M577.19 422.92l5.70 5.70M577.19 428.62l5.70 -5.70M577.82 425.79h8.0M581.82 421.79v8.0M578.97 422.94l5.70 5.70M578.97 428.64l5.70 -5.70M579.60 425.81h8.0M583.60 421.81v8.0M580.75 422.96l5.70 5.70M580.75 428.66l5.70 -5.70M581.38 425.82h8.0M585.38 421.82v8.0M582.53 422.97l5.70 5.70M582.53 428.67l5.70 -5.70M583.16 425.84h8.0M587.16 421.84v8.0M584.31 422.99l5.70 5.70M584.31 428.69l5.70 -5.70M584.94 425.86h8.0M588.94 421.86v8.0M586.09 423.01l5.70 5.70M586.09 428.71l5.70 -5.70M586.72 425.88h8.0M590.72 421.88v8.0M587.87 423.03l5.70 5.70M587.87 428.73l5.70 -5.70M588.50 425.89h8.0M592.50 421.89v8.0M589.65 423.04l5.70 5.70M589.65 428.74l5.70 -5.70" fill="none" stroke="#a42ee0" stroke-width="1.2"/>
<path d="M55.65 425.65l5.70 5.70M55.65 431.35l5.70 -5.70M57.43 425.42l5.70 5.70M57.43 431.12l5.70 -5.70M59.21 424.81l5.70 5.70M59.21 430.51l5.70 -5.70M60.99 423.73l5.70 5.70M60.99 429.43l5.70 -5.70M62.77 422.28l5.70 5.70M62.77 427.98l5.70 -5.70M64.55 420.36l5.70 5.70M64.55 426.06l5.70 -5.70M66.33 417.99l5.70 5.70M66.33 423.69l5.70 -5.70M68.11 414.54l5.70 5.70M68.11 420.24l5.70 -5.70M69.89 409.71l5.70 5.70M69.89 415.41l5.70 -5.70M71.67 404.96l5.70 5.70M71.67 410.66l5.70 -5.70M73.45 398.07l5.70 5.70M73.45 403.77l5.70 -5.70M75.23 390.40l5.70 5.70M75.23 396.10l5.70 -5.70M77.01 379.68l5.70 5.70M77.01 385.38l5.70 -5.70M78.79 366.34l5.70 5.70M78.79 372.04l5.70 -5.70M80.57 349.47l5.70 5.70M80.57 355.17l5.70 -5.70M82.35 327.70l5.70 5.70M82.35 333.40l5.70 -5.70M84.13 300.47l5.70 5.70M84.13 306.17l5.70 -5.70M85.91 268.02l5.70 5.70M85.91 273.72l5.70 -5.70M87.69 229.08l5.70 5.70M87.69 234.78l5.70 -5.70M89.47 185.24l5.70 5.70M89.47 190.94l5.70 -5.70M91.25 140.49l5.70 5.70M91.25 146.19l5.70 -5.70M93.03 99.75l5.70 5.70M93.03 105.45l5.70 -5.70M94.81 68.55l5.70 5.70M94.81 74.25l5.70 -5.70M96.59 50.63l5.70 5.70M96.59 56.33l5.70 -5.70M98.37 46.30l5.70 5.70M98.37 52.00l5.70 -5.70M100.15 53.29l5.70 5.70M100.15 58.99l5.70 -5.70M101.93 67.71l5.70 5.70M101.93 73.41l5.70 -5.70M103.71 85.42l5.70 5.70M103.71 91.12l5.70 -5.70M105.49 104.77l5.70 5.70M105.49 110.47l5.70 -5.70M107.27 124.09l5.70 5.70M107.27 129.79l5.70 -5.70M109.05 142.48l5.70 5.70M109.05 148.18l5.70 -5.70M110.83 160.24l5.70 5.70M110.83 165.94l5.70 -5.70M112.61 176.55l5.70 5.70M112.61 182.25l5.70 -5.70M114.39 191.42l5.70 5.70M114.39 197.12l5.70 -5.70M116.17 205.00l5.70 5.70M116.17 210.70l5.70 -5.70M117.95 217.43l5.70 5.70M117.95 223.13l5.70 -5.70M119.73 228.83l5.70 5.70M119.73 234.53l5.70 -5.70M121.51 239.33l5.70 5.70M121.51 245.03l5.70 -5.70M123.29 249.00l5.70 5.70M123.29 254.70l5.70 -5.70M125.07 257.95l5.70 5.70M125.07 263.65l5.70 -5.70M126.85 266.23l5.70 5.70M126.85 271.93l5.70 -5.70M128.63 273.91l5.70 5.70M128.63 279.61l5.70 -5.70M130.41 281.05l5.70 5.70M130.41 286.75l5.70 -5.70M132.19 287.70l5.70 5.70M132.19 293.40l5.70 -5.70M133.97 293.90l5.70 5.70M133.97 299.60l5.70 -5.70M135.75 299.69l5.70 5.70M135.75 305.39l5.70 -5.70M137.53 305.10l5.70 5.70M137.53 310.80l5.70 -5.70M139.31 310.18l5.70 5.70M139.31 315.88l5.70 -5.70M141.09 314.94l5.70 5.70M141.09 320.64l5.70 -5.70M142.87 319.41l5.70 5.70M142.87 325.11l5.70 -5.70M144.65 323.62l5.70 5.70M144.65 329.32l5.70 -5.70M146.43 327.58l5.70 5.70M146.43 333.28l5.70 -5.70M148.21 331.32l5.70 5.70M148.21 337.02l5.70 -5.70M149.99 334.84l5.70 5.70M149.99 340.54l5.70 -5.70M151.77 338.18l5.70 5.70M151.77 343.88l5.70 -5.70M153.55 341.33l5.70 5.70M153.55 347.03l5.70 -5.70M155.33 344.31l5.70 5.70M155.33 350.01l5.70 -5.70M157.11 347.14l5.70 5.70M157.11 352.84l5.70 -5.70M158.89 349.82l5.70 5.70M158.89 355.52l5.70 -5.70M160.67 352.37l5.70 5.70M160.67 358.07l5.70 -5.70M162.45 354.80l5.70 5.70M162.45 360.50l5.70 -5.70M164.23 357.10l5.70 5.70M164.23 362.80l5.70 -5.70M166.01 359.29l5.70 5.70M166.01 364.99l5.70 -5.70M167.79 361.38l5.70 5.70M167.79 367.08l5.70 -5.70M169.57 363.38l5.70 5.70M169.57 369.08l5.70 -5.70M171.35 365.28l5.70 5.70M171.35 370.98l5.70 -5.70M173.13 367.09l5.70 5.70M173.13 372.79l5.70 -5.70M174.91 368.83l5.70 5.70M174.91 374.53l5.70 -5.70M176.69 370.49l5.70 5.70M176.69 376.19l5.70 -5.70M178.47 372.07l5.70 5.70M178.47 377.77l5.70 -5.70M180.25 373.59l5.70 5.70M180.25 379.29l5.70 -5.70M182.03 375.05l5.70 5.70M182.03 380.75l5.70 -5.70M183.81 376.45l5.70 5.70M183.81 382.15l5.70 -5.70M185.59 377.78l5.70 5.70M185.59 383.48l5.70 -5.70M187.37 379.07l5.70 5.70M187.37 384.77l5.70 -5.70M189.15 380.30l5.70 5.70M189.15 386.00l5.70 -5.70M190.93 381.49l5.70 5.70M190.93 387.19l5.70 -5.70M192.71 382.63l5.70 5.70M192.71 388.33l5.70 -5.70M194.49 383.72l5.70 5.70M194.49 389.42l5.70 -5.70M196.27 384.78l5.70 5.70M196.27 390.48l5.70 -5.70M198.05 385.79l5.70 5.70M198.05 391.49l5.70 -5.70M199.83 386.77l5.70 5.70M199.83 392.47l5.70 -5.70M201.61 387.71l5.70 5.70M201.61 393.41l5.70 -5.70M203.39 388.62l5.70 5.70M203.39 394.32l5.70 -5.70M205.17 389.50l5.70 5.70M205.17 395.20l5.70 -5.70M206.95 390.35l5.70 5.70M206.95 396.05l5.70 -5.70M208.73 391.16l5.70 5.70M208.73 396.86l5.70 -5.70M210.51 391.95l5.70 5.70M210.51 397.65l5.70 -5.70M212.29 392.71l5.70 5.70M212.29 398.41l5.70 -5.70M214.07 393.45l5.70 5.70M214.07 399.15l5.70 -5.70M215.85 394.16l5.70 5.70M215.85 399.86l5.70 -5.70M217.63 394.85l5.70 5.70M217.63 400.55l5.70 -5.70M219.41 395.51l5.70 5.70M219.41 401.21l5.70 -5.70M221.19 396.16l5.70 5.70M221.19 401.86l5.70 -5.70M222.97 396.78l5.70 5.70M222.97 402.48l5.70 -5.70M224.75 397.39l5.70 5.70M224.75 403.09l5.70 -5.70M226.53 397.97l5.70 5.70M226.53 403.67l5.70 -5.70M228.31 398.54l5.70 5.70M228.31 404.24l5.70 -5.70M230.09 399.09l5.70 5.70M230.09 404.79l5.70 -5.70M231.87 399.62l5.70 5.70M231.87 405.32l5.70 -5.70M233.65 400.14l5.70 5.70M233.65 405.84l5.70 -5.70M235.43 400.65l5.70 5.70M235.43 406.35l5.70 -5.70M237.21 401.13l5.70 5.70M237.21 406.83l5.70 -5.70M238.99 401.61l5.70 5.70M238.99 407.31l5.70 -5.70M240.77 402.07l5.70 5.70M240.77 407.77l5.70 -5.70M242.55 402.51l5.70 5.70M242.55 408.21l5.70 -5.70M244.33 402.95l5.70 5.70M244.33 408.65l5.70 -5.70M246.11 403.37l5.70 5.70M246.11 409.07l5.70 -5.70M247.89 403.78l5.70 5.70M247.89 409.48l5.70 -5.70M249.67 404.18l5.70 5.70M249.67 409.88l5.70 -5.70M251.45 404.57l5.70 5.70M251.45 410.27l5.70 -5.70M253.23 404.95l5.70 5.70M253.23 410.65l5.70 -5.70M255.01 405.32l5.70 5.70M255.01 411.02l5.70 -5.70M256.79 405.67l5.70 5.70M256.79 411.37l5.70 -5.70M258.57 406.02l5.70 5.70M258.57 411.72l5.70 -5.70M260.35 406.36l5.70 5.70M260.35 412.06l5.70 -5.70M262.13 406.69l5.70 5.70M262.13 412.39l5.70 -5.70M263.91 407.02l5.70 5.70M263.91 412.72l5.70 -5.70M265.69 407.33l5.70 5.70M265.69 413.03l5.70 -5.70M267.47 407.64l5.70 5.70M267.47 413.34l5.70 -5.70M269.25 407.94l5.70 5.70M269.25 413.64l5.70 -5.70M271.03 408.23l5.70 5.70M271.03 413.93l5.70 -5.70M272.81 408.51l5.70 5.70M272.81 414.21l5.70 -5.70M274.59 408.79l5.70 5.70M274.59 414.49l5.70 -5.70M276.37 409.06l5.70 5.70M276.37 414.76l5.70 -5.70M278.15 409.33l5.70 5.70M278.15 415.03l5.70 -5.70M279.93 409.58l5.70 5.70M279.93 415.28l5.70 -5.70M281.71 409.84l5.70 5.70M281.71 415.54l5.70 -5.70M283.49 410.08l5.70 5.70M283.49 415.78l5.70 -5.70M285.27 410.32l5.70 5.70M285.27 416.02l5.70 -5.70M287.05 410.56l5.70 5.70M287.05 416.26l5.70 -5.70M288.83 410.79l5.70 5.70M288.83 416.49l5.70 -5.70M290.61 411.01l5.70 5.70M290.61 416.71l5.70 -5.70M292.39 411.23l5.70 5.70M292.39 416.93l5.70 -5.70M294.17 411.44l5.70 5.70M294.17 417.14l5.70 -5.70M295.95 411.65l5.70 5.70M295.95 417.35l5.70 -5.70M297.73 411.86l5.70 5.70M297.73 417.56l5.70 -5.70M299.51 412.06l5.70 5.70M299.51 417.76l5.70 -5.70M301.29 412.26l5.70 5.70M301.29 417.96l5.70 -5.70M303.07 412.45l5.70 5.70M303.07 418.15l5.70 -5.70M304.85 412.64l5.70 5.70M304.85 418.34l5.70 -5.70M306.63 412.82l5.70 5.70M306.63 418.52l5.70 -5.70M308.41 413.00l5.70 5.70M308.41 418.70l5.70 -5.70M310.19 413.18l5.70 5.70M310.19 418.88l5.70 -5.70M311.97 413.35l5.70 5.70M311.97 419.05l5.70 -5.70M313.75 413.52l5.70 5.70M313.75 419.22l5.70 -5.70M315.53 413.68l5.70 5.70M315.53 419.38l5.70 -5.70M317.31 413.85l5.70 5.70M317.31 419.55l5.70 -5.70M319.09 414.00l5.70 5.70M319.09 419.70l5.70 -5.70M320.87 414.16l5.70 5.70M320.87 419.86l5.70 -5.70M322.65 414.31l5.70 5.70M322.65 420.01l5.70 -5.70M324.43 414.46l5.70 5.70M324.43 420.16l5.70 -5.70M326.21 414.61l5.70 5.70M326.21 420.31l5.70 -5.70M327.99 414.75l5.70 5.70M327.99 420.45l5.70 -5.70M329.77 414.89l5.70 5.70M329.77 420.59l5.70 -5.70M331.55 415.03l5.70 5.70M331.55 420.73l5.70 -5.70M333.33 415.17l5.70 5.70M333.33 420.87l5.70 -5.70M335.11 415.30l5.70 5.70M335.11 421.00l5.70 -5.70M336.89 415.43l5.70 5.70M336.89 421.13l5.70 -5.70M338.67 415.56l5.70 5.70M338.67 421.26l5.70 -5.70M340.45 415.69l5.70 5.70M340.45 421.39l5.70 -5.70M342.23 415.81l5.70 5.70M342.23 421.51l5.70 -5.70M344.01 415.93l5.70 5.70M344.01 421.63l5.70 -5.70M345.79 416.05l5.70 5.70M345.79 421.75l5.70 -5.70M347.57 416.17l5.70 5.70M347.57 421.87l5.70 -5.70M349.35 416.28l5.70 5.70M349.35 421.98l5.70 -5.70M351.13 416.39l5.70 5.70M351.13 422.09l5.70 -5.70M352.91 416.50l5.70 5.70M352.91 422.20l5.70 -5.70M354.69 416.61l5.70 5.70M354.69 422.31l5.70 -5.70M356.47 416.72l5.70 5.70M356.47 422.42l5.70 -5.70M358.25 416.82l5.70 5.70M358.25 422.52l5.70 -5.70M360.03 416.93l5.70 5.70M360.03 422.63l5.70 -5.70M361.81 417.03l5.70 5.70M361.81 422.73l5.70 -5.70M363.59 417.13l5.70 5.70M363.59 422.83l5.70 -5.70M365.37 417.22l5.70 5.70M365.37 422.92l5.70 -5.70M367.15 417.32l5.70 5.70M367.15 423.02l5.70 -5.70M368.93 417.42l5.70 5.70M368.93 423.12l5.70 -5.70M370.71 417.51l5.70 5.70M370.71 423.21l5.70 -5.70M372.49 417.60l5.70 5.70M372.49 423.30l5.70 -5.70M374.27 417.69l5.70 5.70M374.27 423.39l5.70 -5.70M376.05 417.78l5.70 5.70M376.05 423.48l5.70 -5.70M377.83 417.86l5.70 5.70M377.83 423.56l5.70 -5.70M379.61 417.95l5.70 5.70M379.61 423.65l5.70 -5.70M381.39 418.03l5.70 5.70M381.39 423.73l5.70 -5.70M383.17 418.12l5.70 5.70M383.17 423.82l5.70 -5.70M384.95 418.20l5.70 5.70M384.95 423.90l5.70 -5.70M386.73 418.28l5.70 5.70M386.73 423.98l5.70 -5.70M388.51 418.36l5.70 5.70M388.51 424.06l5.70 -5.70M390.29 418.43l5.70 5.70M390.29 424.13l5.70 -5.70M392.07 418.51l5.70 5.70M392.07 424.21l5.70 -5.70M393.85 418.58l5.70 5.70M393.85 424.28l5.70 -5.70M395.63 418.66l5.70 5.70M395.63 424.36l5.70 -5.70M397.41 418.73l5.70 5.70M397.41 424.43l5.70 -5.70M399.19 418.80l5.70 5.70M399.19 424.50l5.70 -5.70M400.97 418.87l5.70 5.70M400.97 424.57l5.70 -5.70M402.75 418.94l5.70 5.70M402.75 424.64l5.70 -5.70M404.53 419.01l5.70 5.70M404.53 424.71l5.70 -5.70M406.31 419.08l5.70 5.70M406.31 424.78l5.70 -5.70M408.09 419.14l5.70 5.70M408.09 424.84l5.70 -5.70M409.87 419.21l5.70 5.70M409.87 424.91l5.70 -5.70M411.65 419.27l5.70 5.70M411.65 424.97l5.70 -5.70M413.43 419.34l5.70 5.70M413.43 425.04l5.70 -5.70M415.21 419.40l5.70 5.70M415.21 425.10l5.70 -5.70M416.99 419.46l5.70 5.70M416.99 425.16l5.70 -5.70M418.77 419.52l5.70 5.70M418.77 425.22l5.70 -5.70M420.55 419.58l5.70 5.70M420.55 425.28l5.70 -5.70M422.33 419.64l5.70 5.70M422.33 425.34l5.70 -5.70M424.11 419.70l5.70 5.70M424.11 425.40l5.70 -5.70M425.89 419.75l5.70 5.70M425.89 425.45l5.70 -5.70M427.67 419.81l5.70 5.70M427.67 425.51l5.70 -5.70M429.45 419.87l5.70 5.70M429.45 425.57l5.70 -5.70M431.23 419.92l5.70 5.70M431.23 425.62l5.70 -5.70M433.01 419.97l5.70 5.70M433.01 425.67l5.70 -5.70M434.79 420.03l5.70 5.70M434.79 425.73l5.70 -5.70M436.57 420.08l5.70 5.70M436.57 425.78l5.70 -5.70M438.35 420.13l5.70 5.70M438.35 425.83l5.70 -5.70M440.13 420.18l5.70 5.70M440.13 425.88l5.70 -5.70M441.91 420.23l5.70 5.70M441.91 425.93l5.70 -5.70M443.69 420.28l5.70 5.70M443.69 425.98l5.70 -5.70M445.47 420.33l5.70 5.70M445.47 426.03l5.70 -5.70M447.25 420.38l5.70 5.70M447.25 426.08l5.70 -5.70M449.03 420.43l5.70 5.70M449.03 426.13l5.70 -5.70M450.81 420.47l5.70 5.70M450.81 426.17l5.70 -5.70M452.59 420.52l5.70 5.70M452.59 426.22l5.70 -5.70M454.37 420.57l5.70 5.70M454.37 426.27l5.70 -5.70M456.15 420.61l5.70 5.70M456.15 426.31l5.70 -5.70M457.93 420.66l5.70 5.70M457.93 426.36l5.70 -5.70M459.71 420.70l5.70 5.70M459.71 426.40l5.70 -5.70M461.49 420.74l5.70 5.70M461.49 426.44l5.70 -5.70M463.27 420.79l5.70 5.70M463.27 426.49l5.70 -5.70M465.05 420.83l5.70 5.70M465.05 426.53l5.70 -5.70M466.83 420.87l5.70 5.70M466.83 426.57l5.70 -5.70M468.61 420.91l5.70 5.70M468.61 426.61l5.70 -5.70M470.39 420.95l5.70 5.70M470.39 426.65l5.70 -5.70M472.17 420.99l5.70 5.70M472.17 426.69l5.70 -5.70M473.95 421.03l5.70 5.70M473.95 426.73l5.70 -5.70M475.73 421.07l5.70 5.70M475.73 426.77l5.70 -5.70M477.51 421.11l5.70 5.70M477.51 426.81l5.70 -5.70M479.29 421.15l5.70 5.70M479.29 426.85l5.70 -5.70M481.07 421.18l5.70 5.70M481.07 426.88l5.70 -5.70M482.85 421.22l5.70 5.70M482.85 426.92l5.70 -5.70M484.63 421.26l5.70 5.70M484.63 426.96l5.70 -5.70M486.41 421.29l5.70 5.70M486.41 426.99l5.70 -5.70M488.19 421.33l5.70 5.70M488.19 427.03l5.70 -5.70M489.97 421.37l5.70 5.70M489.97 427.07l5.70 -5.70M491.75 421.40l5.70 5.70M491.75 427.10l5.70 -5.70M493.53 421.43l5.70 5.70M493.53 427.13l5.70 -5.70M495.31 421.47l5.70 5.70M495.31 427.17l5.70 -5.70M497.09 421.50l5.70 5.70M497.09 427.20l5.70 -5.70M498.87 421.54l5.70 5.70M498.87 427.24l5.70 -5.70M500.65 421.57l5.70 5.70M500.65 427.27l5.70 -5.70M502.43 421.60l5.70 5.70M502.43 427.30l5.70 -5.70M504.21 421.63l5.70 5.70M504.21 427.33l5.70 -5.70M505.99 421.67l5.70 5.70M505.99 427.37l5.70 -5.70M507.77 421.70l5.70 5.70M507.77 427.40l5.70 -5.70M509.55 421.73l5.70 5.70M509.55 427.43l5.70 -5.70M511.33 421.76l5.70 5.70M511.33 427.46l5.70 -5.70M513.11 421.79l5.70 5.70M513.11 427.49l5.70 -5.70M514.89 421.82l5.70 5.70M514.89 427.52l5.70 -5.70M516.67 421.85l5.70 5.70M516.67 427.55l5.70 -5.70M518.45 421.88l5.70 5.70M518.45 427.58l5.70 -5.70M520.23 421.91l5.70 5.70M520.23 427.61l5.70 -5.70M522.01 421.93l5.70 5.70M522.01 427.63l5.70 -5.70M523.79 421.96l5.70 5.70M523.79 427.66l5.70 -5.70M525.57 421.99l5.70 5.70M525.57 427.69l5.70 -5.70M527.35 422.02l5.70 5.70M527.35 427.72l5.70 -5.70M529.13 422.04l5.70 5.70M529.13 427.74l5.70 -5.70M530.91 422.07l5.70 5.70M530.91 427.77l5.70 -5.70M532.69 422.10l5.70 5.70M532.69 427.80l5.70 -5.70M534.47 422.12l5.70 5.70M534.47 427.82l5.70 -5.70M536.25 422.15l5.70 5.70M536.25 427.85l5.70 -5.70M538.03 422.18l5.70 5.70M538.03 427.88l5.70 -5.70M539.81 422.20l5.70 5.70M539.81 427.90l5.70 -5.70M541.59 422.23l5.70 5.70M541.59 427.93l5.70 -5.70M543.37 422.25l5.70 5.70M543.37 427.95l5.70 -5.70M545.15 422.28l5.70 5.70M545.15 427.98l5.70 -5.70M546.93 422.30l5.70 5.70M546.93 428.00l5.70 -5.70M548.71 422.33l5.70 5.70M548.71 428.03l5.70 -5.70M550.49 422.35l5.70 5.70M550.49 428.05l5.70 -5.70M552.27 422.37l5.70 5.70M552.27 428.07l5.70 -5.70M554.05 422.40l5.70 5.70M554.05 428.10l5.70 -5.70M555.83 422.42l5.70 5.70M555.83 428.12l5.70 -5.70M557.61 422.44l5.70 5.70M557.61 428.14l5.70 -5.70M559.39 422.47l5.70 5.70M559.39 428.17l5.70 -5.70M561.17 422.49l5.70 5.70M561.17 428.19l5.70 -5.70M562.95 422.51l5.70 5.70M562.95 428.21l5.70 -5.70M564.73 422.53l5.70 5.70M564.73 428.23l5.70 -5.70M566.51 422.55l5.70 5.70M566.51 428.25l5.70 -5.70M568.29 422.57l5.70 5.70M568.29 428.27l5.70 -5.70M570.07 422.60l5.70 5.70M570.07 428.30l5.70 -5.70M571.85 422.62l5.70 5.70M571.85 428.32l5.70 -5.70M573.63 422.64l5.70 5.70M573.63 428.34l5.70 -5.70M575.41 422.66l5.70 5.70M575.41 428.36l5.70 -5.70M577.19 422.68l5.70 5.70M577.19 428.38l5.70 -5.70M578.97 422.70l5.70 5.70M578.97 428.40l5.70 -5.70M580.75 422.72l5.70 5.70M580.75 428.42l5.70 -5.70M582.53 422.74l5.70 5.70M582.53 428.44l5.70 -5.70M584.31 422.76l5.70 5.70M584.31 428.46l5.70 -5.70M586.09 422.78l5.70 5.70M586.09 428.48l5.70 -5.70M587.87 422.80l5.70 5.70M587.87 428.50l5.70 -5.70M589.65 422.82l5.70 5.70M589.65 428.52l5.70 -5.70" fill="none" stroke="#5cd8c8" stroke-width="0.9"/>
<path d="M54.50 428.50h8.0M58.50 424.50v8.0M56.28 428.25h8.0M60.28 424.25v8.0M58.06 427.57h8.0M62.06 423.57v8.0M59.84 426.39h8.0M63.84 422.39v8.0M61.62 424.80h8.0M65.62 420.80v8.0M63.40 422.69h8.0M67.40 418.69v8.0M65.18 420.08h8.0M69.18 416.08v8.0M66.96 416.29h8.0M70.96 412.29v8.0M68.74 410.99h8.0M72.74 406.99v8.0M70.52 405.77h8.0M74.52 401.77v8.0M72.30 398.19h8.0M76.30 394.19v8.0M74.08 389.77h8.0M78.08 385.77v8.0M75.86 377.98h8.0M79.86 373.98v8.0M77.64 363.33h8.0M81.64 359.33v8.0M79.42 345.14h8.0M83.42 341.14v8.0M81.20 322.41h8.0M85.20 318.41v8.0M82.98 294.62h8.0M86.98 290.62v8.0M84.76 261.87h8.0M88.76 257.87v8.0M86.54 223.05h8.0M90.54 219.05v8.0M88.32 180.11h8.0M92.32 176.11v8.0M90.10 136.33h8.0M94.10 132.33v8.0M91.88 96.25h8.0M95.88 92.25v8.0M93.66 65.60h8.0M97.66 61.60v8.0M95.44 48.08h8.0M99.44 44.08v8.0M97.22 44.21h8.0M101.22 40.21v8.0M99.00 51.62h8.0M103.00 47.62v8.0M100.78 66.44h8.0M104.78 62.44v8.0M102.56 84.54h8.0M106.56 80.54v8.0M104.34 104.25h8.0M108.34 100.25v8.0M106.12 123.86h8.0M110.12 119.86v8.0M107.90 142.47h8.0M111.90 138.47v8.0M109.68 160.41h8.0M113.68 156.41v8.0M111.46 176.89h8.0M115.46 172.89v8.0M113.24 191.90h8.0M117.24 187.90v8.0M115.02 205.62h8.0M119.02 201.62v8.0M116.80 218.17h8.0M120.80 214.17v8.0M118.58 229.69h8.0M122.58 225.69v8.0M120.36 240.30h8.0M124.36 236.30v8.0M122.14 250.07h8.0M126.14 246.07v8.0M123.92 259.10h8.0M127.92 255.10v8.0M125.70 267.47h8.0M129.70 263.47v8.0M127.48 275.23h8.0M131.48 271.23v8.0M129.26 282.44h8.0M133.26 278.44v8.0M131.04 289.15h8.0M135.04 285.15v8.0M132.82 295.42h8.0M136.82 291.42v8.0M134.60 301.26h8.0M138.60 297.26v8.0M136.38 306.74h8.0M140.38 302.74v8.0M138.16 311.86h8.0M142.16 307.86v8.0M139.94 316.67h8.0M143.94 312.67v8.0M141.72 321.19h8.0M145.72 317.19v8.0M143.50 325.44h8.0M147.50 321.44v8.0M145.28 329.44h8.0M149.28 325.44v8.0M147.06 333.21h8.0M151.06 329.21v8.0M148.84 336.78h8.0M152.84 332.78v8.0M150.62 340.14h8.0M154.62 336.14v8.0M152.40 343.33h8.0M156.40 339.33v8.0M154.18 346.34h8.0M158.18 342.34v8.0M155.96 349.20h8.0M159.96 345.20v8.0M157.74 351.91h8.0M161.74 347.91v8.0M159.52 354.48h8.0M163.52 350.48v8.0M161.30 356.93h8.0M165.30 352.93v8.0M163.08 359.26h8.0M167.08 355.26v8.0M164.86 361.47h8.0M168.86 357.47v8.0M166.64 363.58h8.0M170.64 359.58v8.0M168.42 365.60h8.0M172.42 361.60v8.0M170.20 367.52h8.0M174.20 363.52v8.0M171.98 369.35h8.0M175.98 365.35v8.0M173.76 371.10h8.0M177.76 367.10v8.0M175.54 372.78h8.0M179.54 368.78v8.0M177.32 374.38h8.0M181.32 370.38v8.0M179.10 375.92h8.0M183.10 371.92v8.0M180.88 377.39h8.0M184.88 373.39v8.0M182.66 378.80h8.0M186.66 374.80v8.0M184.44 380.15h8.0M188.44 376.15v8.0M186.22 381.45h8.0M190.22 377.45v8.0M188.00 382.70h8.0M192.00 378.70v8.0M189.78 383.89h8.0M193.78 379.89v8.0M191.56 385.04h8.0M195.56 381.04v8.0M193.34 386.15h8.0M197.34 382.15v8.0M195.12 387.22h8.0M199.12 383.22v8.0M196.90 388.24h8.0M200.90 384.24v8.0M198.68 389.23h8.0M202.68 385.23v8.0M200.46 390.18h8.0M204.46 386.18v8.0M202.24 391.10h8.0M206.24 387.10v8.0M204.02 391.98h8.0M208.02 387.98v8.0M205.80 392.84h8.0M209.80 388.84v8.0M207.58 393.66h8.0M211.58 389.66v8.0M209.36 394.46h8.0M213.36 390.46v8.0M211.14 395.23h8.0M215.14 391.23v8.0M212.92 395.97h8.0M216.92 391.97v8.0M214.70 396.69h8.0M218.70 392.69v8.0M216.48 397.39h8.0M220.48 393.39v8.0M218.26 398.06h8.0M222.26 394.06v8.0M220.04 398.71h8.0M224.04 394.71v8.0M221.82 399.34h8.0M225.82 395.34v8.0M223.60 399.95h8.0M227.60 395.95v8.0M225.38 400.54h8.0M229.38 396.54v8.0M227.16 401.12h8.0M231.16 397.12v8.0M228.94 401.67h8.0M232.94 397.67v8.0M230.72 402.21h8.0M234.72 398.21v8.0M232.50 402.73h8.0M236.50 398.73v8.0M234.28 403.24h8.0M238.28 399.24v8.0M236.06 403.74h8.0M240.06 399.74v8.0M237.84 404.21h8.0M241.84 400.21v8.0M239.62 404.68h8.0M243.62 400.68v8.0M241.40 405.13h8.0M245.40 401.13v8.0M243.18 405.57h8.0M247.18 401.57v8.0M244.96 406.00h8.0M248.96 402.00v8.0M246.74 406.41h8.0M250.74 402.41v8.0M248.52 406.81h8.0M252.52 402.81v8.0M250.30 407.21h8.0M254.30 403.21v8.0M252.08 407.59h8.0M256.08 403.59v8.0M253.86 407.96h8.0M257.86 403.96v8.0M255.64 408.32h8.0M259.64 404.32v8.0M257.42 408.67h8.0M261.42 404.67v8.0M259.20 409.02h8.0M263.20 405.02v8.0M260.98 409.35h8.0M264.98 405.35v8.0M262.76 409.68h8.0M266.76 405.68v8.0M264.54 410.00h8.0M268.54 406.00v8.0M266.32 410.31h8.0M270.32 406.31v8.0M268.10 410.61h8.0M272.10 406.61v8.0M269.88 410.90h8.0M273.88 406.90v8.0M271.66 411.19h8.0M275.66 407.19v8.0M273.44 411.47h8.0M277.44 407.47v8.0M275.22 411.74h8.0M279.22 407.74v8.0M277.00 412.01h8.0M281.00 408.01v8.0M278.78 412.27h8.0M282.78 408.27v8.0M280.56 412.53h8.0M284.56 408.53v8.0M282.34 412.77h8.0M286.34 408.77v8.0M284.12 413.02h8.0M288.12 409.02v8.0M285.90 413.25h8.0M289.90 409.25v8.0M287.68 413.49h8.0M291.68 409.49v8.0M289.46 413.71h8.0M293.46 409.71v8.0M291.24 413.93h8.0M295.24 409.93v8.0M293.02 414.15h8.0M297.02 410.15v8.0M294.80 414.36h8.0M298.80 410.36v8.0M296.58 414.57h8.0M300.58 410.57v8.0M298.36 414.77h8.0M302.36 410.77v8.0M300.14 414.97h8.0M304.14 410.97v8.0M301.92 415.16h8.0M305.92 411.16v8.0M303.70 415.35h8.0M307.70 411.35v8.0M305.48 415.54h8.0M309.48 411.54v8.0M307.26 415.72h8.0M311.26 411.72v8.0M309.04 415.90h8.0M313.04 411.90v8.0M310.82 416.07h8.0M314.82 412.07v8.0M312.60 416.25h8.0M316.60 412.25v8.0M314.38 416.41h8.0M318.38 412.41v8.0M316.16 416.58h8.0M320.16 412.58v8.0M317.94 416.74h8.0M321.94 412.74v8.0M319.72 416.89h8.0M323.72 412.89v8.0M321.50 417.05h8.0M325.50 413.05v8.0M323.28 417.20h8.0M327.28 413.20v8.0M325.06 417.35h8.0M329.06 413.35v8.0M326.84 417.49h8.0M330.84 413.49v8.0M328.62 417.64h8.0M332.62 413.64v8.0M330.40 417.78h8.0M334.40 413.78v8.0M332.18 417.91h8.0M336.18 413.91v8.0M333.96 418.05h8.0M337.96 414.05v8.0M335.74 418.18h8.0M339.74 414.18v8.0M337.52 418.31h8.0M341.52 414.31v8.0M339.30 418.44h8.0M343.30 414.44v8.0M341.08 418.56h8.0M345.08 414.56v8.0M342.86 418.68h8.0M346.86 414.68v8.0M344.64 418.80h8.0M348.64 414.80v8.0M346.42 418.92h8.0M350.42 414.92v8.0M348.20 419.04h8.0M352.20 415.04v8.0M349.98 419.15h8.0M353.98 415.15v8.0M351.76 419.26h8.0M355.76 415.26v8.0M353.54 419.37h8.0M357.54 415.37v8.0M355.32 419.48h8.0M359.32 415.48v8.0M357.10 419.58h8.0M361.10 415.58v8.0M358.88 419.69h8.0M362.88 415.69v8.0M360.66 419.79h8.0M364.66 415.79v8.0M362.44 419.89h8.0M366.44 415.89v8.0M364.22 419.99h8.0M368.22 415.99v8.0M366.00 420.09h8.0M370.00 416.09v8.0M367.78 420.18h8.0M371.78 416.18v8.0M369.56 420.28h8.0M373.56 416.28v8.0M371.34 420.37h8.0M375.34 416.37v8.0M373.12 420.46h8.0M377.12 416.46v8.0M374.90 420.55h8.0M378.90 416.55v8.0M376.68 420.64h8.0M380.68 416.64v8.0M378.46 420.72h8.0M382.46 416.72v8.0M380.24 420.81h8.0M384.24 416.81v8.0M382.02 420.89h8.0M386.02 416.89v8.0M383.80 420.97h8.0M387.80 416.97v8.0M385.58 421.05h8.0M389.58 417.05v8.0M387.36 421.13h8.0M391.36 417.13v8.0M389.14 421.21h8.0M393.14 417.21v8.0M390.92 421.29h8.0M394.92 417.29v8.0M392.70 421.36h8.0M396.70 417.36v8.0M394.48 421.44h8.0M398.48 417.44v8.0M396.26 421.51h8.0M400.26 417.51v8.0M398.04 421.58h8.0M402.04 417.58v8.0M399.82 421.65h8.0M403.82 417.65v8.0M401.60 421.72h8.0M405.60 417.72v8.0M403.38 421.79h8.0M407.38 417.79v8.0M405.16 421.86h8.0M409.16 417.86v8.0M406.94 421.93h8.0M410.94 417.93v8.0M408.72 421.99h8.0M412.72 417.99v8.0M410.50 422.06h8.0M414.50 418.06v8.0M412.28 422.12h8.0M416.28 418.12v8.0M414.06 422.19h8.0M418.06 418.19v8.0M415.84 422.25h8.0M419.84 418.25v8.0M417.62 422.31h8.0M421.62 418.31v8.0M419.40 422.37h8.0M423.40 418.37v8.0M421.18 422.43h8.0M425.18 418.43v8.0M422.96 422.49h8.0M426.96 418.49v8.0M424.74 422.54h8.0M428.74 418.54v8.0M426.52 422.60h8.0M430.52 418.60v8.0M428.30 422.66h8.0M432.30 418.66v8.0M430.08 422.71h8.0M434.08 418.71v8.0M431.86 422.77h8.0M435.86 418.77v8.0M433.64 422.82h8.0M437.64 418.82v8.0M435.42 422.87h8.0M439.42 418.87v8.0M437.20 422.93h8.0M441.20 418.93v8.0M438.98 422.98h8.0M442.98 418.98v8.0M440.76 423.03h8.0M444.76 419.03v8.0M442.54 423.08h8.0M446.54 419.08v8.0M444.32 423.13h8.0M448.32 419.13v8.0M446.10 423.18h8.0M450.10 419.18v8.0M447.88 423.22h8.0M451.88 419.22v8.0M449.66 423.27h8.0M453.66 419.27v8.0M451.44 423.32h8.0M455.44 419.32v8.0M453.22 423.37h8.0M457.22 419.37v8.0M455.00 423.41h8.0M459.00 419.41v8.0M456.78 423.46h8.0M460.78 419.46v8.0M458.56 423.50h8.0M462.56 419.50v8.0M460.34 423.54h8.0M464.34 419.54v8.0M462.12 423.59h8.0M466.12 419.59v8.0M463.90 423.63h8.0M467.90 419.63v8.0M465.68 423.67h8.0M469.68 419.67v8.0M467.46 423.71h8.0M471.46 419.71v8.0M469.24 423.75h8.0M473.24 419.75v8.0M471.02 423.79h8.0M475.02 419.79v8.0M472.80 423.83h8.0M476.80 419.83v8.0M474.58 423.87h8.0M478.58 419.87v8.0M476.36 423.91h8.0M480.36 419.91v8.0M478.14 423.95h8.0M482.14 419.95v8.0M479.92 423.99h8.0M483.92 419.99v8.0M481.70 424.03h8.0M485.70 420.03v8.0M483.48 424.06h8.0M487.48 420.06v8.0M485.26 424.10h8.0M489.26 420.10v8.0M487.04 424.14h8.0M491.04 420.14v8.0M488.82 424.17h8.0M492.82 420.17v8.0M490.60 424.21h8.0M494.60 420.21v8.0M492.38 424.24h8.0M496.38 420.24v8.0M494.16 424.28h8.0M498.16 420.28v8.0M495.94 424.31h8.0M499.94 420.31v8.0M497.72 424.34h8.0M501.72 420.34v8.0M499.50 424.38h8.0M503.50 420.38v8.0M501.28 424.41h8.0M505.28 420.41v8.0M503.06 424.44h8.0M507.06 420.44v8.0M504.84 424.47h8.0M508.84 420.47v8.0M506.62 424.51h8.0M510.62 420.51v8.0M508.40 424.54h8.0M512.40 420.54v8.0M510.18 424.57h8.0M514.18 420.57v8.0M511.96 424.60h8.0M515.96 420.60v8.0M513.74 424.63h8.0M517.74 420.63v8.0M515.52 424.66h8.0M519.52 420.66v8.0M517.30 424.69h8.0M521.30 420.69v8.0M519.08 424.72h8.0M523.08 420.72v8.0M520.86 424.75h8.0M524.86 420.75v8.0M522.64 424.78h8.0M526.64 420.78v8.0M524.42 424.80h8.0M528.42 420.80v8.0M526.20 424.83h8.0M530.20 420.83v8.0M527.98 424.86h8.0M531.98 420.86v8.0M529.76 424.89h8.0M533.76 420.89v8.0M531.54 424.91h8.0M535.54 420.91v8.0M533.32 424.94h8.0M537.32 420.94v8.0M535.10 424.97h8.0M539.10 420.97v8.0M536.88 424.99h8.0M540.88 420.99v8.0M538.66 425.02h8.0M542.66 421.02v8.0M540.44 425.04h8.0M544.44 421.04v8.0M542.22 425.07h8.0M546.22 421.07v8.0M544.00 425.09h8.0M548.00 421.09v8.0M545.78 425.12h8.0M549.78 421.12v8.0M547.56 425.14h8.0M551.56 421.14v8.0M549.34 425.17h8.0M553.34 421.17v8.0M551.12 425.19h8.0M555.12 421.19v8.0M552.90 425.21h8.0M556.90 421.21v8.0M554.68 425.24h8.0M558.68 421.24v8.0M556.46 425.26h8.0M560.46 421.26v8.0M558.24 425.28h8.0M562.24 421.28v8.0M560.02 425.31h8.0M564.02 421.31v8.0M561.80 425.33h8.0M565.80 421.33v8.0M563.58 425.35h8.0M567.58 421.35v8.0M565.36 425.37h8.0M569.36 421.37v8.0M567.14 425.39h8.0M571.14 421.39v8.0M568.92 425.42h8.0M572.92 421.42v8.0M570.70 425.44h8.0M574.70 421.44v8.0M572.48 425.46h8.0M576.48 421.46v8.0M574.26 425.48h8.0M578.26 421.48v8.0M576.04 425.50h8.0M580.04 421.50v8.0M577.82 425.52h8.0M581.82 421.52v8.0M579.60 425.54h8.0M583.60 421.54v8.0M581.38 425.56h8.0M585.38 421.56v8.0M583.16 425.58h8.0M587.16 421.58v8.0M584.94 425.60h8.0M588.94 421.60v8.0M586.72 425.62h8.0M590.72 421.62v8.0M588.50 425.64h8.0M592.50 421.64v8.0" fill="none" stroke="#1e50e8" stroke-width="0.95"/>
<text transform="translate(58.50,445.60) scale(1,1.047)" text-anchor="middle">0</text>
<text transform="translate(147.50,445.60) scale(1,1.047)" text-anchor="middle">5</text>
<text transform="translate(236.50,445.60) scale(1,1.047)" text-anchor="middle">10</text>
<text transform="translate(325.50,445.60) scale(1,1.047)" text-anchor="middle">15</text>
<text transform="translate(414.50,445.60) scale(1,1.047)" text-anchor="middle">20</text>
<text transform="translate(503.50,445.60) scale(1,1.047)" text-anchor="middle">25</text>
<text transform="translate(592.50,445.60) scale(1,1.047)" text-anchor="middle">30</text>
<text transform="translate(54.00,433.70) scale(1,1.047)" text-anchor="end">0</text>
<text transform="translate(54.00,391.60) scale(1,1.047)" text-anchor="end">50</text>
<text transform="translate(54.00,349.50) scale(1,1.047)" text-anchor="end">100</text>
<text transform="translate(54.00,307.40) scale(1,1.047)" text-anchor="end">150</text>
<text transform="translate(54.00,265.30) scale(1,1.047)" text-anchor="end">200</text>
<text transform="translate(54.00,223.20) scale(1,1.047)" text-anchor="end">250</text>
<text transform="translate(54.00,181.10) scale(1,1.047)" text-anchor="end">300</text>
<text transform="translate(54.00,139.00) scale(1,1.047)" text-anchor="end">350</text>
<text transform="translate(54.00,96.90) scale(1,1.047)" text-anchor="end">400</text>
<text transform="translate(54.00,54.80) scale(1,1.047)" text-anchor="end">450</text>
<text transform="translate(54.00,12.70) scale(1,1.047)" text-anchor="end">500</text>
<text transform="translate(325.50,461.90) scale(1,1.047)" text-anchor="middle">R/R<tspan font-size="10.5" dy="6.9">0</tspan></text>
<text transform="translate(15.6,218.5) scale(1,1.047) rotate(-90)" text-anchor="middle">V<tspan font-size="10.5" dy="6.9">z</tspan><tspan dy="-6.9">(km</tspan><tspan dy="1.2">–</tspan><tspan dy="-1.2">s</tspan><tspan font-size="9.5" dy="-7.2">−1</tspan><tspan dy="7.2">)</tspan></text>
<rect x="430.6" y="38" width="114.4" height="144.9" fill="#fff" stroke="#444" stroke-width="1"/>
<path d="M438.5 53.0H480.5" stroke="#4058d8" stroke-width="1.1"/>
<path d="M438.5 75.3H480.5" stroke="#d23c3c" stroke-width="1.2" stroke-dasharray="8.6 7.9"/>
<path d="M438.5 94.5H480.5" stroke="#74d856" stroke-width="1.15" stroke-dasharray="1.1 5.0 8.3 5.0"/>
<path d="M438.5 113.5H480.5" stroke="#333" stroke-width="1.1" stroke-dasharray="1.1 5.06"/>
<path d="M455.20 132.60h8.0M459.20 128.60v8.0M456.35 129.75l5.70 5.70M456.35 135.45l5.70 -5.70" stroke="#9424d8" stroke-width="1.1" fill="none"/>
<path d="M456.35 148.85l5.70 5.70M456.35 154.55l5.70 -5.70" stroke="#5adccc" stroke-width="0.9" fill="none"/>
<path d="M455.20 171.00h8.0M459.20 167.00v8.0" stroke="#2c4ad0" stroke-width="1.1" fill="none"/>
<text transform="translate(484.50,55.00) scale(1,1.047)" text-anchor="start">t/t<tspan font-size="10.5" dy="6.7">0</tspan><tspan dy="-6.7">=0.1</tspan></text>
<text transform="translate(484.50,80.20) scale(1,1.047)" text-anchor="start">0.2</text>
<text transform="translate(484.50,99.40) scale(1,1.047)" text-anchor="start">0.693147</text>
<text transform="translate(484.50,118.40) scale(1,1.047)" text-anchor="start">1</text>
<text transform="translate(484.50,137.50) scale(1,1.047)" text-anchor="start">2</text>
<text transform="translate(484.50,156.60) scale(1,1.047)" text-anchor="start">3</text>
<text transform="translate(484.50,175.90) scale(1,1.047)" text-anchor="start">4</text>
</svg></body></html>
